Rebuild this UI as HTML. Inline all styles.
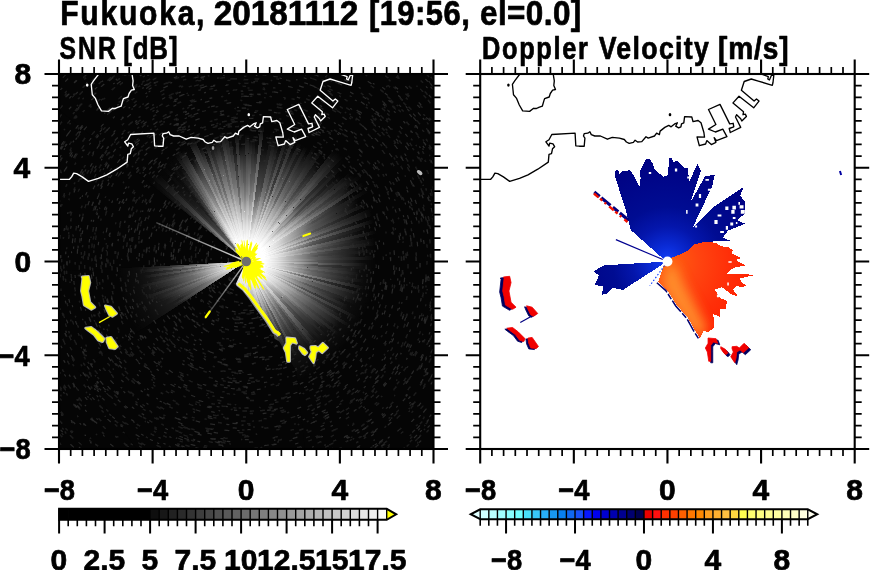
<!DOCTYPE html>
<html><head><meta charset="utf-8"><style>
html,body{margin:0;padding:0;background:#fff;width:870px;height:570px;overflow:hidden}
body>svg{position:absolute;left:0;top:0}
text{font-family:"Liberation Sans",sans-serif;font-weight:bold;fill:#000;stroke:#000;stroke-width:0.7px;stroke-linejoin:round}
</style></head><body>
<svg width="870" height="570" viewBox="0 0 870 570">
<text transform="translate(60.26,25.00) scale(0.8716,1)" style="font-size:34.5px;letter-spacing:2px" >Fukuoka,</text>
<text transform="translate(213.73,25.00) scale(0.9662,1)" style="font-size:34.5px;letter-spacing:0px" >20181112</text>
<text transform="translate(368.90,25.00) scale(0.8991,1)" style="font-size:34.5px;letter-spacing:0.5px" >[19:56,</text>
<text transform="translate(479.99,25.00) scale(0.9100,1)" style="font-size:34.5px;letter-spacing:0.5px" >el=0.0]</text>
<text transform="translate(59.59,58.90) scale(0.8103,1)" style="font-size:30.5px;letter-spacing:2.5px" >SNR</text>
<text transform="translate(123.25,58.90) scale(0.8484,1)" style="font-size:30.5px;letter-spacing:1px" >[dB]</text>
<text transform="translate(482.07,58.90) scale(0.8317,1)" style="font-size:30.5px;letter-spacing:2px" >Doppler</text>
<text transform="translate(598.70,58.90) scale(0.8762,1)" style="font-size:30.5px;letter-spacing:1.5px" >Velocity</text>
<text transform="translate(717.98,58.90) scale(0.9200,1)" style="font-size:30.5px;letter-spacing:1px" >[m/s]</text>
<rect x="59.0" y="74.0" width="374.5" height="375.0" fill="#050505"/>
<svg x="59.0" y="74.0" width="374.5" height="375.0" viewBox="59.0 74.0 374.5 375.0" overflow="hidden">
<defs><radialGradient id="s0" gradientUnits="userSpaceOnUse" cx="246.25" cy="261.50" r="77.9"><stop offset="0.00" stop-color="#fff" stop-opacity="0.95"/><stop offset="0.15" stop-color="#fff" stop-opacity="0.95"/><stop offset="0.35" stop-color="#fff" stop-opacity="0.61"/><stop offset="0.55" stop-color="#fff" stop-opacity="0.30"/><stop offset="0.75" stop-color="#fff" stop-opacity="0.15"/><stop offset="0.90" stop-color="#fff" stop-opacity="0.07"/><stop offset="1.00" stop-color="#fff" stop-opacity="0.00"/></radialGradient><radialGradient id="s1" gradientUnits="userSpaceOnUse" cx="246.25" cy="261.50" r="80.4"><stop offset="0.00" stop-color="#fff" stop-opacity="0.95"/><stop offset="0.15" stop-color="#fff" stop-opacity="0.95"/><stop offset="0.35" stop-color="#fff" stop-opacity="0.61"/><stop offset="0.55" stop-color="#fff" stop-opacity="0.30"/><stop offset="0.75" stop-color="#fff" stop-opacity="0.15"/><stop offset="0.90" stop-color="#fff" stop-opacity="0.07"/><stop offset="1.00" stop-color="#fff" stop-opacity="0.00"/></radialGradient><radialGradient id="s2" gradientUnits="userSpaceOnUse" cx="246.25" cy="261.50" r="85.0"><stop offset="0.00" stop-color="#fff" stop-opacity="0.95"/><stop offset="0.15" stop-color="#fff" stop-opacity="0.95"/><stop offset="0.35" stop-color="#fff" stop-opacity="0.47"/><stop offset="0.55" stop-color="#fff" stop-opacity="0.15"/><stop offset="0.75" stop-color="#fff" stop-opacity="0.07"/><stop offset="0.90" stop-color="#fff" stop-opacity="0.03"/><stop offset="1.00" stop-color="#fff" stop-opacity="0.00"/></radialGradient><radialGradient id="s3" gradientUnits="userSpaceOnUse" cx="246.25" cy="261.50" r="75.1"><stop offset="0.00" stop-color="#fff" stop-opacity="0.95"/><stop offset="0.15" stop-color="#fff" stop-opacity="0.95"/><stop offset="0.35" stop-color="#fff" stop-opacity="0.63"/><stop offset="0.55" stop-color="#fff" stop-opacity="0.32"/><stop offset="0.75" stop-color="#fff" stop-opacity="0.16"/><stop offset="0.90" stop-color="#fff" stop-opacity="0.07"/><stop offset="1.00" stop-color="#fff" stop-opacity="0.00"/></radialGradient><radialGradient id="s4" gradientUnits="userSpaceOnUse" cx="246.25" cy="261.50" r="79.6"><stop offset="0.00" stop-color="#fff" stop-opacity="0.95"/><stop offset="0.15" stop-color="#fff" stop-opacity="0.95"/><stop offset="0.35" stop-color="#fff" stop-opacity="0.53"/><stop offset="0.55" stop-color="#fff" stop-opacity="0.21"/><stop offset="0.75" stop-color="#fff" stop-opacity="0.11"/><stop offset="0.90" stop-color="#fff" stop-opacity="0.05"/><stop offset="1.00" stop-color="#fff" stop-opacity="0.00"/></radialGradient><radialGradient id="s5" gradientUnits="userSpaceOnUse" cx="246.25" cy="261.50" r="92.3"><stop offset="0.00" stop-color="#fff" stop-opacity="0.95"/><stop offset="0.15" stop-color="#fff" stop-opacity="0.95"/><stop offset="0.35" stop-color="#fff" stop-opacity="0.57"/><stop offset="0.55" stop-color="#fff" stop-opacity="0.25"/><stop offset="0.75" stop-color="#fff" stop-opacity="0.13"/><stop offset="0.90" stop-color="#fff" stop-opacity="0.06"/><stop offset="1.00" stop-color="#fff" stop-opacity="0.00"/></radialGradient><radialGradient id="s6" gradientUnits="userSpaceOnUse" cx="246.25" cy="261.50" r="90.0"><stop offset="0.00" stop-color="#fff" stop-opacity="0.95"/><stop offset="0.15" stop-color="#fff" stop-opacity="0.95"/><stop offset="0.35" stop-color="#fff" stop-opacity="0.58"/><stop offset="0.55" stop-color="#fff" stop-opacity="0.26"/><stop offset="0.75" stop-color="#fff" stop-opacity="0.13"/><stop offset="0.90" stop-color="#fff" stop-opacity="0.06"/><stop offset="1.00" stop-color="#fff" stop-opacity="0.00"/></radialGradient><radialGradient id="s7" gradientUnits="userSpaceOnUse" cx="246.25" cy="261.50" r="87.0"><stop offset="0.00" stop-color="#fff" stop-opacity="0.95"/><stop offset="0.15" stop-color="#fff" stop-opacity="0.95"/><stop offset="0.35" stop-color="#fff" stop-opacity="0.50"/><stop offset="0.55" stop-color="#fff" stop-opacity="0.18"/><stop offset="0.75" stop-color="#fff" stop-opacity="0.09"/><stop offset="0.90" stop-color="#fff" stop-opacity="0.04"/><stop offset="1.00" stop-color="#fff" stop-opacity="0.00"/></radialGradient><radialGradient id="s8" gradientUnits="userSpaceOnUse" cx="246.25" cy="261.50" r="87.3"><stop offset="0.00" stop-color="#fff" stop-opacity="0.95"/><stop offset="0.15" stop-color="#fff" stop-opacity="0.95"/><stop offset="0.35" stop-color="#fff" stop-opacity="0.64"/><stop offset="0.55" stop-color="#fff" stop-opacity="0.33"/><stop offset="0.75" stop-color="#fff" stop-opacity="0.16"/><stop offset="0.90" stop-color="#fff" stop-opacity="0.07"/><stop offset="1.00" stop-color="#fff" stop-opacity="0.00"/></radialGradient><radialGradient id="s9" gradientUnits="userSpaceOnUse" cx="246.25" cy="261.50" r="85.8"><stop offset="0.00" stop-color="#fff" stop-opacity="0.95"/><stop offset="0.15" stop-color="#fff" stop-opacity="0.95"/><stop offset="0.35" stop-color="#fff" stop-opacity="0.64"/><stop offset="0.55" stop-color="#fff" stop-opacity="0.33"/><stop offset="0.75" stop-color="#fff" stop-opacity="0.16"/><stop offset="0.90" stop-color="#fff" stop-opacity="0.07"/><stop offset="1.00" stop-color="#fff" stop-opacity="0.00"/></radialGradient><radialGradient id="s10" gradientUnits="userSpaceOnUse" cx="246.25" cy="261.50" r="88.7"><stop offset="0.00" stop-color="#fff" stop-opacity="0.95"/><stop offset="0.15" stop-color="#fff" stop-opacity="0.95"/><stop offset="0.35" stop-color="#fff" stop-opacity="0.48"/><stop offset="0.55" stop-color="#fff" stop-opacity="0.15"/><stop offset="0.75" stop-color="#fff" stop-opacity="0.08"/><stop offset="0.90" stop-color="#fff" stop-opacity="0.03"/><stop offset="1.00" stop-color="#fff" stop-opacity="0.00"/></radialGradient><radialGradient id="s11" gradientUnits="userSpaceOnUse" cx="246.25" cy="261.50" r="90.5"><stop offset="0.00" stop-color="#fff" stop-opacity="0.95"/><stop offset="0.15" stop-color="#fff" stop-opacity="0.95"/><stop offset="0.35" stop-color="#fff" stop-opacity="0.59"/><stop offset="0.55" stop-color="#fff" stop-opacity="0.27"/><stop offset="0.75" stop-color="#fff" stop-opacity="0.14"/><stop offset="0.90" stop-color="#fff" stop-opacity="0.06"/><stop offset="1.00" stop-color="#fff" stop-opacity="0.00"/></radialGradient><radialGradient id="s12" gradientUnits="userSpaceOnUse" cx="246.25" cy="261.50" r="83.0"><stop offset="0.00" stop-color="#fff" stop-opacity="0.95"/><stop offset="0.15" stop-color="#fff" stop-opacity="0.95"/><stop offset="0.35" stop-color="#fff" stop-opacity="0.45"/><stop offset="0.55" stop-color="#fff" stop-opacity="0.12"/><stop offset="0.75" stop-color="#fff" stop-opacity="0.06"/><stop offset="0.90" stop-color="#fff" stop-opacity="0.03"/><stop offset="1.00" stop-color="#fff" stop-opacity="0.00"/></radialGradient><radialGradient id="s13" gradientUnits="userSpaceOnUse" cx="246.25" cy="261.50" r="93.1"><stop offset="0.00" stop-color="#fff" stop-opacity="0.95"/><stop offset="0.15" stop-color="#fff" stop-opacity="0.95"/><stop offset="0.35" stop-color="#fff" stop-opacity="0.56"/><stop offset="0.55" stop-color="#fff" stop-opacity="0.24"/><stop offset="0.75" stop-color="#fff" stop-opacity="0.12"/><stop offset="0.90" stop-color="#fff" stop-opacity="0.05"/><stop offset="1.00" stop-color="#fff" stop-opacity="0.00"/></radialGradient><radialGradient id="s14" gradientUnits="userSpaceOnUse" cx="246.25" cy="261.50" r="91.0"><stop offset="0.00" stop-color="#fff" stop-opacity="0.95"/><stop offset="0.15" stop-color="#fff" stop-opacity="0.95"/><stop offset="0.35" stop-color="#fff" stop-opacity="0.65"/><stop offset="0.55" stop-color="#fff" stop-opacity="0.34"/><stop offset="0.75" stop-color="#fff" stop-opacity="0.17"/><stop offset="0.90" stop-color="#fff" stop-opacity="0.08"/><stop offset="1.00" stop-color="#fff" stop-opacity="0.00"/></radialGradient><radialGradient id="s15" gradientUnits="userSpaceOnUse" cx="246.25" cy="261.50" r="91.3"><stop offset="0.00" stop-color="#fff" stop-opacity="0.95"/><stop offset="0.15" stop-color="#fff" stop-opacity="0.95"/><stop offset="0.35" stop-color="#fff" stop-opacity="0.67"/><stop offset="0.55" stop-color="#fff" stop-opacity="0.36"/><stop offset="0.75" stop-color="#fff" stop-opacity="0.18"/><stop offset="0.90" stop-color="#fff" stop-opacity="0.08"/><stop offset="1.00" stop-color="#fff" stop-opacity="0.00"/></radialGradient><radialGradient id="s16" gradientUnits="userSpaceOnUse" cx="246.25" cy="261.50" r="86.0"><stop offset="0.00" stop-color="#fff" stop-opacity="0.95"/><stop offset="0.15" stop-color="#fff" stop-opacity="0.95"/><stop offset="0.35" stop-color="#fff" stop-opacity="0.65"/><stop offset="0.55" stop-color="#fff" stop-opacity="0.34"/><stop offset="0.75" stop-color="#fff" stop-opacity="0.17"/><stop offset="0.90" stop-color="#fff" stop-opacity="0.08"/><stop offset="1.00" stop-color="#fff" stop-opacity="0.00"/></radialGradient><radialGradient id="s17" gradientUnits="userSpaceOnUse" cx="246.25" cy="261.50" r="87.2"><stop offset="0.00" stop-color="#fff" stop-opacity="0.95"/><stop offset="0.15" stop-color="#fff" stop-opacity="0.95"/><stop offset="0.35" stop-color="#fff" stop-opacity="0.67"/><stop offset="0.55" stop-color="#fff" stop-opacity="0.36"/><stop offset="0.75" stop-color="#fff" stop-opacity="0.18"/><stop offset="0.90" stop-color="#fff" stop-opacity="0.08"/><stop offset="1.00" stop-color="#fff" stop-opacity="0.00"/></radialGradient><radialGradient id="s18" gradientUnits="userSpaceOnUse" cx="246.25" cy="261.50" r="95.3"><stop offset="0.00" stop-color="#fff" stop-opacity="0.95"/><stop offset="0.15" stop-color="#fff" stop-opacity="0.95"/><stop offset="0.35" stop-color="#fff" stop-opacity="0.50"/><stop offset="0.55" stop-color="#fff" stop-opacity="0.17"/><stop offset="0.75" stop-color="#fff" stop-opacity="0.09"/><stop offset="0.90" stop-color="#fff" stop-opacity="0.04"/><stop offset="1.00" stop-color="#fff" stop-opacity="0.00"/></radialGradient><radialGradient id="s19" gradientUnits="userSpaceOnUse" cx="246.25" cy="261.50" r="82.5"><stop offset="0.00" stop-color="#fff" stop-opacity="0.95"/><stop offset="0.15" stop-color="#fff" stop-opacity="0.95"/><stop offset="0.35" stop-color="#fff" stop-opacity="0.51"/><stop offset="0.55" stop-color="#fff" stop-opacity="0.18"/><stop offset="0.75" stop-color="#fff" stop-opacity="0.09"/><stop offset="0.90" stop-color="#fff" stop-opacity="0.04"/><stop offset="1.00" stop-color="#fff" stop-opacity="0.00"/></radialGradient><radialGradient id="s20" gradientUnits="userSpaceOnUse" cx="246.25" cy="261.50" r="97.6"><stop offset="0.00" stop-color="#fff" stop-opacity="0.95"/><stop offset="0.15" stop-color="#fff" stop-opacity="0.95"/><stop offset="0.35" stop-color="#fff" stop-opacity="0.56"/><stop offset="0.55" stop-color="#fff" stop-opacity="0.24"/><stop offset="0.75" stop-color="#fff" stop-opacity="0.12"/><stop offset="0.90" stop-color="#fff" stop-opacity="0.05"/><stop offset="1.00" stop-color="#fff" stop-opacity="0.00"/></radialGradient><radialGradient id="s21" gradientUnits="userSpaceOnUse" cx="246.25" cy="261.50" r="91.9"><stop offset="0.00" stop-color="#fff" stop-opacity="0.95"/><stop offset="0.15" stop-color="#fff" stop-opacity="0.95"/><stop offset="0.35" stop-color="#fff" stop-opacity="0.54"/><stop offset="0.55" stop-color="#fff" stop-opacity="0.22"/><stop offset="0.75" stop-color="#fff" stop-opacity="0.11"/><stop offset="0.90" stop-color="#fff" stop-opacity="0.05"/><stop offset="1.00" stop-color="#fff" stop-opacity="0.00"/></radialGradient><radialGradient id="s22" gradientUnits="userSpaceOnUse" cx="246.25" cy="261.50" r="90.1"><stop offset="0.00" stop-color="#fff" stop-opacity="0.95"/><stop offset="0.15" stop-color="#fff" stop-opacity="0.95"/><stop offset="0.35" stop-color="#fff" stop-opacity="0.55"/><stop offset="0.55" stop-color="#fff" stop-opacity="0.24"/><stop offset="0.75" stop-color="#fff" stop-opacity="0.12"/><stop offset="0.90" stop-color="#fff" stop-opacity="0.05"/><stop offset="1.00" stop-color="#fff" stop-opacity="0.00"/></radialGradient><radialGradient id="s23" gradientUnits="userSpaceOnUse" cx="246.25" cy="261.50" r="88.1"><stop offset="0.00" stop-color="#fff" stop-opacity="0.95"/><stop offset="0.15" stop-color="#fff" stop-opacity="0.95"/><stop offset="0.35" stop-color="#fff" stop-opacity="0.60"/><stop offset="0.55" stop-color="#fff" stop-opacity="0.28"/><stop offset="0.75" stop-color="#fff" stop-opacity="0.14"/><stop offset="0.90" stop-color="#fff" stop-opacity="0.06"/><stop offset="1.00" stop-color="#fff" stop-opacity="0.00"/></radialGradient><radialGradient id="s24" gradientUnits="userSpaceOnUse" cx="246.25" cy="261.50" r="93.1"><stop offset="0.00" stop-color="#fff" stop-opacity="0.95"/><stop offset="0.15" stop-color="#fff" stop-opacity="0.95"/><stop offset="0.35" stop-color="#fff" stop-opacity="0.66"/><stop offset="0.55" stop-color="#fff" stop-opacity="0.35"/><stop offset="0.75" stop-color="#fff" stop-opacity="0.18"/><stop offset="0.90" stop-color="#fff" stop-opacity="0.08"/><stop offset="1.00" stop-color="#fff" stop-opacity="0.00"/></radialGradient><radialGradient id="s25" gradientUnits="userSpaceOnUse" cx="246.25" cy="261.50" r="95.8"><stop offset="0.00" stop-color="#fff" stop-opacity="0.96"/><stop offset="0.15" stop-color="#fff" stop-opacity="0.96"/><stop offset="0.35" stop-color="#fff" stop-opacity="0.67"/><stop offset="0.55" stop-color="#fff" stop-opacity="0.37"/><stop offset="0.75" stop-color="#fff" stop-opacity="0.18"/><stop offset="0.90" stop-color="#fff" stop-opacity="0.08"/><stop offset="1.00" stop-color="#fff" stop-opacity="0.00"/></radialGradient><radialGradient id="s26" gradientUnits="userSpaceOnUse" cx="246.25" cy="261.50" r="99.8"><stop offset="0.00" stop-color="#fff" stop-opacity="0.96"/><stop offset="0.15" stop-color="#fff" stop-opacity="0.96"/><stop offset="0.35" stop-color="#fff" stop-opacity="0.69"/><stop offset="0.55" stop-color="#fff" stop-opacity="0.38"/><stop offset="0.75" stop-color="#fff" stop-opacity="0.19"/><stop offset="0.90" stop-color="#fff" stop-opacity="0.09"/><stop offset="1.00" stop-color="#fff" stop-opacity="0.00"/></radialGradient><radialGradient id="s27" gradientUnits="userSpaceOnUse" cx="246.25" cy="261.50" r="97.2"><stop offset="0.00" stop-color="#fff" stop-opacity="0.96"/><stop offset="0.15" stop-color="#fff" stop-opacity="0.96"/><stop offset="0.35" stop-color="#fff" stop-opacity="0.53"/><stop offset="0.55" stop-color="#fff" stop-opacity="0.20"/><stop offset="0.75" stop-color="#fff" stop-opacity="0.10"/><stop offset="0.90" stop-color="#fff" stop-opacity="0.04"/><stop offset="1.00" stop-color="#fff" stop-opacity="0.00"/></radialGradient><radialGradient id="s28" gradientUnits="userSpaceOnUse" cx="246.25" cy="261.50" r="101.6"><stop offset="0.00" stop-color="#fff" stop-opacity="0.96"/><stop offset="0.15" stop-color="#fff" stop-opacity="0.96"/><stop offset="0.35" stop-color="#fff" stop-opacity="0.66"/><stop offset="0.55" stop-color="#fff" stop-opacity="0.35"/><stop offset="0.75" stop-color="#fff" stop-opacity="0.18"/><stop offset="0.90" stop-color="#fff" stop-opacity="0.08"/><stop offset="1.00" stop-color="#fff" stop-opacity="0.00"/></radialGradient><radialGradient id="s29" gradientUnits="userSpaceOnUse" cx="246.25" cy="261.50" r="103.3"><stop offset="0.00" stop-color="#fff" stop-opacity="0.97"/><stop offset="0.15" stop-color="#fff" stop-opacity="0.97"/><stop offset="0.35" stop-color="#fff" stop-opacity="0.62"/><stop offset="0.55" stop-color="#fff" stop-opacity="0.30"/><stop offset="0.75" stop-color="#fff" stop-opacity="0.15"/><stop offset="0.90" stop-color="#fff" stop-opacity="0.07"/><stop offset="1.00" stop-color="#fff" stop-opacity="0.00"/></radialGradient><radialGradient id="s30" gradientUnits="userSpaceOnUse" cx="246.25" cy="261.50" r="100.5"><stop offset="0.00" stop-color="#fff" stop-opacity="0.97"/><stop offset="0.15" stop-color="#fff" stop-opacity="0.97"/><stop offset="0.35" stop-color="#fff" stop-opacity="0.53"/><stop offset="0.55" stop-color="#fff" stop-opacity="0.20"/><stop offset="0.75" stop-color="#fff" stop-opacity="0.10"/><stop offset="0.90" stop-color="#fff" stop-opacity="0.05"/><stop offset="1.00" stop-color="#fff" stop-opacity="0.00"/></radialGradient><radialGradient id="s31" gradientUnits="userSpaceOnUse" cx="246.25" cy="261.50" r="103.6"><stop offset="0.00" stop-color="#fff" stop-opacity="0.97"/><stop offset="0.15" stop-color="#fff" stop-opacity="0.97"/><stop offset="0.35" stop-color="#fff" stop-opacity="0.60"/><stop offset="0.55" stop-color="#fff" stop-opacity="0.28"/><stop offset="0.75" stop-color="#fff" stop-opacity="0.14"/><stop offset="0.90" stop-color="#fff" stop-opacity="0.06"/><stop offset="1.00" stop-color="#fff" stop-opacity="0.00"/></radialGradient><radialGradient id="s32" gradientUnits="userSpaceOnUse" cx="246.25" cy="261.50" r="93.8"><stop offset="0.00" stop-color="#fff" stop-opacity="0.97"/><stop offset="0.15" stop-color="#fff" stop-opacity="0.97"/><stop offset="0.35" stop-color="#fff" stop-opacity="0.48"/><stop offset="0.55" stop-color="#fff" stop-opacity="0.15"/><stop offset="0.75" stop-color="#fff" stop-opacity="0.07"/><stop offset="0.90" stop-color="#fff" stop-opacity="0.03"/><stop offset="1.00" stop-color="#fff" stop-opacity="0.00"/></radialGradient><radialGradient id="s33" gradientUnits="userSpaceOnUse" cx="246.25" cy="261.50" r="105.8"><stop offset="0.00" stop-color="#fff" stop-opacity="0.98"/><stop offset="0.15" stop-color="#fff" stop-opacity="0.98"/><stop offset="0.35" stop-color="#fff" stop-opacity="0.67"/><stop offset="0.55" stop-color="#fff" stop-opacity="0.35"/><stop offset="0.75" stop-color="#fff" stop-opacity="0.18"/><stop offset="0.90" stop-color="#fff" stop-opacity="0.08"/><stop offset="1.00" stop-color="#fff" stop-opacity="0.00"/></radialGradient><radialGradient id="s34" gradientUnits="userSpaceOnUse" cx="246.25" cy="261.50" r="91.4"><stop offset="0.00" stop-color="#fff" stop-opacity="0.98"/><stop offset="0.15" stop-color="#fff" stop-opacity="0.98"/><stop offset="0.35" stop-color="#fff" stop-opacity="0.67"/><stop offset="0.55" stop-color="#fff" stop-opacity="0.35"/><stop offset="0.75" stop-color="#fff" stop-opacity="0.17"/><stop offset="0.90" stop-color="#fff" stop-opacity="0.08"/><stop offset="1.00" stop-color="#fff" stop-opacity="0.00"/></radialGradient><radialGradient id="s35" gradientUnits="userSpaceOnUse" cx="246.25" cy="261.50" r="98.5"><stop offset="0.00" stop-color="#fff" stop-opacity="0.98"/><stop offset="0.15" stop-color="#fff" stop-opacity="0.98"/><stop offset="0.35" stop-color="#fff" stop-opacity="0.53"/><stop offset="0.55" stop-color="#fff" stop-opacity="0.19"/><stop offset="0.75" stop-color="#fff" stop-opacity="0.10"/><stop offset="0.90" stop-color="#fff" stop-opacity="0.04"/><stop offset="1.00" stop-color="#fff" stop-opacity="0.00"/></radialGradient><radialGradient id="s36" gradientUnits="userSpaceOnUse" cx="246.25" cy="261.50" r="96.8"><stop offset="0.00" stop-color="#fff" stop-opacity="0.98"/><stop offset="0.15" stop-color="#fff" stop-opacity="0.98"/><stop offset="0.35" stop-color="#fff" stop-opacity="0.64"/><stop offset="0.55" stop-color="#fff" stop-opacity="0.32"/><stop offset="0.75" stop-color="#fff" stop-opacity="0.16"/><stop offset="0.90" stop-color="#fff" stop-opacity="0.07"/><stop offset="1.00" stop-color="#fff" stop-opacity="0.00"/></radialGradient><radialGradient id="s37" gradientUnits="userSpaceOnUse" cx="246.25" cy="261.50" r="109.2"><stop offset="0.00" stop-color="#fff" stop-opacity="0.98"/><stop offset="0.15" stop-color="#fff" stop-opacity="0.98"/><stop offset="0.35" stop-color="#fff" stop-opacity="0.48"/><stop offset="0.55" stop-color="#fff" stop-opacity="0.14"/><stop offset="0.75" stop-color="#fff" stop-opacity="0.07"/><stop offset="0.90" stop-color="#fff" stop-opacity="0.03"/><stop offset="1.00" stop-color="#fff" stop-opacity="0.00"/></radialGradient><radialGradient id="s38" gradientUnits="userSpaceOnUse" cx="246.25" cy="261.50" r="104.6"><stop offset="0.00" stop-color="#fff" stop-opacity="0.99"/><stop offset="0.15" stop-color="#fff" stop-opacity="0.99"/><stop offset="0.35" stop-color="#fff" stop-opacity="0.46"/><stop offset="0.55" stop-color="#fff" stop-opacity="0.12"/><stop offset="0.75" stop-color="#fff" stop-opacity="0.06"/><stop offset="0.90" stop-color="#fff" stop-opacity="0.03"/><stop offset="1.00" stop-color="#fff" stop-opacity="0.00"/></radialGradient><radialGradient id="s39" gradientUnits="userSpaceOnUse" cx="246.25" cy="261.50" r="107.4"><stop offset="0.00" stop-color="#fff" stop-opacity="0.99"/><stop offset="0.15" stop-color="#fff" stop-opacity="0.99"/><stop offset="0.35" stop-color="#fff" stop-opacity="0.55"/><stop offset="0.55" stop-color="#fff" stop-opacity="0.22"/><stop offset="0.75" stop-color="#fff" stop-opacity="0.11"/><stop offset="0.90" stop-color="#fff" stop-opacity="0.05"/><stop offset="1.00" stop-color="#fff" stop-opacity="0.00"/></radialGradient><radialGradient id="s40" gradientUnits="userSpaceOnUse" cx="246.25" cy="261.50" r="111.4"><stop offset="0.00" stop-color="#fff" stop-opacity="0.99"/><stop offset="0.15" stop-color="#fff" stop-opacity="0.99"/><stop offset="0.35" stop-color="#fff" stop-opacity="0.69"/><stop offset="0.55" stop-color="#fff" stop-opacity="0.37"/><stop offset="0.75" stop-color="#fff" stop-opacity="0.18"/><stop offset="0.90" stop-color="#fff" stop-opacity="0.08"/><stop offset="1.00" stop-color="#fff" stop-opacity="0.00"/></radialGradient><radialGradient id="s41" gradientUnits="userSpaceOnUse" cx="246.25" cy="261.50" r="104.3"><stop offset="0.00" stop-color="#fff" stop-opacity="0.99"/><stop offset="0.15" stop-color="#fff" stop-opacity="0.99"/><stop offset="0.35" stop-color="#fff" stop-opacity="0.71"/><stop offset="0.55" stop-color="#fff" stop-opacity="0.39"/><stop offset="0.75" stop-color="#fff" stop-opacity="0.20"/><stop offset="0.90" stop-color="#fff" stop-opacity="0.09"/><stop offset="1.00" stop-color="#fff" stop-opacity="0.00"/></radialGradient><radialGradient id="s42" gradientUnits="userSpaceOnUse" cx="246.25" cy="261.50" r="100.8"><stop offset="0.00" stop-color="#fff" stop-opacity="1.00"/><stop offset="0.15" stop-color="#fff" stop-opacity="1.00"/><stop offset="0.35" stop-color="#fff" stop-opacity="0.51"/><stop offset="0.55" stop-color="#fff" stop-opacity="0.17"/><stop offset="0.75" stop-color="#fff" stop-opacity="0.09"/><stop offset="0.90" stop-color="#fff" stop-opacity="0.04"/><stop offset="1.00" stop-color="#fff" stop-opacity="0.00"/></radialGradient><radialGradient id="s43" gradientUnits="userSpaceOnUse" cx="246.25" cy="261.50" r="107.5"><stop offset="0.00" stop-color="#fff" stop-opacity="1.00"/><stop offset="0.15" stop-color="#fff" stop-opacity="1.00"/><stop offset="0.35" stop-color="#fff" stop-opacity="0.46"/><stop offset="0.55" stop-color="#fff" stop-opacity="0.11"/><stop offset="0.75" stop-color="#fff" stop-opacity="0.06"/><stop offset="0.90" stop-color="#fff" stop-opacity="0.03"/><stop offset="1.00" stop-color="#fff" stop-opacity="0.00"/></radialGradient><radialGradient id="s44" gradientUnits="userSpaceOnUse" cx="246.25" cy="261.50" r="99.7"><stop offset="0.00" stop-color="#fff" stop-opacity="1.00"/><stop offset="0.15" stop-color="#fff" stop-opacity="1.00"/><stop offset="0.35" stop-color="#fff" stop-opacity="0.57"/><stop offset="0.55" stop-color="#fff" stop-opacity="0.24"/><stop offset="0.75" stop-color="#fff" stop-opacity="0.12"/><stop offset="0.90" stop-color="#fff" stop-opacity="0.05"/><stop offset="1.00" stop-color="#fff" stop-opacity="0.00"/></radialGradient><radialGradient id="s45" gradientUnits="userSpaceOnUse" cx="246.25" cy="261.50" r="109.1"><stop offset="0.00" stop-color="#fff" stop-opacity="1.00"/><stop offset="0.15" stop-color="#fff" stop-opacity="1.00"/><stop offset="0.35" stop-color="#fff" stop-opacity="0.52"/><stop offset="0.55" stop-color="#fff" stop-opacity="0.18"/><stop offset="0.75" stop-color="#fff" stop-opacity="0.09"/><stop offset="0.90" stop-color="#fff" stop-opacity="0.04"/><stop offset="1.00" stop-color="#fff" stop-opacity="0.00"/></radialGradient><radialGradient id="s46" gradientUnits="userSpaceOnUse" cx="246.25" cy="261.50" r="97.5"><stop offset="0.00" stop-color="#fff" stop-opacity="1.00"/><stop offset="0.15" stop-color="#fff" stop-opacity="1.00"/><stop offset="0.35" stop-color="#fff" stop-opacity="0.67"/><stop offset="0.55" stop-color="#fff" stop-opacity="0.34"/><stop offset="0.75" stop-color="#fff" stop-opacity="0.17"/><stop offset="0.90" stop-color="#fff" stop-opacity="0.08"/><stop offset="1.00" stop-color="#fff" stop-opacity="0.00"/></radialGradient><radialGradient id="s47" gradientUnits="userSpaceOnUse" cx="246.25" cy="261.50" r="104.0"><stop offset="0.00" stop-color="#fff" stop-opacity="1.00"/><stop offset="0.15" stop-color="#fff" stop-opacity="1.00"/><stop offset="0.35" stop-color="#fff" stop-opacity="0.71"/><stop offset="0.55" stop-color="#fff" stop-opacity="0.38"/><stop offset="0.75" stop-color="#fff" stop-opacity="0.19"/><stop offset="0.90" stop-color="#fff" stop-opacity="0.09"/><stop offset="1.00" stop-color="#fff" stop-opacity="0.00"/></radialGradient><radialGradient id="s48" gradientUnits="userSpaceOnUse" cx="246.25" cy="261.50" r="117.3"><stop offset="0.00" stop-color="#fff" stop-opacity="1.00"/><stop offset="0.15" stop-color="#fff" stop-opacity="1.00"/><stop offset="0.35" stop-color="#fff" stop-opacity="0.60"/><stop offset="0.55" stop-color="#fff" stop-opacity="0.27"/><stop offset="0.75" stop-color="#fff" stop-opacity="0.13"/><stop offset="0.90" stop-color="#fff" stop-opacity="0.06"/><stop offset="1.00" stop-color="#fff" stop-opacity="0.00"/></radialGradient><radialGradient id="s49" gradientUnits="userSpaceOnUse" cx="246.25" cy="261.50" r="108.4"><stop offset="0.00" stop-color="#fff" stop-opacity="1.00"/><stop offset="0.15" stop-color="#fff" stop-opacity="1.00"/><stop offset="0.35" stop-color="#fff" stop-opacity="0.62"/><stop offset="0.55" stop-color="#fff" stop-opacity="0.29"/><stop offset="0.75" stop-color="#fff" stop-opacity="0.14"/><stop offset="0.90" stop-color="#fff" stop-opacity="0.06"/><stop offset="1.00" stop-color="#fff" stop-opacity="0.00"/></radialGradient><radialGradient id="s50" gradientUnits="userSpaceOnUse" cx="246.25" cy="261.50" r="113.1"><stop offset="0.00" stop-color="#fff" stop-opacity="1.00"/><stop offset="0.15" stop-color="#fff" stop-opacity="1.00"/><stop offset="0.35" stop-color="#fff" stop-opacity="0.64"/><stop offset="0.55" stop-color="#fff" stop-opacity="0.31"/><stop offset="0.75" stop-color="#fff" stop-opacity="0.15"/><stop offset="0.90" stop-color="#fff" stop-opacity="0.07"/><stop offset="1.00" stop-color="#fff" stop-opacity="0.00"/></radialGradient><radialGradient id="s51" gradientUnits="userSpaceOnUse" cx="246.25" cy="261.50" r="111.9"><stop offset="0.00" stop-color="#fff" stop-opacity="1.00"/><stop offset="0.15" stop-color="#fff" stop-opacity="1.00"/><stop offset="0.35" stop-color="#fff" stop-opacity="0.64"/><stop offset="0.55" stop-color="#fff" stop-opacity="0.31"/><stop offset="0.75" stop-color="#fff" stop-opacity="0.16"/><stop offset="0.90" stop-color="#fff" stop-opacity="0.07"/><stop offset="1.00" stop-color="#fff" stop-opacity="0.00"/></radialGradient><radialGradient id="s52" gradientUnits="userSpaceOnUse" cx="246.25" cy="261.50" r="121.0"><stop offset="0.00" stop-color="#fff" stop-opacity="1.00"/><stop offset="0.15" stop-color="#fff" stop-opacity="1.00"/><stop offset="0.35" stop-color="#fff" stop-opacity="0.62"/><stop offset="0.55" stop-color="#fff" stop-opacity="0.29"/><stop offset="0.75" stop-color="#fff" stop-opacity="0.15"/><stop offset="0.90" stop-color="#fff" stop-opacity="0.07"/><stop offset="1.00" stop-color="#fff" stop-opacity="0.00"/></radialGradient><radialGradient id="s53" gradientUnits="userSpaceOnUse" cx="246.25" cy="261.50" r="110.3"><stop offset="0.00" stop-color="#fff" stop-opacity="1.00"/><stop offset="0.15" stop-color="#fff" stop-opacity="1.00"/><stop offset="0.35" stop-color="#fff" stop-opacity="0.66"/><stop offset="0.55" stop-color="#fff" stop-opacity="0.33"/><stop offset="0.75" stop-color="#fff" stop-opacity="0.17"/><stop offset="0.90" stop-color="#fff" stop-opacity="0.07"/><stop offset="1.00" stop-color="#fff" stop-opacity="0.00"/></radialGradient><radialGradient id="s54" gradientUnits="userSpaceOnUse" cx="246.25" cy="261.50" r="106.4"><stop offset="0.00" stop-color="#fff" stop-opacity="1.00"/><stop offset="0.15" stop-color="#fff" stop-opacity="1.00"/><stop offset="0.35" stop-color="#fff" stop-opacity="0.58"/><stop offset="0.55" stop-color="#fff" stop-opacity="0.24"/><stop offset="0.75" stop-color="#fff" stop-opacity="0.12"/><stop offset="0.90" stop-color="#fff" stop-opacity="0.05"/><stop offset="1.00" stop-color="#fff" stop-opacity="0.00"/></radialGradient><radialGradient id="s55" gradientUnits="userSpaceOnUse" cx="246.25" cy="261.50" r="123.5"><stop offset="0.00" stop-color="#fff" stop-opacity="1.00"/><stop offset="0.15" stop-color="#fff" stop-opacity="1.00"/><stop offset="0.35" stop-color="#fff" stop-opacity="0.61"/><stop offset="0.55" stop-color="#fff" stop-opacity="0.28"/><stop offset="0.75" stop-color="#fff" stop-opacity="0.14"/><stop offset="0.90" stop-color="#fff" stop-opacity="0.06"/><stop offset="1.00" stop-color="#fff" stop-opacity="0.00"/></radialGradient><radialGradient id="s56" gradientUnits="userSpaceOnUse" cx="246.25" cy="261.50" r="114.3"><stop offset="0.00" stop-color="#fff" stop-opacity="1.00"/><stop offset="0.15" stop-color="#fff" stop-opacity="1.00"/><stop offset="0.35" stop-color="#fff" stop-opacity="0.46"/><stop offset="0.55" stop-color="#fff" stop-opacity="0.11"/><stop offset="0.75" stop-color="#fff" stop-opacity="0.06"/><stop offset="0.90" stop-color="#fff" stop-opacity="0.03"/><stop offset="1.00" stop-color="#fff" stop-opacity="0.00"/></radialGradient><radialGradient id="s57" gradientUnits="userSpaceOnUse" cx="246.25" cy="261.50" r="111.7"><stop offset="0.00" stop-color="#fff" stop-opacity="1.00"/><stop offset="0.15" stop-color="#fff" stop-opacity="1.00"/><stop offset="0.35" stop-color="#fff" stop-opacity="0.61"/><stop offset="0.55" stop-color="#fff" stop-opacity="0.28"/><stop offset="0.75" stop-color="#fff" stop-opacity="0.14"/><stop offset="0.90" stop-color="#fff" stop-opacity="0.06"/><stop offset="1.00" stop-color="#fff" stop-opacity="0.00"/></radialGradient><radialGradient id="s58" gradientUnits="userSpaceOnUse" cx="246.25" cy="261.50" r="103.1"><stop offset="0.00" stop-color="#fff" stop-opacity="1.00"/><stop offset="0.15" stop-color="#fff" stop-opacity="1.00"/><stop offset="0.35" stop-color="#fff" stop-opacity="0.64"/><stop offset="0.55" stop-color="#fff" stop-opacity="0.31"/><stop offset="0.75" stop-color="#fff" stop-opacity="0.15"/><stop offset="0.90" stop-color="#fff" stop-opacity="0.07"/><stop offset="1.00" stop-color="#fff" stop-opacity="0.00"/></radialGradient><radialGradient id="s59" gradientUnits="userSpaceOnUse" cx="246.25" cy="261.50" r="117.5"><stop offset="0.00" stop-color="#fff" stop-opacity="1.00"/><stop offset="0.15" stop-color="#fff" stop-opacity="1.00"/><stop offset="0.35" stop-color="#fff" stop-opacity="0.50"/><stop offset="0.55" stop-color="#fff" stop-opacity="0.15"/><stop offset="0.75" stop-color="#fff" stop-opacity="0.08"/><stop offset="0.90" stop-color="#fff" stop-opacity="0.03"/><stop offset="1.00" stop-color="#fff" stop-opacity="0.00"/></radialGradient><radialGradient id="s60" gradientUnits="userSpaceOnUse" cx="246.25" cy="261.50" r="117.8"><stop offset="0.00" stop-color="#fff" stop-opacity="1.00"/><stop offset="0.15" stop-color="#fff" stop-opacity="1.00"/><stop offset="0.35" stop-color="#fff" stop-opacity="0.59"/><stop offset="0.55" stop-color="#fff" stop-opacity="0.26"/><stop offset="0.75" stop-color="#fff" stop-opacity="0.13"/><stop offset="0.90" stop-color="#fff" stop-opacity="0.06"/><stop offset="1.00" stop-color="#fff" stop-opacity="0.00"/></radialGradient><radialGradient id="s61" gradientUnits="userSpaceOnUse" cx="246.25" cy="261.50" r="119.4"><stop offset="0.00" stop-color="#fff" stop-opacity="1.00"/><stop offset="0.15" stop-color="#fff" stop-opacity="1.00"/><stop offset="0.35" stop-color="#fff" stop-opacity="0.58"/><stop offset="0.55" stop-color="#fff" stop-opacity="0.24"/><stop offset="0.75" stop-color="#fff" stop-opacity="0.12"/><stop offset="0.90" stop-color="#fff" stop-opacity="0.05"/><stop offset="1.00" stop-color="#fff" stop-opacity="0.00"/></radialGradient><radialGradient id="s62" gradientUnits="userSpaceOnUse" cx="246.25" cy="261.50" r="120.5"><stop offset="0.00" stop-color="#fff" stop-opacity="1.00"/><stop offset="0.15" stop-color="#fff" stop-opacity="1.00"/><stop offset="0.35" stop-color="#fff" stop-opacity="0.66"/><stop offset="0.55" stop-color="#fff" stop-opacity="0.33"/><stop offset="0.75" stop-color="#fff" stop-opacity="0.16"/><stop offset="0.90" stop-color="#fff" stop-opacity="0.07"/><stop offset="1.00" stop-color="#fff" stop-opacity="0.00"/></radialGradient><radialGradient id="s63" gradientUnits="userSpaceOnUse" cx="246.25" cy="261.50" r="105.1"><stop offset="0.00" stop-color="#fff" stop-opacity="1.00"/><stop offset="0.15" stop-color="#fff" stop-opacity="1.00"/><stop offset="0.35" stop-color="#fff" stop-opacity="0.50"/><stop offset="0.55" stop-color="#fff" stop-opacity="0.15"/><stop offset="0.75" stop-color="#fff" stop-opacity="0.08"/><stop offset="0.90" stop-color="#fff" stop-opacity="0.03"/><stop offset="1.00" stop-color="#fff" stop-opacity="0.00"/></radialGradient><radialGradient id="s64" gradientUnits="userSpaceOnUse" cx="246.25" cy="261.50" r="120.7"><stop offset="0.00" stop-color="#fff" stop-opacity="1.00"/><stop offset="0.15" stop-color="#fff" stop-opacity="1.00"/><stop offset="0.35" stop-color="#fff" stop-opacity="0.68"/><stop offset="0.55" stop-color="#fff" stop-opacity="0.36"/><stop offset="0.75" stop-color="#fff" stop-opacity="0.18"/><stop offset="0.90" stop-color="#fff" stop-opacity="0.08"/><stop offset="1.00" stop-color="#fff" stop-opacity="0.00"/></radialGradient><radialGradient id="s65" gradientUnits="userSpaceOnUse" cx="246.25" cy="261.50" r="111.2"><stop offset="0.00" stop-color="#fff" stop-opacity="1.00"/><stop offset="0.15" stop-color="#fff" stop-opacity="1.00"/><stop offset="0.35" stop-color="#fff" stop-opacity="0.62"/><stop offset="0.55" stop-color="#fff" stop-opacity="0.28"/><stop offset="0.75" stop-color="#fff" stop-opacity="0.14"/><stop offset="0.90" stop-color="#fff" stop-opacity="0.06"/><stop offset="1.00" stop-color="#fff" stop-opacity="0.00"/></radialGradient><radialGradient id="s66" gradientUnits="userSpaceOnUse" cx="246.25" cy="261.50" r="119.6"><stop offset="0.00" stop-color="#fff" stop-opacity="1.00"/><stop offset="0.15" stop-color="#fff" stop-opacity="1.00"/><stop offset="0.35" stop-color="#fff" stop-opacity="0.58"/><stop offset="0.55" stop-color="#fff" stop-opacity="0.24"/><stop offset="0.75" stop-color="#fff" stop-opacity="0.12"/><stop offset="0.90" stop-color="#fff" stop-opacity="0.05"/><stop offset="1.00" stop-color="#fff" stop-opacity="0.00"/></radialGradient><radialGradient id="s67" gradientUnits="userSpaceOnUse" cx="246.25" cy="261.50" r="114.7"><stop offset="0.00" stop-color="#fff" stop-opacity="1.00"/><stop offset="0.15" stop-color="#fff" stop-opacity="1.00"/><stop offset="0.35" stop-color="#fff" stop-opacity="0.57"/><stop offset="0.55" stop-color="#fff" stop-opacity="0.23"/><stop offset="0.75" stop-color="#fff" stop-opacity="0.12"/><stop offset="0.90" stop-color="#fff" stop-opacity="0.05"/><stop offset="1.00" stop-color="#fff" stop-opacity="0.00"/></radialGradient><radialGradient id="s68" gradientUnits="userSpaceOnUse" cx="246.25" cy="261.50" r="115.2"><stop offset="0.00" stop-color="#fff" stop-opacity="1.00"/><stop offset="0.15" stop-color="#fff" stop-opacity="1.00"/><stop offset="0.35" stop-color="#fff" stop-opacity="0.63"/><stop offset="0.55" stop-color="#fff" stop-opacity="0.30"/><stop offset="0.75" stop-color="#fff" stop-opacity="0.15"/><stop offset="0.90" stop-color="#fff" stop-opacity="0.07"/><stop offset="1.00" stop-color="#fff" stop-opacity="0.00"/></radialGradient><radialGradient id="s69" gradientUnits="userSpaceOnUse" cx="246.25" cy="261.50" r="114.0"><stop offset="0.00" stop-color="#fff" stop-opacity="1.00"/><stop offset="0.15" stop-color="#fff" stop-opacity="1.00"/><stop offset="0.35" stop-color="#fff" stop-opacity="0.59"/><stop offset="0.55" stop-color="#fff" stop-opacity="0.26"/><stop offset="0.75" stop-color="#fff" stop-opacity="0.13"/><stop offset="0.90" stop-color="#fff" stop-opacity="0.06"/><stop offset="1.00" stop-color="#fff" stop-opacity="0.00"/></radialGradient><radialGradient id="s70" gradientUnits="userSpaceOnUse" cx="246.25" cy="261.50" r="125.6"><stop offset="0.00" stop-color="#fff" stop-opacity="1.00"/><stop offset="0.15" stop-color="#fff" stop-opacity="1.00"/><stop offset="0.35" stop-color="#fff" stop-opacity="0.47"/><stop offset="0.55" stop-color="#fff" stop-opacity="0.12"/><stop offset="0.75" stop-color="#fff" stop-opacity="0.06"/><stop offset="0.90" stop-color="#fff" stop-opacity="0.03"/><stop offset="1.00" stop-color="#fff" stop-opacity="0.00"/></radialGradient><radialGradient id="s71" gradientUnits="userSpaceOnUse" cx="246.25" cy="261.50" r="121.2"><stop offset="0.00" stop-color="#fff" stop-opacity="1.00"/><stop offset="0.15" stop-color="#fff" stop-opacity="1.00"/><stop offset="0.35" stop-color="#fff" stop-opacity="0.64"/><stop offset="0.55" stop-color="#fff" stop-opacity="0.31"/><stop offset="0.75" stop-color="#fff" stop-opacity="0.15"/><stop offset="0.90" stop-color="#fff" stop-opacity="0.07"/><stop offset="1.00" stop-color="#fff" stop-opacity="0.00"/></radialGradient><radialGradient id="s72" gradientUnits="userSpaceOnUse" cx="246.25" cy="261.50" r="115.4"><stop offset="0.00" stop-color="#fff" stop-opacity="1.00"/><stop offset="0.15" stop-color="#fff" stop-opacity="1.00"/><stop offset="0.35" stop-color="#fff" stop-opacity="0.55"/><stop offset="0.55" stop-color="#fff" stop-opacity="0.21"/><stop offset="0.75" stop-color="#fff" stop-opacity="0.11"/><stop offset="0.90" stop-color="#fff" stop-opacity="0.05"/><stop offset="1.00" stop-color="#fff" stop-opacity="0.00"/></radialGradient><radialGradient id="s73" gradientUnits="userSpaceOnUse" cx="246.25" cy="261.50" r="127.9"><stop offset="0.00" stop-color="#fff" stop-opacity="1.00"/><stop offset="0.15" stop-color="#fff" stop-opacity="1.00"/><stop offset="0.35" stop-color="#fff" stop-opacity="0.55"/><stop offset="0.55" stop-color="#fff" stop-opacity="0.21"/><stop offset="0.75" stop-color="#fff" stop-opacity="0.10"/><stop offset="0.90" stop-color="#fff" stop-opacity="0.05"/><stop offset="1.00" stop-color="#fff" stop-opacity="0.00"/></radialGradient><radialGradient id="s74" gradientUnits="userSpaceOnUse" cx="246.25" cy="261.50" r="113.5"><stop offset="0.00" stop-color="#fff" stop-opacity="1.00"/><stop offset="0.15" stop-color="#fff" stop-opacity="1.00"/><stop offset="0.35" stop-color="#fff" stop-opacity="0.59"/><stop offset="0.55" stop-color="#fff" stop-opacity="0.26"/><stop offset="0.75" stop-color="#fff" stop-opacity="0.13"/><stop offset="0.90" stop-color="#fff" stop-opacity="0.06"/><stop offset="1.00" stop-color="#fff" stop-opacity="0.00"/></radialGradient><radialGradient id="s75" gradientUnits="userSpaceOnUse" cx="246.25" cy="261.50" r="126.4"><stop offset="0.00" stop-color="#fff" stop-opacity="1.00"/><stop offset="0.15" stop-color="#fff" stop-opacity="1.00"/><stop offset="0.35" stop-color="#fff" stop-opacity="0.51"/><stop offset="0.55" stop-color="#fff" stop-opacity="0.16"/><stop offset="0.75" stop-color="#fff" stop-opacity="0.08"/><stop offset="0.90" stop-color="#fff" stop-opacity="0.04"/><stop offset="1.00" stop-color="#fff" stop-opacity="0.00"/></radialGradient><radialGradient id="s76" gradientUnits="userSpaceOnUse" cx="246.25" cy="261.50" r="117.8"><stop offset="0.00" stop-color="#fff" stop-opacity="1.00"/><stop offset="0.15" stop-color="#fff" stop-opacity="1.00"/><stop offset="0.35" stop-color="#fff" stop-opacity="0.56"/><stop offset="0.55" stop-color="#fff" stop-opacity="0.23"/><stop offset="0.75" stop-color="#fff" stop-opacity="0.11"/><stop offset="0.90" stop-color="#fff" stop-opacity="0.05"/><stop offset="1.00" stop-color="#fff" stop-opacity="0.00"/></radialGradient><radialGradient id="s77" gradientUnits="userSpaceOnUse" cx="246.25" cy="261.50" r="130.8"><stop offset="0.00" stop-color="#fff" stop-opacity="1.00"/><stop offset="0.15" stop-color="#fff" stop-opacity="1.00"/><stop offset="0.35" stop-color="#fff" stop-opacity="0.59"/><stop offset="0.55" stop-color="#fff" stop-opacity="0.26"/><stop offset="0.75" stop-color="#fff" stop-opacity="0.13"/><stop offset="0.90" stop-color="#fff" stop-opacity="0.06"/><stop offset="1.00" stop-color="#fff" stop-opacity="0.00"/></radialGradient><radialGradient id="s78" gradientUnits="userSpaceOnUse" cx="246.25" cy="261.50" r="132.0"><stop offset="0.00" stop-color="#fff" stop-opacity="1.00"/><stop offset="0.15" stop-color="#fff" stop-opacity="1.00"/><stop offset="0.35" stop-color="#fff" stop-opacity="0.53"/><stop offset="0.55" stop-color="#fff" stop-opacity="0.19"/><stop offset="0.75" stop-color="#fff" stop-opacity="0.09"/><stop offset="0.90" stop-color="#fff" stop-opacity="0.04"/><stop offset="1.00" stop-color="#fff" stop-opacity="0.00"/></radialGradient><radialGradient id="s79" gradientUnits="userSpaceOnUse" cx="246.25" cy="261.50" r="119.7"><stop offset="0.00" stop-color="#fff" stop-opacity="1.00"/><stop offset="0.15" stop-color="#fff" stop-opacity="1.00"/><stop offset="0.35" stop-color="#fff" stop-opacity="0.63"/><stop offset="0.55" stop-color="#fff" stop-opacity="0.30"/><stop offset="0.75" stop-color="#fff" stop-opacity="0.15"/><stop offset="0.90" stop-color="#fff" stop-opacity="0.07"/><stop offset="1.00" stop-color="#fff" stop-opacity="0.00"/></radialGradient><radialGradient id="s80" gradientUnits="userSpaceOnUse" cx="246.25" cy="261.50" r="133.8"><stop offset="0.00" stop-color="#fff" stop-opacity="1.00"/><stop offset="0.15" stop-color="#fff" stop-opacity="1.00"/><stop offset="0.35" stop-color="#fff" stop-opacity="0.61"/><stop offset="0.55" stop-color="#fff" stop-opacity="0.28"/><stop offset="0.75" stop-color="#fff" stop-opacity="0.14"/><stop offset="0.90" stop-color="#fff" stop-opacity="0.06"/><stop offset="1.00" stop-color="#fff" stop-opacity="0.00"/></radialGradient><radialGradient id="s81" gradientUnits="userSpaceOnUse" cx="246.25" cy="261.50" r="117.9"><stop offset="0.00" stop-color="#fff" stop-opacity="1.00"/><stop offset="0.15" stop-color="#fff" stop-opacity="1.00"/><stop offset="0.35" stop-color="#fff" stop-opacity="0.52"/><stop offset="0.55" stop-color="#fff" stop-opacity="0.17"/><stop offset="0.75" stop-color="#fff" stop-opacity="0.09"/><stop offset="0.90" stop-color="#fff" stop-opacity="0.04"/><stop offset="1.00" stop-color="#fff" stop-opacity="0.00"/></radialGradient><radialGradient id="s82" gradientUnits="userSpaceOnUse" cx="246.25" cy="261.50" r="126.1"><stop offset="0.00" stop-color="#fff" stop-opacity="1.00"/><stop offset="0.15" stop-color="#fff" stop-opacity="1.00"/><stop offset="0.35" stop-color="#fff" stop-opacity="0.53"/><stop offset="0.55" stop-color="#fff" stop-opacity="0.18"/><stop offset="0.75" stop-color="#fff" stop-opacity="0.09"/><stop offset="0.90" stop-color="#fff" stop-opacity="0.04"/><stop offset="1.00" stop-color="#fff" stop-opacity="0.00"/></radialGradient><radialGradient id="s83" gradientUnits="userSpaceOnUse" cx="246.25" cy="261.50" r="133.6"><stop offset="0.00" stop-color="#fff" stop-opacity="1.00"/><stop offset="0.15" stop-color="#fff" stop-opacity="1.00"/><stop offset="0.35" stop-color="#fff" stop-opacity="0.66"/><stop offset="0.55" stop-color="#fff" stop-opacity="0.34"/><stop offset="0.75" stop-color="#fff" stop-opacity="0.17"/><stop offset="0.90" stop-color="#fff" stop-opacity="0.08"/><stop offset="1.00" stop-color="#fff" stop-opacity="0.00"/></radialGradient><radialGradient id="s84" gradientUnits="userSpaceOnUse" cx="246.25" cy="261.50" r="118.4"><stop offset="0.00" stop-color="#fff" stop-opacity="1.00"/><stop offset="0.15" stop-color="#fff" stop-opacity="1.00"/><stop offset="0.35" stop-color="#fff" stop-opacity="0.57"/><stop offset="0.55" stop-color="#fff" stop-opacity="0.24"/><stop offset="0.75" stop-color="#fff" stop-opacity="0.12"/><stop offset="0.90" stop-color="#fff" stop-opacity="0.05"/><stop offset="1.00" stop-color="#fff" stop-opacity="0.00"/></radialGradient><radialGradient id="s85" gradientUnits="userSpaceOnUse" cx="246.25" cy="261.50" r="134.7"><stop offset="0.00" stop-color="#fff" stop-opacity="1.00"/><stop offset="0.15" stop-color="#fff" stop-opacity="1.00"/><stop offset="0.35" stop-color="#fff" stop-opacity="0.64"/><stop offset="0.55" stop-color="#fff" stop-opacity="0.31"/><stop offset="0.75" stop-color="#fff" stop-opacity="0.15"/><stop offset="0.90" stop-color="#fff" stop-opacity="0.07"/><stop offset="1.00" stop-color="#fff" stop-opacity="0.00"/></radialGradient><radialGradient id="s86" gradientUnits="userSpaceOnUse" cx="246.25" cy="261.50" r="135.3"><stop offset="0.00" stop-color="#fff" stop-opacity="1.00"/><stop offset="0.15" stop-color="#fff" stop-opacity="1.00"/><stop offset="0.35" stop-color="#fff" stop-opacity="0.58"/><stop offset="0.55" stop-color="#fff" stop-opacity="0.25"/><stop offset="0.75" stop-color="#fff" stop-opacity="0.12"/><stop offset="0.90" stop-color="#fff" stop-opacity="0.06"/><stop offset="1.00" stop-color="#fff" stop-opacity="0.00"/></radialGradient><radialGradient id="s87" gradientUnits="userSpaceOnUse" cx="246.25" cy="261.50" r="118.5"><stop offset="0.00" stop-color="#fff" stop-opacity="1.00"/><stop offset="0.15" stop-color="#fff" stop-opacity="1.00"/><stop offset="0.35" stop-color="#fff" stop-opacity="0.56"/><stop offset="0.55" stop-color="#fff" stop-opacity="0.23"/><stop offset="0.75" stop-color="#fff" stop-opacity="0.11"/><stop offset="0.90" stop-color="#fff" stop-opacity="0.05"/><stop offset="1.00" stop-color="#fff" stop-opacity="0.00"/></radialGradient><radialGradient id="s88" gradientUnits="userSpaceOnUse" cx="246.25" cy="261.50" r="136.1"><stop offset="0.00" stop-color="#fff" stop-opacity="1.00"/><stop offset="0.15" stop-color="#fff" stop-opacity="1.00"/><stop offset="0.35" stop-color="#fff" stop-opacity="0.56"/><stop offset="0.55" stop-color="#fff" stop-opacity="0.22"/><stop offset="0.75" stop-color="#fff" stop-opacity="0.11"/><stop offset="0.90" stop-color="#fff" stop-opacity="0.05"/><stop offset="1.00" stop-color="#fff" stop-opacity="0.00"/></radialGradient><radialGradient id="s89" gradientUnits="userSpaceOnUse" cx="246.25" cy="261.50" r="125.1"><stop offset="0.00" stop-color="#fff" stop-opacity="1.00"/><stop offset="0.15" stop-color="#fff" stop-opacity="1.00"/><stop offset="0.35" stop-color="#fff" stop-opacity="0.59"/><stop offset="0.55" stop-color="#fff" stop-opacity="0.25"/><stop offset="0.75" stop-color="#fff" stop-opacity="0.13"/><stop offset="0.90" stop-color="#fff" stop-opacity="0.06"/><stop offset="1.00" stop-color="#fff" stop-opacity="0.00"/></radialGradient><radialGradient id="s90" gradientUnits="userSpaceOnUse" cx="246.25" cy="261.50" r="127.5"><stop offset="0.00" stop-color="#fff" stop-opacity="1.00"/><stop offset="0.15" stop-color="#fff" stop-opacity="1.00"/><stop offset="0.35" stop-color="#fff" stop-opacity="0.59"/><stop offset="0.55" stop-color="#fff" stop-opacity="0.26"/><stop offset="0.75" stop-color="#fff" stop-opacity="0.13"/><stop offset="0.90" stop-color="#fff" stop-opacity="0.06"/><stop offset="1.00" stop-color="#fff" stop-opacity="0.00"/></radialGradient><radialGradient id="s91" gradientUnits="userSpaceOnUse" cx="246.25" cy="261.50" r="141.0"><stop offset="0.00" stop-color="#fff" stop-opacity="1.00"/><stop offset="0.15" stop-color="#fff" stop-opacity="1.00"/><stop offset="0.35" stop-color="#fff" stop-opacity="0.53"/><stop offset="0.55" stop-color="#fff" stop-opacity="0.18"/><stop offset="0.75" stop-color="#fff" stop-opacity="0.09"/><stop offset="0.90" stop-color="#fff" stop-opacity="0.04"/><stop offset="1.00" stop-color="#fff" stop-opacity="0.00"/></radialGradient><radialGradient id="s92" gradientUnits="userSpaceOnUse" cx="246.25" cy="261.50" r="117.4"><stop offset="0.00" stop-color="#fff" stop-opacity="1.00"/><stop offset="0.15" stop-color="#fff" stop-opacity="1.00"/><stop offset="0.35" stop-color="#fff" stop-opacity="0.68"/><stop offset="0.55" stop-color="#fff" stop-opacity="0.36"/><stop offset="0.75" stop-color="#fff" stop-opacity="0.18"/><stop offset="0.90" stop-color="#fff" stop-opacity="0.08"/><stop offset="1.00" stop-color="#fff" stop-opacity="0.00"/></radialGradient><radialGradient id="s93" gradientUnits="userSpaceOnUse" cx="246.25" cy="261.50" r="140.4"><stop offset="0.00" stop-color="#fff" stop-opacity="1.00"/><stop offset="0.15" stop-color="#fff" stop-opacity="1.00"/><stop offset="0.35" stop-color="#fff" stop-opacity="0.71"/><stop offset="0.55" stop-color="#fff" stop-opacity="0.39"/><stop offset="0.75" stop-color="#fff" stop-opacity="0.20"/><stop offset="0.90" stop-color="#fff" stop-opacity="0.09"/><stop offset="1.00" stop-color="#fff" stop-opacity="0.00"/></radialGradient><radialGradient id="s94" gradientUnits="userSpaceOnUse" cx="246.25" cy="261.50" r="129.0"><stop offset="0.00" stop-color="#fff" stop-opacity="1.00"/><stop offset="0.15" stop-color="#fff" stop-opacity="1.00"/><stop offset="0.35" stop-color="#fff" stop-opacity="0.71"/><stop offset="0.55" stop-color="#fff" stop-opacity="0.39"/><stop offset="0.75" stop-color="#fff" stop-opacity="0.19"/><stop offset="0.90" stop-color="#fff" stop-opacity="0.09"/><stop offset="1.00" stop-color="#fff" stop-opacity="0.00"/></radialGradient><radialGradient id="s95" gradientUnits="userSpaceOnUse" cx="246.25" cy="261.50" r="142.1"><stop offset="0.00" stop-color="#fff" stop-opacity="1.00"/><stop offset="0.15" stop-color="#fff" stop-opacity="1.00"/><stop offset="0.35" stop-color="#fff" stop-opacity="0.56"/><stop offset="0.55" stop-color="#fff" stop-opacity="0.23"/><stop offset="0.75" stop-color="#fff" stop-opacity="0.11"/><stop offset="0.90" stop-color="#fff" stop-opacity="0.05"/><stop offset="1.00" stop-color="#fff" stop-opacity="0.00"/></radialGradient><radialGradient id="s96" gradientUnits="userSpaceOnUse" cx="246.25" cy="261.50" r="137.6"><stop offset="0.00" stop-color="#fff" stop-opacity="1.00"/><stop offset="0.15" stop-color="#fff" stop-opacity="1.00"/><stop offset="0.35" stop-color="#fff" stop-opacity="0.67"/><stop offset="0.55" stop-color="#fff" stop-opacity="0.34"/><stop offset="0.75" stop-color="#fff" stop-opacity="0.17"/><stop offset="0.90" stop-color="#fff" stop-opacity="0.08"/><stop offset="1.00" stop-color="#fff" stop-opacity="0.00"/></radialGradient><radialGradient id="s97" gradientUnits="userSpaceOnUse" cx="246.25" cy="261.50" r="135.6"><stop offset="0.00" stop-color="#fff" stop-opacity="1.00"/><stop offset="0.15" stop-color="#fff" stop-opacity="1.00"/><stop offset="0.35" stop-color="#fff" stop-opacity="0.63"/><stop offset="0.55" stop-color="#fff" stop-opacity="0.30"/><stop offset="0.75" stop-color="#fff" stop-opacity="0.15"/><stop offset="0.90" stop-color="#fff" stop-opacity="0.07"/><stop offset="1.00" stop-color="#fff" stop-opacity="0.00"/></radialGradient><radialGradient id="s98" gradientUnits="userSpaceOnUse" cx="246.25" cy="261.50" r="126.0"><stop offset="0.00" stop-color="#fff" stop-opacity="1.00"/><stop offset="0.15" stop-color="#fff" stop-opacity="1.00"/><stop offset="0.35" stop-color="#fff" stop-opacity="0.58"/><stop offset="0.55" stop-color="#fff" stop-opacity="0.25"/><stop offset="0.75" stop-color="#fff" stop-opacity="0.12"/><stop offset="0.90" stop-color="#fff" stop-opacity="0.06"/><stop offset="1.00" stop-color="#fff" stop-opacity="0.00"/></radialGradient><radialGradient id="s99" gradientUnits="userSpaceOnUse" cx="246.25" cy="261.50" r="124.6"><stop offset="0.00" stop-color="#fff" stop-opacity="1.00"/><stop offset="0.15" stop-color="#fff" stop-opacity="1.00"/><stop offset="0.35" stop-color="#fff" stop-opacity="0.49"/><stop offset="0.55" stop-color="#fff" stop-opacity="0.15"/><stop offset="0.75" stop-color="#fff" stop-opacity="0.07"/><stop offset="0.90" stop-color="#fff" stop-opacity="0.03"/><stop offset="1.00" stop-color="#fff" stop-opacity="0.00"/></radialGradient><radialGradient id="s100" gradientUnits="userSpaceOnUse" cx="246.25" cy="261.50" r="134.3"><stop offset="0.00" stop-color="#fff" stop-opacity="1.00"/><stop offset="0.15" stop-color="#fff" stop-opacity="1.00"/><stop offset="0.35" stop-color="#fff" stop-opacity="0.55"/><stop offset="0.55" stop-color="#fff" stop-opacity="0.21"/><stop offset="0.75" stop-color="#fff" stop-opacity="0.10"/><stop offset="0.90" stop-color="#fff" stop-opacity="0.05"/><stop offset="1.00" stop-color="#fff" stop-opacity="0.00"/></radialGradient><radialGradient id="s101" gradientUnits="userSpaceOnUse" cx="246.25" cy="261.50" r="140.0"><stop offset="0.00" stop-color="#fff" stop-opacity="1.00"/><stop offset="0.15" stop-color="#fff" stop-opacity="1.00"/><stop offset="0.35" stop-color="#fff" stop-opacity="0.47"/><stop offset="0.55" stop-color="#fff" stop-opacity="0.13"/><stop offset="0.75" stop-color="#fff" stop-opacity="0.06"/><stop offset="0.90" stop-color="#fff" stop-opacity="0.03"/><stop offset="1.00" stop-color="#fff" stop-opacity="0.00"/></radialGradient><radialGradient id="s102" gradientUnits="userSpaceOnUse" cx="246.25" cy="261.50" r="142.2"><stop offset="0.00" stop-color="#fff" stop-opacity="1.00"/><stop offset="0.15" stop-color="#fff" stop-opacity="1.00"/><stop offset="0.35" stop-color="#fff" stop-opacity="0.63"/><stop offset="0.55" stop-color="#fff" stop-opacity="0.30"/><stop offset="0.75" stop-color="#fff" stop-opacity="0.15"/><stop offset="0.90" stop-color="#fff" stop-opacity="0.07"/><stop offset="1.00" stop-color="#fff" stop-opacity="0.00"/></radialGradient><radialGradient id="s103" gradientUnits="userSpaceOnUse" cx="246.25" cy="261.50" r="142.5"><stop offset="0.00" stop-color="#fff" stop-opacity="1.00"/><stop offset="0.15" stop-color="#fff" stop-opacity="1.00"/><stop offset="0.35" stop-color="#fff" stop-opacity="0.69"/><stop offset="0.55" stop-color="#fff" stop-opacity="0.37"/><stop offset="0.75" stop-color="#fff" stop-opacity="0.18"/><stop offset="0.90" stop-color="#fff" stop-opacity="0.08"/><stop offset="1.00" stop-color="#fff" stop-opacity="0.00"/></radialGradient><radialGradient id="s104" gradientUnits="userSpaceOnUse" cx="246.25" cy="261.50" r="141.7"><stop offset="0.00" stop-color="#fff" stop-opacity="1.00"/><stop offset="0.15" stop-color="#fff" stop-opacity="1.00"/><stop offset="0.35" stop-color="#fff" stop-opacity="0.64"/><stop offset="0.55" stop-color="#fff" stop-opacity="0.31"/><stop offset="0.75" stop-color="#fff" stop-opacity="0.16"/><stop offset="0.90" stop-color="#fff" stop-opacity="0.07"/><stop offset="1.00" stop-color="#fff" stop-opacity="0.00"/></radialGradient><radialGradient id="s105" gradientUnits="userSpaceOnUse" cx="246.25" cy="261.50" r="118.2"><stop offset="0.00" stop-color="#fff" stop-opacity="1.00"/><stop offset="0.15" stop-color="#fff" stop-opacity="1.00"/><stop offset="0.35" stop-color="#fff" stop-opacity="0.67"/><stop offset="0.55" stop-color="#fff" stop-opacity="0.34"/><stop offset="0.75" stop-color="#fff" stop-opacity="0.17"/><stop offset="0.90" stop-color="#fff" stop-opacity="0.08"/><stop offset="1.00" stop-color="#fff" stop-opacity="0.00"/></radialGradient><radialGradient id="s106" gradientUnits="userSpaceOnUse" cx="246.25" cy="261.50" r="122.2"><stop offset="0.00" stop-color="#fff" stop-opacity="1.00"/><stop offset="0.15" stop-color="#fff" stop-opacity="1.00"/><stop offset="0.35" stop-color="#fff" stop-opacity="0.58"/><stop offset="0.55" stop-color="#fff" stop-opacity="0.24"/><stop offset="0.75" stop-color="#fff" stop-opacity="0.12"/><stop offset="0.90" stop-color="#fff" stop-opacity="0.05"/><stop offset="1.00" stop-color="#fff" stop-opacity="0.00"/></radialGradient><radialGradient id="s107" gradientUnits="userSpaceOnUse" cx="246.25" cy="261.50" r="134.8"><stop offset="0.00" stop-color="#fff" stop-opacity="1.00"/><stop offset="0.15" stop-color="#fff" stop-opacity="1.00"/><stop offset="0.35" stop-color="#fff" stop-opacity="0.62"/><stop offset="0.55" stop-color="#fff" stop-opacity="0.28"/><stop offset="0.75" stop-color="#fff" stop-opacity="0.14"/><stop offset="0.90" stop-color="#fff" stop-opacity="0.06"/><stop offset="1.00" stop-color="#fff" stop-opacity="0.00"/></radialGradient><radialGradient id="s108" gradientUnits="userSpaceOnUse" cx="246.25" cy="261.50" r="128.1"><stop offset="0.00" stop-color="#fff" stop-opacity="1.00"/><stop offset="0.15" stop-color="#fff" stop-opacity="1.00"/><stop offset="0.35" stop-color="#fff" stop-opacity="0.69"/><stop offset="0.55" stop-color="#fff" stop-opacity="0.37"/><stop offset="0.75" stop-color="#fff" stop-opacity="0.19"/><stop offset="0.90" stop-color="#fff" stop-opacity="0.08"/><stop offset="1.00" stop-color="#fff" stop-opacity="0.00"/></radialGradient><radialGradient id="s109" gradientUnits="userSpaceOnUse" cx="246.25" cy="261.50" r="133.0"><stop offset="0.00" stop-color="#fff" stop-opacity="1.00"/><stop offset="0.15" stop-color="#fff" stop-opacity="1.00"/><stop offset="0.35" stop-color="#fff" stop-opacity="0.59"/><stop offset="0.55" stop-color="#fff" stop-opacity="0.26"/><stop offset="0.75" stop-color="#fff" stop-opacity="0.13"/><stop offset="0.90" stop-color="#fff" stop-opacity="0.06"/><stop offset="1.00" stop-color="#fff" stop-opacity="0.00"/></radialGradient><radialGradient id="s110" gradientUnits="userSpaceOnUse" cx="246.25" cy="261.50" r="123.4"><stop offset="0.00" stop-color="#fff" stop-opacity="1.00"/><stop offset="0.15" stop-color="#fff" stop-opacity="1.00"/><stop offset="0.35" stop-color="#fff" stop-opacity="0.68"/><stop offset="0.55" stop-color="#fff" stop-opacity="0.35"/><stop offset="0.75" stop-color="#fff" stop-opacity="0.18"/><stop offset="0.90" stop-color="#fff" stop-opacity="0.08"/><stop offset="1.00" stop-color="#fff" stop-opacity="0.00"/></radialGradient><radialGradient id="s111" gradientUnits="userSpaceOnUse" cx="246.25" cy="261.50" r="129.0"><stop offset="0.00" stop-color="#fff" stop-opacity="1.00"/><stop offset="0.15" stop-color="#fff" stop-opacity="1.00"/><stop offset="0.35" stop-color="#fff" stop-opacity="0.68"/><stop offset="0.55" stop-color="#fff" stop-opacity="0.35"/><stop offset="0.75" stop-color="#fff" stop-opacity="0.18"/><stop offset="0.90" stop-color="#fff" stop-opacity="0.08"/><stop offset="1.00" stop-color="#fff" stop-opacity="0.00"/></radialGradient><radialGradient id="s112" gradientUnits="userSpaceOnUse" cx="246.25" cy="261.50" r="125.5"><stop offset="0.00" stop-color="#fff" stop-opacity="1.00"/><stop offset="0.15" stop-color="#fff" stop-opacity="1.00"/><stop offset="0.35" stop-color="#fff" stop-opacity="0.55"/><stop offset="0.55" stop-color="#fff" stop-opacity="0.21"/><stop offset="0.75" stop-color="#fff" stop-opacity="0.11"/><stop offset="0.90" stop-color="#fff" stop-opacity="0.05"/><stop offset="1.00" stop-color="#fff" stop-opacity="0.00"/></radialGradient><radialGradient id="s113" gradientUnits="userSpaceOnUse" cx="246.25" cy="261.50" r="130.0"><stop offset="0.00" stop-color="#fff" stop-opacity="1.00"/><stop offset="0.15" stop-color="#fff" stop-opacity="1.00"/><stop offset="0.35" stop-color="#fff" stop-opacity="0.67"/><stop offset="0.55" stop-color="#fff" stop-opacity="0.34"/><stop offset="0.75" stop-color="#fff" stop-opacity="0.17"/><stop offset="0.90" stop-color="#fff" stop-opacity="0.08"/><stop offset="1.00" stop-color="#fff" stop-opacity="0.00"/></radialGradient><radialGradient id="s114" gradientUnits="userSpaceOnUse" cx="246.25" cy="261.50" r="120.3"><stop offset="0.00" stop-color="#fff" stop-opacity="1.00"/><stop offset="0.15" stop-color="#fff" stop-opacity="1.00"/><stop offset="0.35" stop-color="#fff" stop-opacity="0.68"/><stop offset="0.55" stop-color="#fff" stop-opacity="0.35"/><stop offset="0.75" stop-color="#fff" stop-opacity="0.18"/><stop offset="0.90" stop-color="#fff" stop-opacity="0.08"/><stop offset="1.00" stop-color="#fff" stop-opacity="0.00"/></radialGradient><radialGradient id="s115" gradientUnits="userSpaceOnUse" cx="246.25" cy="261.50" r="139.4"><stop offset="0.00" stop-color="#fff" stop-opacity="1.00"/><stop offset="0.15" stop-color="#fff" stop-opacity="1.00"/><stop offset="0.35" stop-color="#fff" stop-opacity="0.68"/><stop offset="0.55" stop-color="#fff" stop-opacity="0.36"/><stop offset="0.75" stop-color="#fff" stop-opacity="0.18"/><stop offset="0.90" stop-color="#fff" stop-opacity="0.08"/><stop offset="1.00" stop-color="#fff" stop-opacity="0.00"/></radialGradient><radialGradient id="s116" gradientUnits="userSpaceOnUse" cx="246.25" cy="261.50" r="136.6"><stop offset="0.00" stop-color="#fff" stop-opacity="1.00"/><stop offset="0.15" stop-color="#fff" stop-opacity="1.00"/><stop offset="0.35" stop-color="#fff" stop-opacity="0.47"/><stop offset="0.55" stop-color="#fff" stop-opacity="0.12"/><stop offset="0.75" stop-color="#fff" stop-opacity="0.06"/><stop offset="0.90" stop-color="#fff" stop-opacity="0.03"/><stop offset="1.00" stop-color="#fff" stop-opacity="0.00"/></radialGradient><radialGradient id="s117" gradientUnits="userSpaceOnUse" cx="246.25" cy="261.50" r="131.3"><stop offset="0.00" stop-color="#fff" stop-opacity="1.00"/><stop offset="0.15" stop-color="#fff" stop-opacity="1.00"/><stop offset="0.35" stop-color="#fff" stop-opacity="0.67"/><stop offset="0.55" stop-color="#fff" stop-opacity="0.35"/><stop offset="0.75" stop-color="#fff" stop-opacity="0.18"/><stop offset="0.90" stop-color="#fff" stop-opacity="0.08"/><stop offset="1.00" stop-color="#fff" stop-opacity="0.00"/></radialGradient><radialGradient id="s118" gradientUnits="userSpaceOnUse" cx="246.25" cy="261.50" r="116.2"><stop offset="0.00" stop-color="#fff" stop-opacity="1.00"/><stop offset="0.15" stop-color="#fff" stop-opacity="1.00"/><stop offset="0.35" stop-color="#fff" stop-opacity="0.58"/><stop offset="0.55" stop-color="#fff" stop-opacity="0.25"/><stop offset="0.75" stop-color="#fff" stop-opacity="0.13"/><stop offset="0.90" stop-color="#fff" stop-opacity="0.06"/><stop offset="1.00" stop-color="#fff" stop-opacity="0.00"/></radialGradient><radialGradient id="s119" gradientUnits="userSpaceOnUse" cx="246.25" cy="261.50" r="121.6"><stop offset="0.00" stop-color="#fff" stop-opacity="1.00"/><stop offset="0.15" stop-color="#fff" stop-opacity="1.00"/><stop offset="0.35" stop-color="#fff" stop-opacity="0.64"/><stop offset="0.55" stop-color="#fff" stop-opacity="0.32"/><stop offset="0.75" stop-color="#fff" stop-opacity="0.17"/><stop offset="0.90" stop-color="#fff" stop-opacity="0.08"/><stop offset="1.00" stop-color="#fff" stop-opacity="0.00"/></radialGradient><radialGradient id="s120" gradientUnits="userSpaceOnUse" cx="246.25" cy="261.50" r="125.2"><stop offset="0.00" stop-color="#fff" stop-opacity="1.00"/><stop offset="0.15" stop-color="#fff" stop-opacity="1.00"/><stop offset="0.35" stop-color="#fff" stop-opacity="0.64"/><stop offset="0.55" stop-color="#fff" stop-opacity="0.32"/><stop offset="0.75" stop-color="#fff" stop-opacity="0.18"/><stop offset="0.90" stop-color="#fff" stop-opacity="0.08"/><stop offset="1.00" stop-color="#fff" stop-opacity="0.00"/></radialGradient><radialGradient id="s121" gradientUnits="userSpaceOnUse" cx="246.25" cy="261.50" r="134.0"><stop offset="0.00" stop-color="#fff" stop-opacity="1.00"/><stop offset="0.15" stop-color="#fff" stop-opacity="1.00"/><stop offset="0.35" stop-color="#fff" stop-opacity="0.48"/><stop offset="0.55" stop-color="#fff" stop-opacity="0.12"/><stop offset="0.75" stop-color="#fff" stop-opacity="0.07"/><stop offset="0.90" stop-color="#fff" stop-opacity="0.03"/><stop offset="1.00" stop-color="#fff" stop-opacity="0.00"/></radialGradient><radialGradient id="s122" gradientUnits="userSpaceOnUse" cx="246.25" cy="261.50" r="115.4"><stop offset="0.00" stop-color="#fff" stop-opacity="1.00"/><stop offset="0.15" stop-color="#fff" stop-opacity="1.00"/><stop offset="0.35" stop-color="#fff" stop-opacity="0.53"/><stop offset="0.55" stop-color="#fff" stop-opacity="0.18"/><stop offset="0.75" stop-color="#fff" stop-opacity="0.10"/><stop offset="0.90" stop-color="#fff" stop-opacity="0.05"/><stop offset="1.00" stop-color="#fff" stop-opacity="0.00"/></radialGradient><radialGradient id="s123" gradientUnits="userSpaceOnUse" cx="246.25" cy="261.50" r="116.9"><stop offset="0.00" stop-color="#fff" stop-opacity="1.00"/><stop offset="0.15" stop-color="#fff" stop-opacity="1.00"/><stop offset="0.35" stop-color="#fff" stop-opacity="0.52"/><stop offset="0.55" stop-color="#fff" stop-opacity="0.16"/><stop offset="0.75" stop-color="#fff" stop-opacity="0.10"/><stop offset="0.90" stop-color="#fff" stop-opacity="0.04"/><stop offset="1.00" stop-color="#fff" stop-opacity="0.00"/></radialGradient><radialGradient id="s124" gradientUnits="userSpaceOnUse" cx="246.25" cy="261.50" r="138.1"><stop offset="0.00" stop-color="#fff" stop-opacity="1.00"/><stop offset="0.15" stop-color="#fff" stop-opacity="1.00"/><stop offset="0.35" stop-color="#fff" stop-opacity="0.72"/><stop offset="0.55" stop-color="#fff" stop-opacity="0.43"/><stop offset="0.75" stop-color="#fff" stop-opacity="0.25"/><stop offset="0.90" stop-color="#fff" stop-opacity="0.11"/><stop offset="1.00" stop-color="#fff" stop-opacity="0.00"/></radialGradient><radialGradient id="s125" gradientUnits="userSpaceOnUse" cx="246.25" cy="261.50" r="115.4"><stop offset="0.00" stop-color="#fff" stop-opacity="1.00"/><stop offset="0.15" stop-color="#fff" stop-opacity="1.00"/><stop offset="0.35" stop-color="#fff" stop-opacity="0.69"/><stop offset="0.55" stop-color="#fff" stop-opacity="0.39"/><stop offset="0.75" stop-color="#fff" stop-opacity="0.23"/><stop offset="0.90" stop-color="#fff" stop-opacity="0.10"/><stop offset="1.00" stop-color="#fff" stop-opacity="0.00"/></radialGradient><radialGradient id="s126" gradientUnits="userSpaceOnUse" cx="246.25" cy="261.50" r="121.0"><stop offset="0.00" stop-color="#fff" stop-opacity="1.00"/><stop offset="0.15" stop-color="#fff" stop-opacity="1.00"/><stop offset="0.35" stop-color="#fff" stop-opacity="0.64"/><stop offset="0.55" stop-color="#fff" stop-opacity="0.33"/><stop offset="0.75" stop-color="#fff" stop-opacity="0.20"/><stop offset="0.90" stop-color="#fff" stop-opacity="0.09"/><stop offset="1.00" stop-color="#fff" stop-opacity="0.00"/></radialGradient><radialGradient id="s127" gradientUnits="userSpaceOnUse" cx="246.25" cy="261.50" r="121.6"><stop offset="0.00" stop-color="#fff" stop-opacity="1.00"/><stop offset="0.15" stop-color="#fff" stop-opacity="1.00"/><stop offset="0.35" stop-color="#fff" stop-opacity="0.72"/><stop offset="0.55" stop-color="#fff" stop-opacity="0.43"/><stop offset="0.75" stop-color="#fff" stop-opacity="0.27"/><stop offset="0.90" stop-color="#fff" stop-opacity="0.12"/><stop offset="1.00" stop-color="#fff" stop-opacity="0.00"/></radialGradient><radialGradient id="s128" gradientUnits="userSpaceOnUse" cx="246.25" cy="261.50" r="127.2"><stop offset="0.00" stop-color="#fff" stop-opacity="1.00"/><stop offset="0.15" stop-color="#fff" stop-opacity="1.00"/><stop offset="0.35" stop-color="#fff" stop-opacity="0.67"/><stop offset="0.55" stop-color="#fff" stop-opacity="0.36"/><stop offset="0.75" stop-color="#fff" stop-opacity="0.23"/><stop offset="0.90" stop-color="#fff" stop-opacity="0.10"/><stop offset="1.00" stop-color="#fff" stop-opacity="0.00"/></radialGradient><radialGradient id="s129" gradientUnits="userSpaceOnUse" cx="246.25" cy="261.50" r="117.3"><stop offset="0.00" stop-color="#fff" stop-opacity="1.00"/><stop offset="0.15" stop-color="#fff" stop-opacity="1.00"/><stop offset="0.35" stop-color="#fff" stop-opacity="0.66"/><stop offset="0.55" stop-color="#fff" stop-opacity="0.34"/><stop offset="0.75" stop-color="#fff" stop-opacity="0.21"/><stop offset="0.90" stop-color="#fff" stop-opacity="0.10"/><stop offset="1.00" stop-color="#fff" stop-opacity="0.00"/></radialGradient><radialGradient id="s130" gradientUnits="userSpaceOnUse" cx="246.25" cy="261.50" r="115.6"><stop offset="0.00" stop-color="#fff" stop-opacity="1.00"/><stop offset="0.15" stop-color="#fff" stop-opacity="1.00"/><stop offset="0.35" stop-color="#fff" stop-opacity="0.71"/><stop offset="0.55" stop-color="#fff" stop-opacity="0.42"/><stop offset="0.75" stop-color="#fff" stop-opacity="0.26"/><stop offset="0.90" stop-color="#fff" stop-opacity="0.12"/><stop offset="1.00" stop-color="#fff" stop-opacity="0.00"/></radialGradient><radialGradient id="s131" gradientUnits="userSpaceOnUse" cx="246.25" cy="261.50" r="130.4"><stop offset="0.00" stop-color="#fff" stop-opacity="1.00"/><stop offset="0.15" stop-color="#fff" stop-opacity="1.00"/><stop offset="0.35" stop-color="#fff" stop-opacity="0.68"/><stop offset="0.55" stop-color="#fff" stop-opacity="0.37"/><stop offset="0.75" stop-color="#fff" stop-opacity="0.23"/><stop offset="0.90" stop-color="#fff" stop-opacity="0.10"/><stop offset="1.00" stop-color="#fff" stop-opacity="0.00"/></radialGradient><radialGradient id="s132" gradientUnits="userSpaceOnUse" cx="246.25" cy="261.50" r="114.5"><stop offset="0.00" stop-color="#fff" stop-opacity="1.00"/><stop offset="0.15" stop-color="#fff" stop-opacity="1.00"/><stop offset="0.35" stop-color="#fff" stop-opacity="0.61"/><stop offset="0.55" stop-color="#fff" stop-opacity="0.28"/><stop offset="0.75" stop-color="#fff" stop-opacity="0.17"/><stop offset="0.90" stop-color="#fff" stop-opacity="0.08"/><stop offset="1.00" stop-color="#fff" stop-opacity="0.00"/></radialGradient><radialGradient id="s133" gradientUnits="userSpaceOnUse" cx="246.25" cy="261.50" r="121.8"><stop offset="0.00" stop-color="#fff" stop-opacity="1.00"/><stop offset="0.15" stop-color="#fff" stop-opacity="1.00"/><stop offset="0.35" stop-color="#fff" stop-opacity="0.71"/><stop offset="0.55" stop-color="#fff" stop-opacity="0.42"/><stop offset="0.75" stop-color="#fff" stop-opacity="0.26"/><stop offset="0.90" stop-color="#fff" stop-opacity="0.12"/><stop offset="1.00" stop-color="#fff" stop-opacity="0.00"/></radialGradient><radialGradient id="s134" gradientUnits="userSpaceOnUse" cx="246.25" cy="261.50" r="132.1"><stop offset="0.00" stop-color="#fff" stop-opacity="1.00"/><stop offset="0.15" stop-color="#fff" stop-opacity="1.00"/><stop offset="0.35" stop-color="#fff" stop-opacity="0.68"/><stop offset="0.55" stop-color="#fff" stop-opacity="0.37"/><stop offset="0.75" stop-color="#fff" stop-opacity="0.23"/><stop offset="0.90" stop-color="#fff" stop-opacity="0.10"/><stop offset="1.00" stop-color="#fff" stop-opacity="0.00"/></radialGradient><radialGradient id="s135" gradientUnits="userSpaceOnUse" cx="246.25" cy="261.50" r="132.5"><stop offset="0.00" stop-color="#fff" stop-opacity="1.00"/><stop offset="0.15" stop-color="#fff" stop-opacity="1.00"/><stop offset="0.35" stop-color="#fff" stop-opacity="0.73"/><stop offset="0.55" stop-color="#fff" stop-opacity="0.44"/><stop offset="0.75" stop-color="#fff" stop-opacity="0.28"/><stop offset="0.90" stop-color="#fff" stop-opacity="0.12"/><stop offset="1.00" stop-color="#fff" stop-opacity="0.00"/></radialGradient><radialGradient id="s136" gradientUnits="userSpaceOnUse" cx="246.25" cy="261.50" r="123.3"><stop offset="0.00" stop-color="#fff" stop-opacity="1.00"/><stop offset="0.15" stop-color="#fff" stop-opacity="1.00"/><stop offset="0.35" stop-color="#fff" stop-opacity="0.68"/><stop offset="0.55" stop-color="#fff" stop-opacity="0.37"/><stop offset="0.75" stop-color="#fff" stop-opacity="0.23"/><stop offset="0.90" stop-color="#fff" stop-opacity="0.10"/><stop offset="1.00" stop-color="#fff" stop-opacity="0.00"/></radialGradient><radialGradient id="s137" gradientUnits="userSpaceOnUse" cx="246.25" cy="261.50" r="124.9"><stop offset="0.00" stop-color="#fff" stop-opacity="1.00"/><stop offset="0.15" stop-color="#fff" stop-opacity="1.00"/><stop offset="0.35" stop-color="#fff" stop-opacity="0.75"/><stop offset="0.55" stop-color="#fff" stop-opacity="0.47"/><stop offset="0.75" stop-color="#fff" stop-opacity="0.29"/><stop offset="0.90" stop-color="#fff" stop-opacity="0.13"/><stop offset="1.00" stop-color="#fff" stop-opacity="0.00"/></radialGradient><radialGradient id="s138" gradientUnits="userSpaceOnUse" cx="246.25" cy="261.50" r="123.0"><stop offset="0.00" stop-color="#fff" stop-opacity="1.00"/><stop offset="0.15" stop-color="#fff" stop-opacity="1.00"/><stop offset="0.35" stop-color="#fff" stop-opacity="0.75"/><stop offset="0.55" stop-color="#fff" stop-opacity="0.48"/><stop offset="0.75" stop-color="#fff" stop-opacity="0.30"/><stop offset="0.90" stop-color="#fff" stop-opacity="0.13"/><stop offset="1.00" stop-color="#fff" stop-opacity="0.00"/></radialGradient><radialGradient id="s139" gradientUnits="userSpaceOnUse" cx="246.25" cy="261.50" r="124.0"><stop offset="0.00" stop-color="#fff" stop-opacity="1.00"/><stop offset="0.15" stop-color="#fff" stop-opacity="1.00"/><stop offset="0.35" stop-color="#fff" stop-opacity="0.64"/><stop offset="0.55" stop-color="#fff" stop-opacity="0.32"/><stop offset="0.75" stop-color="#fff" stop-opacity="0.20"/><stop offset="0.90" stop-color="#fff" stop-opacity="0.09"/><stop offset="1.00" stop-color="#fff" stop-opacity="0.00"/></radialGradient><radialGradient id="s140" gradientUnits="userSpaceOnUse" cx="246.25" cy="261.50" r="125.9"><stop offset="0.00" stop-color="#fff" stop-opacity="1.00"/><stop offset="0.15" stop-color="#fff" stop-opacity="1.00"/><stop offset="0.35" stop-color="#fff" stop-opacity="0.74"/><stop offset="0.55" stop-color="#fff" stop-opacity="0.46"/><stop offset="0.75" stop-color="#fff" stop-opacity="0.29"/><stop offset="0.90" stop-color="#fff" stop-opacity="0.13"/><stop offset="1.00" stop-color="#fff" stop-opacity="0.00"/></radialGradient><radialGradient id="s141" gradientUnits="userSpaceOnUse" cx="246.25" cy="261.50" r="114.2"><stop offset="0.00" stop-color="#fff" stop-opacity="1.00"/><stop offset="0.15" stop-color="#fff" stop-opacity="1.00"/><stop offset="0.35" stop-color="#fff" stop-opacity="0.69"/><stop offset="0.55" stop-color="#fff" stop-opacity="0.39"/><stop offset="0.75" stop-color="#fff" stop-opacity="0.24"/><stop offset="0.90" stop-color="#fff" stop-opacity="0.11"/><stop offset="1.00" stop-color="#fff" stop-opacity="0.00"/></radialGradient><radialGradient id="s142" gradientUnits="userSpaceOnUse" cx="246.25" cy="261.50" r="122.8"><stop offset="0.00" stop-color="#fff" stop-opacity="1.00"/><stop offset="0.15" stop-color="#fff" stop-opacity="1.00"/><stop offset="0.35" stop-color="#fff" stop-opacity="0.78"/><stop offset="0.55" stop-color="#fff" stop-opacity="0.52"/><stop offset="0.75" stop-color="#fff" stop-opacity="0.32"/><stop offset="0.90" stop-color="#fff" stop-opacity="0.15"/><stop offset="1.00" stop-color="#fff" stop-opacity="0.00"/></radialGradient><radialGradient id="s143" gradientUnits="userSpaceOnUse" cx="246.25" cy="261.50" r="135.1"><stop offset="0.00" stop-color="#fff" stop-opacity="1.00"/><stop offset="0.15" stop-color="#fff" stop-opacity="1.00"/><stop offset="0.35" stop-color="#fff" stop-opacity="0.69"/><stop offset="0.55" stop-color="#fff" stop-opacity="0.38"/><stop offset="0.75" stop-color="#fff" stop-opacity="0.24"/><stop offset="0.90" stop-color="#fff" stop-opacity="0.11"/><stop offset="1.00" stop-color="#fff" stop-opacity="0.00"/></radialGradient><radialGradient id="s144" gradientUnits="userSpaceOnUse" cx="246.25" cy="261.50" r="133.8"><stop offset="0.00" stop-color="#fff" stop-opacity="1.00"/><stop offset="0.15" stop-color="#fff" stop-opacity="1.00"/><stop offset="0.35" stop-color="#fff" stop-opacity="0.76"/><stop offset="0.55" stop-color="#fff" stop-opacity="0.49"/><stop offset="0.75" stop-color="#fff" stop-opacity="0.31"/><stop offset="0.90" stop-color="#fff" stop-opacity="0.14"/><stop offset="1.00" stop-color="#fff" stop-opacity="0.00"/></radialGradient><radialGradient id="s145" gradientUnits="userSpaceOnUse" cx="246.25" cy="261.50" r="117.8"><stop offset="0.00" stop-color="#fff" stop-opacity="1.00"/><stop offset="0.15" stop-color="#fff" stop-opacity="1.00"/><stop offset="0.35" stop-color="#fff" stop-opacity="0.69"/><stop offset="0.55" stop-color="#fff" stop-opacity="0.39"/><stop offset="0.75" stop-color="#fff" stop-opacity="0.24"/><stop offset="0.90" stop-color="#fff" stop-opacity="0.11"/><stop offset="1.00" stop-color="#fff" stop-opacity="0.00"/></radialGradient><radialGradient id="s146" gradientUnits="userSpaceOnUse" cx="246.25" cy="261.50" r="114.0"><stop offset="0.00" stop-color="#fff" stop-opacity="1.00"/><stop offset="0.15" stop-color="#fff" stop-opacity="1.00"/><stop offset="0.35" stop-color="#fff" stop-opacity="0.75"/><stop offset="0.55" stop-color="#fff" stop-opacity="0.46"/><stop offset="0.75" stop-color="#fff" stop-opacity="0.28"/><stop offset="0.90" stop-color="#fff" stop-opacity="0.12"/><stop offset="1.00" stop-color="#fff" stop-opacity="0.00"/></radialGradient><radialGradient id="s147" gradientUnits="userSpaceOnUse" cx="246.25" cy="261.50" r="127.0"><stop offset="0.00" stop-color="#fff" stop-opacity="1.00"/><stop offset="0.15" stop-color="#fff" stop-opacity="1.00"/><stop offset="0.35" stop-color="#fff" stop-opacity="0.76"/><stop offset="0.55" stop-color="#fff" stop-opacity="0.47"/><stop offset="0.75" stop-color="#fff" stop-opacity="0.28"/><stop offset="0.90" stop-color="#fff" stop-opacity="0.13"/><stop offset="1.00" stop-color="#fff" stop-opacity="0.00"/></radialGradient><radialGradient id="s148" gradientUnits="userSpaceOnUse" cx="246.25" cy="261.50" r="129.9"><stop offset="0.00" stop-color="#fff" stop-opacity="0.95"/><stop offset="0.15" stop-color="#fff" stop-opacity="0.95"/><stop offset="0.35" stop-color="#fff" stop-opacity="0.67"/><stop offset="0.55" stop-color="#fff" stop-opacity="0.38"/><stop offset="0.75" stop-color="#fff" stop-opacity="0.22"/><stop offset="0.90" stop-color="#fff" stop-opacity="0.10"/><stop offset="1.00" stop-color="#fff" stop-opacity="0.00"/></radialGradient><radialGradient id="s149" gradientUnits="userSpaceOnUse" cx="246.25" cy="261.50" r="128.1"><stop offset="0.00" stop-color="#fff" stop-opacity="0.89"/><stop offset="0.15" stop-color="#fff" stop-opacity="0.89"/><stop offset="0.35" stop-color="#fff" stop-opacity="0.60"/><stop offset="0.55" stop-color="#fff" stop-opacity="0.32"/><stop offset="0.75" stop-color="#fff" stop-opacity="0.18"/><stop offset="0.90" stop-color="#fff" stop-opacity="0.08"/><stop offset="1.00" stop-color="#fff" stop-opacity="0.00"/></radialGradient><radialGradient id="s150" gradientUnits="userSpaceOnUse" cx="246.25" cy="261.50" r="112.4"><stop offset="0.00" stop-color="#fff" stop-opacity="0.84"/><stop offset="0.15" stop-color="#fff" stop-opacity="0.84"/><stop offset="0.35" stop-color="#fff" stop-opacity="0.55"/><stop offset="0.55" stop-color="#fff" stop-opacity="0.29"/><stop offset="0.75" stop-color="#fff" stop-opacity="0.15"/><stop offset="0.90" stop-color="#fff" stop-opacity="0.07"/><stop offset="1.00" stop-color="#fff" stop-opacity="0.00"/></radialGradient><radialGradient id="s151" gradientUnits="userSpaceOnUse" cx="246.25" cy="261.50" r="109.6"><stop offset="0.00" stop-color="#fff" stop-opacity="0.73"/><stop offset="0.15" stop-color="#fff" stop-opacity="0.73"/><stop offset="0.35" stop-color="#fff" stop-opacity="0.39"/><stop offset="0.55" stop-color="#fff" stop-opacity="0.14"/><stop offset="0.75" stop-color="#fff" stop-opacity="0.08"/><stop offset="0.90" stop-color="#fff" stop-opacity="0.03"/><stop offset="1.00" stop-color="#fff" stop-opacity="0.00"/></radialGradient><radialGradient id="s152" gradientUnits="userSpaceOnUse" cx="246.25" cy="261.50" r="127.9"><stop offset="0.00" stop-color="#fff" stop-opacity="0.47"/><stop offset="0.15" stop-color="#fff" stop-opacity="0.47"/><stop offset="0.35" stop-color="#fff" stop-opacity="0.22"/><stop offset="0.55" stop-color="#fff" stop-opacity="0.06"/><stop offset="0.75" stop-color="#fff" stop-opacity="0.03"/><stop offset="0.90" stop-color="#fff" stop-opacity="0.01"/><stop offset="1.00" stop-color="#fff" stop-opacity="0.00"/></radialGradient><radialGradient id="s153" gradientUnits="userSpaceOnUse" cx="246.25" cy="261.50" r="111.0"><stop offset="0.00" stop-color="#fff" stop-opacity="0.29"/><stop offset="0.15" stop-color="#fff" stop-opacity="0.29"/><stop offset="0.35" stop-color="#fff" stop-opacity="0.14"/><stop offset="0.55" stop-color="#fff" stop-opacity="0.04"/><stop offset="0.75" stop-color="#fff" stop-opacity="0.02"/><stop offset="0.90" stop-color="#fff" stop-opacity="0.01"/><stop offset="1.00" stop-color="#fff" stop-opacity="0.00"/></radialGradient><radialGradient id="s154" gradientUnits="userSpaceOnUse" cx="246.25" cy="261.50" r="129.6"><stop offset="0.00" stop-color="#fff" stop-opacity="0.28"/><stop offset="0.15" stop-color="#fff" stop-opacity="0.28"/><stop offset="0.35" stop-color="#fff" stop-opacity="0.14"/><stop offset="0.55" stop-color="#fff" stop-opacity="0.05"/><stop offset="0.75" stop-color="#fff" stop-opacity="0.02"/><stop offset="0.90" stop-color="#fff" stop-opacity="0.01"/><stop offset="1.00" stop-color="#fff" stop-opacity="0.00"/></radialGradient><radialGradient id="s155" gradientUnits="userSpaceOnUse" cx="246.25" cy="261.50" r="108.6"><stop offset="0.00" stop-color="#fff" stop-opacity="0.26"/><stop offset="0.15" stop-color="#fff" stop-opacity="0.26"/><stop offset="0.35" stop-color="#fff" stop-opacity="0.17"/><stop offset="0.55" stop-color="#fff" stop-opacity="0.09"/><stop offset="0.75" stop-color="#fff" stop-opacity="0.04"/><stop offset="0.90" stop-color="#fff" stop-opacity="0.02"/><stop offset="1.00" stop-color="#fff" stop-opacity="0.00"/></radialGradient><radialGradient id="s156" gradientUnits="userSpaceOnUse" cx="246.25" cy="261.50" r="110.6"><stop offset="0.00" stop-color="#fff" stop-opacity="0.30"/><stop offset="0.15" stop-color="#fff" stop-opacity="0.30"/><stop offset="0.35" stop-color="#fff" stop-opacity="0.21"/><stop offset="0.55" stop-color="#fff" stop-opacity="0.11"/><stop offset="0.75" stop-color="#fff" stop-opacity="0.05"/><stop offset="0.90" stop-color="#fff" stop-opacity="0.02"/><stop offset="1.00" stop-color="#fff" stop-opacity="0.00"/></radialGradient><radialGradient id="s157" gradientUnits="userSpaceOnUse" cx="246.25" cy="261.50" r="123.4"><stop offset="0.00" stop-color="#fff" stop-opacity="0.50"/><stop offset="0.15" stop-color="#fff" stop-opacity="0.50"/><stop offset="0.35" stop-color="#fff" stop-opacity="0.34"/><stop offset="0.55" stop-color="#fff" stop-opacity="0.18"/><stop offset="0.75" stop-color="#fff" stop-opacity="0.09"/><stop offset="0.90" stop-color="#fff" stop-opacity="0.04"/><stop offset="1.00" stop-color="#fff" stop-opacity="0.00"/></radialGradient><radialGradient id="s158" gradientUnits="userSpaceOnUse" cx="246.25" cy="261.50" r="129.6"><stop offset="0.00" stop-color="#fff" stop-opacity="0.47"/><stop offset="0.15" stop-color="#fff" stop-opacity="0.47"/><stop offset="0.35" stop-color="#fff" stop-opacity="0.30"/><stop offset="0.55" stop-color="#fff" stop-opacity="0.15"/><stop offset="0.75" stop-color="#fff" stop-opacity="0.07"/><stop offset="0.90" stop-color="#fff" stop-opacity="0.03"/><stop offset="1.00" stop-color="#fff" stop-opacity="0.00"/></radialGradient><radialGradient id="s159" gradientUnits="userSpaceOnUse" cx="246.25" cy="261.50" r="125.5"><stop offset="0.00" stop-color="#fff" stop-opacity="0.42"/><stop offset="0.15" stop-color="#fff" stop-opacity="0.42"/><stop offset="0.35" stop-color="#fff" stop-opacity="0.20"/><stop offset="0.55" stop-color="#fff" stop-opacity="0.06"/><stop offset="0.75" stop-color="#fff" stop-opacity="0.03"/><stop offset="0.90" stop-color="#fff" stop-opacity="0.01"/><stop offset="1.00" stop-color="#fff" stop-opacity="0.00"/></radialGradient><radialGradient id="s160" gradientUnits="userSpaceOnUse" cx="246.25" cy="261.50" r="124.4"><stop offset="0.00" stop-color="#fff" stop-opacity="0.23"/><stop offset="0.15" stop-color="#fff" stop-opacity="0.23"/><stop offset="0.35" stop-color="#fff" stop-opacity="0.13"/><stop offset="0.55" stop-color="#fff" stop-opacity="0.06"/><stop offset="0.75" stop-color="#fff" stop-opacity="0.03"/><stop offset="0.90" stop-color="#fff" stop-opacity="0.01"/><stop offset="1.00" stop-color="#fff" stop-opacity="0.00"/></radialGradient><radialGradient id="s161" gradientUnits="userSpaceOnUse" cx="246.25" cy="261.50" r="104.7"><stop offset="0.00" stop-color="#fff" stop-opacity="0.80"/><stop offset="0.15" stop-color="#fff" stop-opacity="0.80"/><stop offset="0.35" stop-color="#fff" stop-opacity="0.42"/><stop offset="0.55" stop-color="#fff" stop-opacity="0.15"/><stop offset="0.75" stop-color="#fff" stop-opacity="0.07"/><stop offset="0.90" stop-color="#fff" stop-opacity="0.03"/><stop offset="1.00" stop-color="#fff" stop-opacity="0.00"/></radialGradient><radialGradient id="s162" gradientUnits="userSpaceOnUse" cx="246.25" cy="261.50" r="106.0"><stop offset="0.00" stop-color="#fff" stop-opacity="0.81"/><stop offset="0.15" stop-color="#fff" stop-opacity="0.81"/><stop offset="0.35" stop-color="#fff" stop-opacity="0.55"/><stop offset="0.55" stop-color="#fff" stop-opacity="0.29"/><stop offset="0.75" stop-color="#fff" stop-opacity="0.14"/><stop offset="0.90" stop-color="#fff" stop-opacity="0.06"/><stop offset="1.00" stop-color="#fff" stop-opacity="0.00"/></radialGradient><radialGradient id="s163" gradientUnits="userSpaceOnUse" cx="246.25" cy="261.50" r="92.7"><stop offset="0.00" stop-color="#fff" stop-opacity="0.81"/><stop offset="0.15" stop-color="#fff" stop-opacity="0.81"/><stop offset="0.35" stop-color="#fff" stop-opacity="0.48"/><stop offset="0.55" stop-color="#fff" stop-opacity="0.20"/><stop offset="0.75" stop-color="#fff" stop-opacity="0.10"/><stop offset="0.90" stop-color="#fff" stop-opacity="0.05"/><stop offset="1.00" stop-color="#fff" stop-opacity="0.00"/></radialGradient><radialGradient id="s164" gradientUnits="userSpaceOnUse" cx="246.25" cy="261.50" r="103.6"><stop offset="0.00" stop-color="#fff" stop-opacity="0.82"/><stop offset="0.15" stop-color="#fff" stop-opacity="0.82"/><stop offset="0.35" stop-color="#fff" stop-opacity="0.55"/><stop offset="0.55" stop-color="#fff" stop-opacity="0.28"/><stop offset="0.75" stop-color="#fff" stop-opacity="0.14"/><stop offset="0.90" stop-color="#fff" stop-opacity="0.06"/><stop offset="1.00" stop-color="#fff" stop-opacity="0.00"/></radialGradient><radialGradient id="s165" gradientUnits="userSpaceOnUse" cx="246.25" cy="261.50" r="97.7"><stop offset="0.00" stop-color="#fff" stop-opacity="0.82"/><stop offset="0.15" stop-color="#fff" stop-opacity="0.82"/><stop offset="0.35" stop-color="#fff" stop-opacity="0.45"/><stop offset="0.55" stop-color="#fff" stop-opacity="0.17"/><stop offset="0.75" stop-color="#fff" stop-opacity="0.08"/><stop offset="0.90" stop-color="#fff" stop-opacity="0.04"/><stop offset="1.00" stop-color="#fff" stop-opacity="0.00"/></radialGradient><radialGradient id="s166" gradientUnits="userSpaceOnUse" cx="246.25" cy="261.50" r="98.5"><stop offset="0.00" stop-color="#fff" stop-opacity="0.83"/><stop offset="0.15" stop-color="#fff" stop-opacity="0.83"/><stop offset="0.35" stop-color="#fff" stop-opacity="0.52"/><stop offset="0.55" stop-color="#fff" stop-opacity="0.25"/><stop offset="0.75" stop-color="#fff" stop-opacity="0.12"/><stop offset="0.90" stop-color="#fff" stop-opacity="0.06"/><stop offset="1.00" stop-color="#fff" stop-opacity="0.00"/></radialGradient><radialGradient id="s167" gradientUnits="userSpaceOnUse" cx="246.25" cy="261.50" r="109.6"><stop offset="0.00" stop-color="#fff" stop-opacity="0.83"/><stop offset="0.15" stop-color="#fff" stop-opacity="0.83"/><stop offset="0.35" stop-color="#fff" stop-opacity="0.49"/><stop offset="0.55" stop-color="#fff" stop-opacity="0.22"/><stop offset="0.75" stop-color="#fff" stop-opacity="0.11"/><stop offset="0.90" stop-color="#fff" stop-opacity="0.05"/><stop offset="1.00" stop-color="#fff" stop-opacity="0.00"/></radialGradient><radialGradient id="s168" gradientUnits="userSpaceOnUse" cx="246.25" cy="261.50" r="102.2"><stop offset="0.00" stop-color="#fff" stop-opacity="0.84"/><stop offset="0.15" stop-color="#fff" stop-opacity="0.84"/><stop offset="0.35" stop-color="#fff" stop-opacity="0.49"/><stop offset="0.55" stop-color="#fff" stop-opacity="0.21"/><stop offset="0.75" stop-color="#fff" stop-opacity="0.11"/><stop offset="0.90" stop-color="#fff" stop-opacity="0.05"/><stop offset="1.00" stop-color="#fff" stop-opacity="0.00"/></radialGradient><radialGradient id="s169" gradientUnits="userSpaceOnUse" cx="246.25" cy="261.50" r="99.5"><stop offset="0.00" stop-color="#fff" stop-opacity="0.84"/><stop offset="0.15" stop-color="#fff" stop-opacity="0.84"/><stop offset="0.35" stop-color="#fff" stop-opacity="0.50"/><stop offset="0.55" stop-color="#fff" stop-opacity="0.22"/><stop offset="0.75" stop-color="#fff" stop-opacity="0.11"/><stop offset="0.90" stop-color="#fff" stop-opacity="0.05"/><stop offset="1.00" stop-color="#fff" stop-opacity="0.00"/></radialGradient><radialGradient id="s170" gradientUnits="userSpaceOnUse" cx="246.25" cy="261.50" r="91.8"><stop offset="0.00" stop-color="#fff" stop-opacity="0.84"/><stop offset="0.15" stop-color="#fff" stop-opacity="0.84"/><stop offset="0.35" stop-color="#fff" stop-opacity="0.52"/><stop offset="0.55" stop-color="#fff" stop-opacity="0.24"/><stop offset="0.75" stop-color="#fff" stop-opacity="0.12"/><stop offset="0.90" stop-color="#fff" stop-opacity="0.05"/><stop offset="1.00" stop-color="#fff" stop-opacity="0.00"/></radialGradient><radialGradient id="s171" gradientUnits="userSpaceOnUse" cx="246.25" cy="261.50" r="107.1"><stop offset="0.00" stop-color="#fff" stop-opacity="0.85"/><stop offset="0.15" stop-color="#fff" stop-opacity="0.85"/><stop offset="0.35" stop-color="#fff" stop-opacity="0.51"/><stop offset="0.55" stop-color="#fff" stop-opacity="0.22"/><stop offset="0.75" stop-color="#fff" stop-opacity="0.11"/><stop offset="0.90" stop-color="#fff" stop-opacity="0.05"/><stop offset="1.00" stop-color="#fff" stop-opacity="0.00"/></radialGradient><radialGradient id="s172" gradientUnits="userSpaceOnUse" cx="246.25" cy="261.50" r="100.1"><stop offset="0.00" stop-color="#fff" stop-opacity="0.84"/><stop offset="0.15" stop-color="#fff" stop-opacity="0.84"/><stop offset="0.35" stop-color="#fff" stop-opacity="0.44"/><stop offset="0.55" stop-color="#fff" stop-opacity="0.16"/><stop offset="0.75" stop-color="#fff" stop-opacity="0.08"/><stop offset="0.90" stop-color="#fff" stop-opacity="0.04"/><stop offset="1.00" stop-color="#fff" stop-opacity="0.00"/></radialGradient><radialGradient id="s173" gradientUnits="userSpaceOnUse" cx="246.25" cy="261.50" r="96.5"><stop offset="0.00" stop-color="#fff" stop-opacity="0.83"/><stop offset="0.15" stop-color="#fff" stop-opacity="0.83"/><stop offset="0.35" stop-color="#fff" stop-opacity="0.54"/><stop offset="0.55" stop-color="#fff" stop-opacity="0.27"/><stop offset="0.75" stop-color="#fff" stop-opacity="0.13"/><stop offset="0.90" stop-color="#fff" stop-opacity="0.06"/><stop offset="1.00" stop-color="#fff" stop-opacity="0.00"/></radialGradient><radialGradient id="s174" gradientUnits="userSpaceOnUse" cx="246.25" cy="261.50" r="93.8"><stop offset="0.00" stop-color="#fff" stop-opacity="0.81"/><stop offset="0.15" stop-color="#fff" stop-opacity="0.81"/><stop offset="0.35" stop-color="#fff" stop-opacity="0.51"/><stop offset="0.55" stop-color="#fff" stop-opacity="0.24"/><stop offset="0.75" stop-color="#fff" stop-opacity="0.12"/><stop offset="0.90" stop-color="#fff" stop-opacity="0.05"/><stop offset="1.00" stop-color="#fff" stop-opacity="0.00"/></radialGradient><radialGradient id="s175" gradientUnits="userSpaceOnUse" cx="246.25" cy="261.50" r="87.5"><stop offset="0.00" stop-color="#fff" stop-opacity="0.80"/><stop offset="0.15" stop-color="#fff" stop-opacity="0.80"/><stop offset="0.35" stop-color="#fff" stop-opacity="0.52"/><stop offset="0.55" stop-color="#fff" stop-opacity="0.25"/><stop offset="0.75" stop-color="#fff" stop-opacity="0.13"/><stop offset="0.90" stop-color="#fff" stop-opacity="0.06"/><stop offset="1.00" stop-color="#fff" stop-opacity="0.00"/></radialGradient><radialGradient id="s176" gradientUnits="userSpaceOnUse" cx="246.25" cy="261.50" r="91.5"><stop offset="0.00" stop-color="#fff" stop-opacity="0.79"/><stop offset="0.15" stop-color="#fff" stop-opacity="0.79"/><stop offset="0.35" stop-color="#fff" stop-opacity="0.42"/><stop offset="0.55" stop-color="#fff" stop-opacity="0.15"/><stop offset="0.75" stop-color="#fff" stop-opacity="0.08"/><stop offset="0.90" stop-color="#fff" stop-opacity="0.03"/><stop offset="1.00" stop-color="#fff" stop-opacity="0.00"/></radialGradient><radialGradient id="s177" gradientUnits="userSpaceOnUse" cx="246.25" cy="261.50" r="75.1"><stop offset="0.00" stop-color="#fff" stop-opacity="0.78"/><stop offset="0.15" stop-color="#fff" stop-opacity="0.78"/><stop offset="0.35" stop-color="#fff" stop-opacity="0.51"/><stop offset="0.55" stop-color="#fff" stop-opacity="0.25"/><stop offset="0.75" stop-color="#fff" stop-opacity="0.13"/><stop offset="0.90" stop-color="#fff" stop-opacity="0.06"/><stop offset="1.00" stop-color="#fff" stop-opacity="0.00"/></radialGradient><radialGradient id="s178" gradientUnits="userSpaceOnUse" cx="246.25" cy="261.50" r="85.3"><stop offset="0.00" stop-color="#fff" stop-opacity="0.77"/><stop offset="0.15" stop-color="#fff" stop-opacity="0.77"/><stop offset="0.35" stop-color="#fff" stop-opacity="0.48"/><stop offset="0.55" stop-color="#fff" stop-opacity="0.22"/><stop offset="0.75" stop-color="#fff" stop-opacity="0.11"/><stop offset="0.90" stop-color="#fff" stop-opacity="0.05"/><stop offset="1.00" stop-color="#fff" stop-opacity="0.00"/></radialGradient><radialGradient id="s179" gradientUnits="userSpaceOnUse" cx="246.25" cy="261.50" r="75.3"><stop offset="0.00" stop-color="#fff" stop-opacity="0.75"/><stop offset="0.15" stop-color="#fff" stop-opacity="0.75"/><stop offset="0.35" stop-color="#fff" stop-opacity="0.50"/><stop offset="0.55" stop-color="#fff" stop-opacity="0.25"/><stop offset="0.75" stop-color="#fff" stop-opacity="0.13"/><stop offset="0.90" stop-color="#fff" stop-opacity="0.06"/><stop offset="1.00" stop-color="#fff" stop-opacity="0.00"/></radialGradient><radialGradient id="gbase" gradientUnits="userSpaceOnUse" cx="246.25" cy="261.50" r="130"><stop offset="0" stop-color="#fff" stop-opacity="1"/><stop offset="0.14" stop-color="#fff" stop-opacity="1"/><stop offset="0.35" stop-color="#fff" stop-opacity="0.55"/><stop offset="0.6" stop-color="#fff" stop-opacity="0.22"/><stop offset="0.85" stop-color="#fff" stop-opacity="0.06"/><stop offset="1" stop-color="#fff" stop-opacity="0"/></radialGradient></defs>
<filter id="sblur" x="-10%" y="-10%" width="120%" height="120%"><feGaussianBlur stdDeviation="0.6"/></filter>
<g filter="url(#sblur)">
<path d="M246.2,261.5L188.8,379.2L190.9,380.2L193.0,381.2Z" fill="url(#gbase)" fill-opacity="0.59" shape-rendering="crispEdges"/>
<path d="M246.2,261.5L193.0,381.2L195.1,382.1L197.2,383.0Z" fill="url(#gbase)" fill-opacity="0.59" shape-rendering="crispEdges"/>
<path d="M246.2,261.5L197.2,383.0L199.3,383.8L201.4,384.6Z" fill="url(#gbase)" fill-opacity="0.59" shape-rendering="crispEdges"/>
<path d="M246.2,261.5L201.4,384.6L203.6,385.4L205.8,386.1Z" fill="url(#gbase)" fill-opacity="0.59" shape-rendering="crispEdges"/>
<path d="M246.2,261.5L205.8,386.1L207.9,386.8L210.1,387.4Z" fill="url(#gbase)" fill-opacity="0.59" shape-rendering="crispEdges"/>
<path d="M246.2,261.5L210.1,387.4L212.3,388.0L214.6,388.6Z" fill="url(#gbase)" fill-opacity="0.59" shape-rendering="crispEdges"/>
<path d="M246.2,261.5L214.6,388.6L216.8,389.1L219.0,389.6Z" fill="url(#gbase)" fill-opacity="0.59" shape-rendering="crispEdges"/>
<path d="M246.2,261.5L219.0,389.6L221.3,390.1L223.5,390.5Z" fill="url(#gbase)" fill-opacity="0.59" shape-rendering="crispEdges"/>
<path d="M246.2,261.5L223.5,390.5L225.8,390.9L228.0,391.2Z" fill="url(#gbase)" fill-opacity="0.59" shape-rendering="crispEdges"/>
<path d="M246.2,261.5L228.0,391.2L230.3,391.5L232.6,391.8Z" fill="url(#gbase)" fill-opacity="0.59" shape-rendering="crispEdges"/>
<path d="M246.2,261.5L232.6,391.8L234.8,392.0L237.1,392.2Z" fill="url(#gbase)" fill-opacity="0.59" shape-rendering="crispEdges"/>
<path d="M246.2,261.5L237.1,392.2L239.4,392.3L241.7,392.4Z" fill="url(#gbase)" fill-opacity="0.59" shape-rendering="crispEdges"/>
<path d="M246.2,261.5L241.7,392.4L244.0,392.5L246.2,392.5Z" fill="url(#gbase)" fill-opacity="0.59" shape-rendering="crispEdges"/>
<path d="M246.2,261.5L246.2,392.5L248.5,392.5L250.8,392.4Z" fill="url(#gbase)" fill-opacity="0.59" shape-rendering="crispEdges"/>
<path d="M246.2,261.5L250.8,392.4L253.1,392.3L255.4,392.2Z" fill="url(#gbase)" fill-opacity="0.59" shape-rendering="crispEdges"/>
<path d="M246.2,261.5L255.4,392.2L257.7,392.0L259.9,391.8Z" fill="url(#gbase)" fill-opacity="0.59" shape-rendering="crispEdges"/>
<path d="M246.2,261.5L259.9,391.8L262.2,391.5L264.5,391.2Z" fill="url(#gbase)" fill-opacity="0.59" shape-rendering="crispEdges"/>
<path d="M246.2,261.5L264.5,391.2L266.7,390.9L269.0,390.5Z" fill="url(#gbase)" fill-opacity="0.59" shape-rendering="crispEdges"/>
<path d="M246.2,261.5L269.0,390.5L271.2,390.1L273.5,389.6Z" fill="url(#gbase)" fill-opacity="0.59" shape-rendering="crispEdges"/>
<path d="M246.2,261.5L273.5,389.6L275.7,389.1L277.9,388.6Z" fill="url(#gbase)" fill-opacity="0.59" shape-rendering="crispEdges"/>
<path d="M246.2,261.5L277.9,388.6L280.2,388.0L282.4,387.4Z" fill="url(#gbase)" fill-opacity="0.59" shape-rendering="crispEdges"/>
<path d="M246.2,261.5L282.4,387.4L284.6,386.8L286.7,386.1Z" fill="url(#gbase)" fill-opacity="0.60" shape-rendering="crispEdges"/>
<path d="M246.2,261.5L286.7,386.1L288.9,385.4L291.1,384.6Z" fill="url(#gbase)" fill-opacity="0.60" shape-rendering="crispEdges"/>
<path d="M246.2,261.5L291.1,384.6L293.2,383.8L295.3,383.0Z" fill="url(#gbase)" fill-opacity="0.60" shape-rendering="crispEdges"/>
<path d="M246.2,261.5L295.3,383.0L297.4,382.1L299.5,381.2Z" fill="url(#gbase)" fill-opacity="0.60" shape-rendering="crispEdges"/>
<path d="M246.2,261.5L299.5,381.2L301.6,380.2L303.7,379.2Z" fill="url(#gbase)" fill-opacity="0.60" shape-rendering="crispEdges"/>
<path d="M246.2,261.5L303.7,379.2L305.7,378.2L307.8,377.2Z" fill="url(#gbase)" fill-opacity="0.60" shape-rendering="crispEdges"/>
<path d="M246.2,261.5L307.8,377.2L309.8,376.1L311.8,374.9Z" fill="url(#gbase)" fill-opacity="0.61" shape-rendering="crispEdges"/>
<path d="M246.2,261.5L311.8,374.9L313.7,373.8L315.7,372.6Z" fill="url(#gbase)" fill-opacity="0.61" shape-rendering="crispEdges"/>
<path d="M246.2,261.5L315.7,372.6L317.6,371.4L319.5,370.1Z" fill="url(#gbase)" fill-opacity="0.61" shape-rendering="crispEdges"/>
<path d="M246.2,261.5L319.5,370.1L321.4,368.8L323.2,367.5Z" fill="url(#gbase)" fill-opacity="0.61" shape-rendering="crispEdges"/>
<path d="M246.2,261.5L323.2,367.5L325.1,366.1L326.9,364.7Z" fill="url(#gbase)" fill-opacity="0.61" shape-rendering="crispEdges"/>
<path d="M246.2,261.5L326.9,364.7L328.7,363.3L330.5,361.9Z" fill="url(#gbase)" fill-opacity="0.61" shape-rendering="crispEdges"/>
<path d="M246.2,261.5L330.5,361.9L332.2,360.4L333.9,358.9Z" fill="url(#gbase)" fill-opacity="0.62" shape-rendering="crispEdges"/>
<path d="M246.2,261.5L333.9,358.9L335.6,357.3L337.3,355.7Z" fill="url(#gbase)" fill-opacity="0.62" shape-rendering="crispEdges"/>
<path d="M246.2,261.5L337.3,355.7L338.9,354.1L340.5,352.5Z" fill="url(#gbase)" fill-opacity="0.62" shape-rendering="crispEdges"/>
<path d="M246.2,261.5L340.5,352.5L342.1,350.8L343.6,349.2Z" fill="url(#gbase)" fill-opacity="0.62" shape-rendering="crispEdges"/>
<path d="M246.2,261.5L343.6,349.2L345.1,347.4L346.6,345.7Z" fill="url(#gbase)" fill-opacity="0.62" shape-rendering="crispEdges"/>
<path d="M246.2,261.5L346.6,345.7L348.1,343.9L349.5,342.2Z" fill="url(#gbase)" fill-opacity="0.62" shape-rendering="crispEdges"/>
<path d="M246.2,261.5L349.5,342.2L350.9,340.3L352.2,338.5Z" fill="url(#gbase)" fill-opacity="0.62" shape-rendering="crispEdges"/>
<path d="M246.2,261.5L352.2,338.5L353.6,336.6L354.9,334.8Z" fill="url(#gbase)" fill-opacity="0.62" shape-rendering="crispEdges"/>
<path d="M246.2,261.5L354.9,334.8L356.1,332.8L357.3,330.9Z" fill="url(#gbase)" fill-opacity="0.62" shape-rendering="crispEdges"/>
<path d="M246.2,261.5L357.3,330.9L358.5,329.0L359.7,327.0Z" fill="url(#gbase)" fill-opacity="0.62" shape-rendering="crispEdges"/>
<path d="M246.2,261.5L359.7,327.0L360.8,325.0L361.9,323.0Z" fill="url(#gbase)" fill-opacity="0.62" shape-rendering="crispEdges"/>
<path d="M246.2,261.5L361.9,323.0L363.0,321.0L364.0,318.9Z" fill="url(#gbase)" fill-opacity="0.62" shape-rendering="crispEdges"/>
<path d="M246.2,261.5L364.0,318.9L365.0,316.9L365.9,314.8Z" fill="url(#gbase)" fill-opacity="0.62" shape-rendering="crispEdges"/>
<path d="M246.2,261.5L365.9,314.8L366.8,312.7L367.7,310.6Z" fill="url(#gbase)" fill-opacity="0.62" shape-rendering="crispEdges"/>
<path d="M246.2,261.5L367.7,310.6L368.5,308.4L369.3,306.3Z" fill="url(#gbase)" fill-opacity="0.62" shape-rendering="crispEdges"/>
<path d="M246.2,261.5L369.3,306.3L370.1,304.1L370.8,302.0Z" fill="url(#gbase)" fill-opacity="0.62" shape-rendering="crispEdges"/>
<path d="M246.2,261.5L370.8,302.0L371.5,299.8L372.2,297.6Z" fill="url(#gbase)" fill-opacity="0.62" shape-rendering="crispEdges"/>
<path d="M246.2,261.5L372.2,297.6L372.8,295.4L373.4,293.2Z" fill="url(#gbase)" fill-opacity="0.62" shape-rendering="crispEdges"/>
<path d="M246.2,261.5L373.4,293.2L373.9,291.0L374.4,288.7Z" fill="url(#gbase)" fill-opacity="0.62" shape-rendering="crispEdges"/>
<path d="M246.2,261.5L374.4,288.7L374.8,286.5L375.3,284.2Z" fill="url(#gbase)" fill-opacity="0.62" shape-rendering="crispEdges"/>
<path d="M246.2,261.5L375.3,284.2L375.6,282.0L376.0,279.7Z" fill="url(#gbase)" fill-opacity="0.62" shape-rendering="crispEdges"/>
<path d="M246.2,261.5L376.0,279.7L376.3,277.5L376.5,275.2Z" fill="url(#gbase)" fill-opacity="0.62" shape-rendering="crispEdges"/>
<path d="M246.2,261.5L376.5,275.2L376.8,272.9L376.9,270.6Z" fill="url(#gbase)" fill-opacity="0.62" shape-rendering="crispEdges"/>
<path d="M246.2,261.5L376.9,270.6L377.1,268.4L377.2,266.1Z" fill="url(#gbase)" fill-opacity="0.62" shape-rendering="crispEdges"/>
<path d="M246.2,261.5L377.2,266.1L377.2,263.8L377.2,261.5Z" fill="url(#gbase)" fill-opacity="0.62" shape-rendering="crispEdges"/>
<path d="M246.2,261.5L377.2,261.5L377.2,259.2L377.2,256.9Z" fill="url(#gbase)" fill-opacity="0.62" shape-rendering="crispEdges"/>
<path d="M246.2,261.5L377.2,256.9L377.1,254.6L376.9,252.4Z" fill="url(#gbase)" fill-opacity="0.62" shape-rendering="crispEdges"/>
<path d="M246.2,261.5L376.9,252.4L376.8,250.1L376.5,247.8Z" fill="url(#gbase)" fill-opacity="0.62" shape-rendering="crispEdges"/>
<path d="M246.2,261.5L376.5,247.8L376.3,245.5L376.0,243.3Z" fill="url(#gbase)" fill-opacity="0.62" shape-rendering="crispEdges"/>
<path d="M246.2,261.5L376.0,243.3L375.6,241.0L375.3,238.8Z" fill="url(#gbase)" fill-opacity="0.62" shape-rendering="crispEdges"/>
<path d="M246.2,261.5L375.3,238.8L374.8,236.5L374.4,234.3Z" fill="url(#gbase)" fill-opacity="0.62" shape-rendering="crispEdges"/>
<path d="M246.2,261.5L374.4,234.3L373.9,232.0L373.4,229.8Z" fill="url(#gbase)" fill-opacity="0.62" shape-rendering="crispEdges"/>
<path d="M246.2,261.5L373.4,229.8L372.8,227.6L372.2,225.4Z" fill="url(#gbase)" fill-opacity="0.62" shape-rendering="crispEdges"/>
<path d="M246.2,261.5L372.2,225.4L371.5,223.2L370.8,221.0Z" fill="url(#gbase)" fill-opacity="0.62" shape-rendering="crispEdges"/>
<path d="M246.2,261.5L370.8,221.0L370.1,218.9L369.3,216.7Z" fill="url(#gbase)" fill-opacity="0.62" shape-rendering="crispEdges"/>
<path d="M246.2,261.5L369.3,216.7L368.5,214.6L367.7,212.4Z" fill="url(#gbase)" fill-opacity="0.62" shape-rendering="crispEdges"/>
<path d="M246.2,261.5L367.7,212.4L366.8,210.3L365.9,208.2Z" fill="url(#gbase)" fill-opacity="0.62" shape-rendering="crispEdges"/>
<path d="M246.2,261.5L365.9,208.2L365.0,206.1L364.0,204.1Z" fill="url(#gbase)" fill-opacity="0.62" shape-rendering="crispEdges"/>
<path d="M246.2,261.5L364.0,204.1L363.0,202.0L361.9,200.0Z" fill="url(#gbase)" fill-opacity="0.62" shape-rendering="crispEdges"/>
<path d="M246.2,261.5L361.9,200.0L360.8,198.0L359.7,196.0Z" fill="url(#gbase)" fill-opacity="0.62" shape-rendering="crispEdges"/>
<path d="M246.2,261.5L359.7,196.0L358.5,194.0L357.3,192.1Z" fill="url(#gbase)" fill-opacity="0.62" shape-rendering="crispEdges"/>
<path d="M246.2,261.5L357.3,192.1L356.1,190.2L354.9,188.2Z" fill="url(#gbase)" fill-opacity="0.62" shape-rendering="crispEdges"/>
<path d="M246.2,261.5L354.9,188.2L353.6,186.4L352.2,184.5Z" fill="url(#gbase)" fill-opacity="0.62" shape-rendering="crispEdges"/>
<path d="M246.2,261.5L352.2,184.5L350.9,182.7L349.5,180.8Z" fill="url(#gbase)" fill-opacity="0.62" shape-rendering="crispEdges"/>
<path d="M246.2,261.5L349.5,180.8L348.1,179.1L346.6,177.3Z" fill="url(#gbase)" fill-opacity="0.62" shape-rendering="crispEdges"/>
<path d="M246.2,261.5L346.6,177.3L345.1,175.6L343.6,173.8Z" fill="url(#gbase)" fill-opacity="0.62" shape-rendering="crispEdges"/>
<path d="M246.2,261.5L343.6,173.8L342.1,172.2L340.5,170.5Z" fill="url(#gbase)" fill-opacity="0.62" shape-rendering="crispEdges"/>
<path d="M246.2,261.5L340.5,170.5L338.9,168.9L337.3,167.3Z" fill="url(#gbase)" fill-opacity="0.62" shape-rendering="crispEdges"/>
<path d="M246.2,261.5L337.3,167.3L335.6,165.7L333.9,164.1Z" fill="url(#gbase)" fill-opacity="0.62" shape-rendering="crispEdges"/>
<path d="M246.2,261.5L333.9,164.1L332.2,162.6L330.5,161.1Z" fill="url(#gbase)" fill-opacity="0.62" shape-rendering="crispEdges"/>
<path d="M246.2,261.5L330.5,161.1L328.7,159.7L326.9,158.3Z" fill="url(#gbase)" fill-opacity="0.62" shape-rendering="crispEdges"/>
<path d="M246.2,261.5L326.9,158.3L325.1,156.9L323.2,155.5Z" fill="url(#gbase)" fill-opacity="0.62" shape-rendering="crispEdges"/>
<path d="M246.2,261.5L323.2,155.5L321.4,154.2L319.5,152.9Z" fill="url(#gbase)" fill-opacity="0.62" shape-rendering="crispEdges"/>
<path d="M246.2,261.5L319.5,152.9L317.6,151.6L315.7,150.4Z" fill="url(#gbase)" fill-opacity="0.62" shape-rendering="crispEdges"/>
<path d="M246.2,261.5L315.7,150.4L313.7,149.2L311.8,148.1Z" fill="url(#gbase)" fill-opacity="0.62" shape-rendering="crispEdges"/>
<path d="M246.2,261.5L311.8,148.1L309.8,146.9L307.8,145.8Z" fill="url(#gbase)" fill-opacity="0.62" shape-rendering="crispEdges"/>
<path d="M246.2,261.5L307.8,145.8L305.7,144.8L303.7,143.8Z" fill="url(#gbase)" fill-opacity="0.62" shape-rendering="crispEdges"/>
<path d="M246.2,261.5L303.7,143.8L301.6,142.8L299.5,141.8Z" fill="url(#gbase)" fill-opacity="0.62" shape-rendering="crispEdges"/>
<path d="M246.2,261.5L299.5,141.8L297.4,140.9L295.3,140.0Z" fill="url(#gbase)" fill-opacity="0.62" shape-rendering="crispEdges"/>
<path d="M246.2,261.5L295.3,140.0L293.2,139.2L291.1,138.4Z" fill="url(#gbase)" fill-opacity="0.62" shape-rendering="crispEdges"/>
<path d="M246.2,261.5L291.1,138.4L288.9,137.6L286.7,136.9Z" fill="url(#gbase)" fill-opacity="0.62" shape-rendering="crispEdges"/>
<path d="M246.2,261.5L286.7,136.9L284.6,136.2L282.4,135.6Z" fill="url(#gbase)" fill-opacity="0.62" shape-rendering="crispEdges"/>
<path d="M246.2,261.5L282.4,135.6L280.2,135.0L277.9,134.4Z" fill="url(#gbase)" fill-opacity="0.62" shape-rendering="crispEdges"/>
<path d="M246.2,261.5L277.9,134.4L275.7,133.9L273.5,133.4Z" fill="url(#gbase)" fill-opacity="0.62" shape-rendering="crispEdges"/>
<path d="M246.2,261.5L273.5,133.4L271.2,132.9L269.0,132.5Z" fill="url(#gbase)" fill-opacity="0.62" shape-rendering="crispEdges"/>
<path d="M246.2,261.5L269.0,132.5L266.7,132.1L264.5,131.8Z" fill="url(#gbase)" fill-opacity="0.62" shape-rendering="crispEdges"/>
<path d="M246.2,261.5L264.5,131.8L262.2,131.5L259.9,131.2Z" fill="url(#gbase)" fill-opacity="0.62" shape-rendering="crispEdges"/>
<path d="M246.2,261.5L259.9,131.2L257.7,131.0L255.4,130.8Z" fill="url(#gbase)" fill-opacity="0.62" shape-rendering="crispEdges"/>
<path d="M246.2,261.5L255.4,130.8L253.1,130.7L250.8,130.6Z" fill="url(#gbase)" fill-opacity="0.62" shape-rendering="crispEdges"/>
<path d="M246.2,261.5L250.8,130.6L248.5,130.5L246.2,130.5Z" fill="url(#gbase)" fill-opacity="0.62" shape-rendering="crispEdges"/>
<path d="M246.2,261.5L246.2,130.5L244.0,130.5L241.7,130.6Z" fill="url(#gbase)" fill-opacity="0.62" shape-rendering="crispEdges"/>
<path d="M246.2,261.5L241.7,130.6L239.4,130.7L237.1,130.8Z" fill="url(#gbase)" fill-opacity="0.62" shape-rendering="crispEdges"/>
<path d="M246.2,261.5L237.1,130.8L234.8,131.0L232.6,131.2Z" fill="url(#gbase)" fill-opacity="0.62" shape-rendering="crispEdges"/>
<path d="M246.2,261.5L232.6,131.2L230.3,131.5L228.0,131.8Z" fill="url(#gbase)" fill-opacity="0.62" shape-rendering="crispEdges"/>
<path d="M246.2,261.5L228.0,131.8L225.8,132.1L223.5,132.5Z" fill="url(#gbase)" fill-opacity="0.62" shape-rendering="crispEdges"/>
<path d="M246.2,261.5L223.5,132.5L221.3,132.9L219.0,133.4Z" fill="url(#gbase)" fill-opacity="0.62" shape-rendering="crispEdges"/>
<path d="M246.2,261.5L219.0,133.4L216.8,133.9L214.6,134.4Z" fill="url(#gbase)" fill-opacity="0.62" shape-rendering="crispEdges"/>
<path d="M246.2,261.5L214.6,134.4L212.3,135.0L210.1,135.6Z" fill="url(#gbase)" fill-opacity="0.62" shape-rendering="crispEdges"/>
<path d="M246.2,261.5L210.1,135.6L207.9,136.2L205.8,136.9Z" fill="url(#gbase)" fill-opacity="0.62" shape-rendering="crispEdges"/>
<path d="M246.2,261.5L205.8,136.9L203.6,137.6L201.4,138.4Z" fill="url(#gbase)" fill-opacity="0.62" shape-rendering="crispEdges"/>
<path d="M246.2,261.5L201.4,138.4L199.3,139.2L197.2,140.0Z" fill="url(#gbase)" fill-opacity="0.62" shape-rendering="crispEdges"/>
<path d="M246.2,261.5L197.2,140.0L195.1,140.9L193.0,141.8Z" fill="url(#gbase)" fill-opacity="0.62" shape-rendering="crispEdges"/>
<path d="M246.2,261.5L193.0,141.8L190.9,142.8L188.8,143.8Z" fill="url(#gbase)" fill-opacity="0.62" shape-rendering="crispEdges"/>
<path d="M246.2,261.5L188.8,143.8L186.8,144.8L184.7,145.8Z" fill="url(#gbase)" fill-opacity="0.62" shape-rendering="crispEdges"/>
<path d="M246.2,261.5L184.7,145.8L182.7,146.9L180.8,148.1Z" fill="url(#gbase)" fill-opacity="0.62" shape-rendering="crispEdges"/>
<path d="M246.2,261.5L180.8,148.1L178.8,149.2L176.8,150.4Z" fill="url(#gbase)" fill-opacity="0.60" shape-rendering="crispEdges"/>
<path d="M246.2,261.5L176.8,150.4L174.9,151.6L173.0,152.9Z" fill="url(#gbase)" fill-opacity="0.56" shape-rendering="crispEdges"/>
<path d="M246.2,261.5L173.0,152.9L171.1,154.2L169.3,155.5Z" fill="url(#gbase)" fill-opacity="0.52" shape-rendering="crispEdges"/>
<path d="M246.2,261.5L169.3,155.5L167.4,156.9L165.6,158.3Z" fill="url(#gbase)" fill-opacity="0.39" shape-rendering="crispEdges"/>
<path d="M246.2,261.5L165.6,158.3L163.8,159.7L162.0,161.1Z" fill="url(#gbase)" fill-opacity="0.19" shape-rendering="crispEdges"/>
<path d="M246.2,261.5L162.0,161.1L160.3,162.6L158.6,164.1Z" fill="url(#gbase)" fill-opacity="0.17" shape-rendering="crispEdges"/>
<path d="M246.2,261.5L158.6,164.1L156.9,165.7L155.2,167.3Z" fill="url(#gbase)" fill-opacity="0.16" shape-rendering="crispEdges"/>
<path d="M246.2,261.5L155.2,167.3L153.6,168.9L152.0,170.5Z" fill="url(#gbase)" fill-opacity="0.23" shape-rendering="crispEdges"/>
<path d="M246.2,261.5L152.0,170.5L150.4,172.2L148.9,173.8Z" fill="url(#gbase)" fill-opacity="0.30" shape-rendering="crispEdges"/>
<path d="M246.2,261.5L148.9,173.8L147.4,175.6L145.9,177.3Z" fill="url(#gbase)" fill-opacity="0.28" shape-rendering="crispEdges"/>
<path d="M246.2,261.5L145.9,177.3L144.4,179.1Z" fill="url(#gbase)" fill-opacity="0.14" shape-rendering="crispEdges"/>
<path d="M246.2,261.5L115.4,268.4L115.6,270.6L115.7,272.9Z" fill="url(#gbase)" fill-opacity="0.50" shape-rendering="crispEdges"/>
<path d="M246.2,261.5L115.7,272.9L116.0,275.2L116.2,277.5Z" fill="url(#gbase)" fill-opacity="0.50" shape-rendering="crispEdges"/>
<path d="M246.2,261.5L116.2,277.5L116.5,279.7L116.9,282.0Z" fill="url(#gbase)" fill-opacity="0.51" shape-rendering="crispEdges"/>
<path d="M246.2,261.5L116.9,282.0L117.2,284.2L117.7,286.5Z" fill="url(#gbase)" fill-opacity="0.51" shape-rendering="crispEdges"/>
<path d="M246.2,261.5L117.7,286.5L118.1,288.7L118.6,291.0Z" fill="url(#gbase)" fill-opacity="0.51" shape-rendering="crispEdges"/>
<path d="M246.2,261.5L118.6,291.0L119.1,293.2L119.7,295.4Z" fill="url(#gbase)" fill-opacity="0.52" shape-rendering="crispEdges"/>
<path d="M246.2,261.5L119.7,295.4L120.3,297.6L121.0,299.8Z" fill="url(#gbase)" fill-opacity="0.52" shape-rendering="crispEdges"/>
<path d="M246.2,261.5L121.0,299.8L121.7,302.0L122.4,304.1Z" fill="url(#gbase)" fill-opacity="0.52" shape-rendering="crispEdges"/>
<path d="M246.2,261.5L122.4,304.1L123.2,306.3L124.0,308.4Z" fill="url(#gbase)" fill-opacity="0.53" shape-rendering="crispEdges"/>
<path d="M246.2,261.5L124.0,308.4L124.8,310.6L125.7,312.7Z" fill="url(#gbase)" fill-opacity="0.52" shape-rendering="crispEdges"/>
<path d="M246.2,261.5L125.7,312.7L126.6,314.8L127.5,316.9Z" fill="url(#gbase)" fill-opacity="0.51" shape-rendering="crispEdges"/>
<path d="M246.2,261.5L127.5,316.9L128.5,318.9L129.5,321.0Z" fill="url(#gbase)" fill-opacity="0.50" shape-rendering="crispEdges"/>
<path d="M246.2,261.5L129.5,321.0L130.6,323.0L131.7,325.0Z" fill="url(#gbase)" fill-opacity="0.49" shape-rendering="crispEdges"/>
<path d="M246.2,261.5L131.7,325.0L132.8,327.0L134.0,329.0Z" fill="url(#gbase)" fill-opacity="0.48" shape-rendering="crispEdges"/>
<path d="M246.2,261.5L134.0,329.0L135.2,330.9L136.4,332.8Z" fill="url(#gbase)" fill-opacity="0.47" shape-rendering="crispEdges"/>
<path d="M246.25,261.50L212.11,331.49L214.08,332.42Z" fill="url(#s0)" shape-rendering="crispEdges"/>
<path d="M246.25,261.50L213.04,334.71L215.10,335.61Z" fill="url(#s1)" shape-rendering="crispEdges"/>
<path d="M246.25,261.50L213.32,339.83L215.52,340.72Z" fill="url(#s2)" shape-rendering="crispEdges"/>
<path d="M246.25,261.50L219.08,331.55L221.04,332.29Z" fill="url(#s3)" shape-rendering="crispEdges"/>
<path d="M246.25,261.50L219.56,336.47L221.66,337.18Z" fill="url(#s4)" shape-rendering="crispEdges"/>
<path d="M246.25,261.50L217.73,349.26L220.20,350.02Z" fill="url(#s5)" shape-rendering="crispEdges"/>
<path d="M246.25,261.50L220.84,347.82L223.26,348.50Z" fill="url(#s6)" shape-rendering="crispEdges"/>
<path d="M246.25,261.50L224.02,345.63L226.38,346.22Z" fill="url(#s7)" shape-rendering="crispEdges"/>
<path d="M246.25,261.50L226.31,346.51L228.69,347.03Z" fill="url(#s8)" shape-rendering="crispEdges"/>
<path d="M246.25,261.50L229.00,345.52L231.36,345.97Z" fill="url(#s9)" shape-rendering="crispEdges"/>
<path d="M246.25,261.50L230.85,348.83L233.30,349.22Z" fill="url(#s10)" shape-rendering="crispEdges"/>
<path d="M246.25,261.50L233.02,351.06L235.53,351.40Z" fill="url(#s11)" shape-rendering="crispEdges"/>
<path d="M246.25,261.50L236.42,343.92L238.73,344.17Z" fill="url(#s12)" shape-rendering="crispEdges"/>
<path d="M246.25,261.50L237.81,354.26L240.40,354.46Z" fill="url(#s13)" shape-rendering="crispEdges"/>
<path d="M246.25,261.50L240.54,352.29L243.08,352.41Z" fill="url(#s14)" shape-rendering="crispEdges"/>
<path d="M246.25,261.50L243.07,352.70L245.61,352.76Z" fill="url(#s15)" shape-rendering="crispEdges"/>
<path d="M246.25,261.50L245.65,347.52L248.05,347.50Z" fill="url(#s16)" shape-rendering="crispEdges"/>
<path d="M246.25,261.50L248.08,348.73L250.51,348.64Z" fill="url(#s17)" shape-rendering="crispEdges"/>
<path d="M246.25,261.50L250.90,356.68L253.56,356.51Z" fill="url(#s18)" shape-rendering="crispEdges"/>
<path d="M246.25,261.50L252.58,343.72L254.87,343.51Z" fill="url(#s19)" shape-rendering="crispEdges"/>
<path d="M246.25,261.50L256.45,358.57L259.16,358.24Z" fill="url(#s20)" shape-rendering="crispEdges"/>
<path d="M246.25,261.50L258.41,352.61L260.95,352.23Z" fill="url(#s21)" shape-rendering="crispEdges"/>
<path d="M246.25,261.50L260.66,350.47L263.14,350.03Z" fill="url(#s22)" shape-rendering="crispEdges"/>
<path d="M246.25,261.50L262.76,348.03L265.17,347.54Z" fill="url(#s23)" shape-rendering="crispEdges"/>
<path d="M246.25,261.50L266.25,352.47L268.78,351.88Z" fill="url(#s24)" shape-rendering="crispEdges"/>
<path d="M246.25,261.50L269.42,354.42L272.00,353.74Z" fill="url(#s25)" shape-rendering="crispEdges"/>
<path d="M246.25,261.50L273.10,357.67L275.77,356.88Z" fill="url(#s26)" shape-rendering="crispEdges"/>
<path d="M246.25,261.50L275.00,354.37L277.58,353.53Z" fill="url(#s27)" shape-rendering="crispEdges"/>
<path d="M246.25,261.50L279.00,357.72L281.68,356.76Z" fill="url(#s28)" shape-rendering="crispEdges"/>
<path d="M246.25,261.50L282.27,358.36L284.96,357.31Z" fill="url(#s29)" shape-rendering="crispEdges"/>
<path d="M246.25,261.50L283.91,354.70L286.49,353.61Z" fill="url(#s30)" shape-rendering="crispEdges"/>
<path d="M246.25,261.50L287.74,356.48L290.38,355.28Z" fill="url(#s31)" shape-rendering="crispEdges"/>
<path d="M246.25,261.50L286.18,346.36L288.54,345.21Z" fill="url(#s32)" shape-rendering="crispEdges"/>
<path d="M246.25,261.50L293.95,355.93L296.57,354.56Z" fill="url(#s33)" shape-rendering="crispEdges"/>
<path d="M246.25,261.50L289.72,341.90L291.95,340.66Z" fill="url(#s34)" shape-rendering="crispEdges"/>
<path d="M246.25,261.50L295.51,346.82L297.87,345.42Z" fill="url(#s35)" shape-rendering="crispEdges"/>
<path d="M246.25,261.50L296.97,343.95L299.25,342.50Z" fill="url(#s36)" shape-rendering="crispEdges"/>
<path d="M246.25,261.50L306.03,352.85L308.56,351.15Z" fill="url(#s37)" shape-rendering="crispEdges"/>
<path d="M246.25,261.50L305.94,347.38L308.31,345.68Z" fill="url(#s38)" shape-rendering="crispEdges"/>
<path d="M246.25,261.50L309.97,347.93L312.36,346.11Z" fill="url(#s39)" shape-rendering="crispEdges"/>
<path d="M246.25,261.50L314.84,349.29L317.26,347.34Z" fill="url(#s40)" shape-rendering="crispEdges"/>
<path d="M246.25,261.50L312.72,341.84L314.93,339.96Z" fill="url(#s41)" shape-rendering="crispEdges"/>
<path d="M246.25,261.50L312.65,337.35L314.74,335.47Z" fill="url(#s42)" shape-rendering="crispEdges"/>
<path d="M246.25,261.50L319.32,340.41L321.49,338.34Z" fill="url(#s43)" shape-rendering="crispEdges"/>
<path d="M246.25,261.50L315.98,332.70L317.94,330.73Z" fill="url(#s44)" shape-rendering="crispEdges"/>
<path d="M246.25,261.50L324.71,337.27L326.80,335.05Z" fill="url(#s45)" shape-rendering="crispEdges"/>
<path d="M246.25,261.50L318.28,327.27L320.08,325.23Z" fill="url(#s46)" shape-rendering="crispEdges"/>
<path d="M246.25,261.50L324.96,329.44L326.83,327.22Z" fill="url(#s47)" shape-rendering="crispEdges"/>
<path d="M246.25,261.50L337.12,335.61L339.15,333.04Z" fill="url(#s48)" shape-rendering="crispEdges"/>
<path d="M246.25,261.50L332.15,327.65L333.96,325.22Z" fill="url(#s49)" shape-rendering="crispEdges"/>
<path d="M246.25,261.50L337.74,327.97L339.56,325.39Z" fill="url(#s50)" shape-rendering="crispEdges"/>
<path d="M246.25,261.50L338.56,324.70L340.28,322.10Z" fill="url(#s51)" shape-rendering="crispEdges"/>
<path d="M246.25,261.50L347.96,327.05L349.75,324.18Z" fill="url(#s52)" shape-rendering="crispEdges"/>
<path d="M246.25,261.50L340.60,318.64L342.16,315.98Z" fill="url(#s53)" shape-rendering="crispEdges"/>
<path d="M246.25,261.50L338.79,314.07L340.22,311.46Z" fill="url(#s54)" shape-rendering="crispEdges"/>
<path d="M246.25,261.50L355.31,319.49L356.89,316.42Z" fill="url(#s55)" shape-rendering="crispEdges"/>
<path d="M246.25,261.50L348.60,312.31L349.98,309.43Z" fill="url(#s56)" shape-rendering="crispEdges"/>
<path d="M246.25,261.50L347.62,308.34L348.89,305.49Z" fill="url(#s57)" shape-rendering="crispEdges"/>
<path d="M246.25,261.50L341.00,302.11L342.09,299.45Z" fill="url(#s58)" shape-rendering="crispEdges"/>
<path d="M246.25,261.50L355.48,304.75L356.64,301.68Z" fill="url(#s59)" shape-rendering="crispEdges"/>
<path d="M246.25,261.50L356.95,301.79L358.03,298.69Z" fill="url(#s60)" shape-rendering="crispEdges"/>
<path d="M246.25,261.50L359.58,299.20L360.59,296.02Z" fill="url(#s61)" shape-rendering="crispEdges"/>
<path d="M246.25,261.50L361.63,296.34L362.56,293.10Z" fill="url(#s62)" shape-rendering="crispEdges"/>
<path d="M246.25,261.50L347.63,289.05L348.36,286.20Z" fill="url(#s63)" shape-rendering="crispEdges"/>
<path d="M246.25,261.50L363.56,289.88L364.30,286.59Z" fill="url(#s64)" shape-rendering="crispEdges"/>
<path d="M246.25,261.50L355.01,284.62L355.61,281.57Z" fill="url(#s65)" shape-rendering="crispEdges"/>
<path d="M246.25,261.50L363.90,283.09L364.46,279.80Z" fill="url(#s66)" shape-rendering="crispEdges"/>
<path d="M246.25,261.50L359.56,279.04L360.01,275.87Z" fill="url(#s67)" shape-rendering="crispEdges"/>
<path d="M246.25,261.50L360.54,275.94L360.90,272.74Z" fill="url(#s68)" shape-rendering="crispEdges"/>
<path d="M246.25,261.50L359.69,272.62L359.95,269.45Z" fill="url(#s69)" shape-rendering="crispEdges"/>
<path d="M246.25,261.50L371.58,270.26L371.77,266.76Z" fill="url(#s70)" shape-rendering="crispEdges"/>
<path d="M246.25,261.50L367.37,266.58L367.47,263.19Z" fill="url(#s71)" shape-rendering="crispEdges"/>
<path d="M246.25,261.50L361.68,263.11L361.68,259.89Z" fill="url(#s72)" shape-rendering="crispEdges"/>
<path d="M246.25,261.50L374.09,259.71L373.99,256.15Z" fill="url(#s73)" shape-rendering="crispEdges"/>
<path d="M246.25,261.50L359.65,256.75L359.47,253.58Z" fill="url(#s74)" shape-rendering="crispEdges"/>
<path d="M246.25,261.50L372.36,252.68L372.06,249.16Z" fill="url(#s75)" shape-rendering="crispEdges"/>
<path d="M246.25,261.50L363.47,250.01L363.11,246.74Z" fill="url(#s76)" shape-rendering="crispEdges"/>
<path d="M246.25,261.50L376.07,245.10L375.56,241.48Z" fill="url(#s77)" shape-rendering="crispEdges"/>
<path d="M246.25,261.50L376.66,241.31L376.04,237.68Z" fill="url(#s78)" shape-rendering="crispEdges"/>
<path d="M246.25,261.50L363.98,239.89L363.33,236.61Z" fill="url(#s79)" shape-rendering="crispEdges"/>
<path d="M246.25,261.50L377.16,233.67L376.33,230.03Z" fill="url(#s80)" shape-rendering="crispEdges"/>
<path d="M246.25,261.50L360.88,233.77L360.06,230.58Z" fill="url(#s81)" shape-rendering="crispEdges"/>
<path d="M246.25,261.50L367.92,228.44L366.95,225.06Z" fill="url(#s82)" shape-rendering="crispEdges"/>
<path d="M246.25,261.50L374.14,222.89L373.01,219.33Z" fill="url(#s83)" shape-rendering="crispEdges"/>
<path d="M246.25,261.50L358.60,224.13L357.51,221.00Z" fill="url(#s84)" shape-rendering="crispEdges"/>
<path d="M246.25,261.50L372.86,215.42L371.52,211.90Z" fill="url(#s85)" shape-rendering="crispEdges"/>
<path d="M246.25,261.50L372.02,211.70L370.59,208.21Z" fill="url(#s86)" shape-rendering="crispEdges"/>
<path d="M246.25,261.50L355.19,214.81L353.84,211.79Z" fill="url(#s87)" shape-rendering="crispEdges"/>
<path d="M246.25,261.50L369.79,204.42L368.15,200.99Z" fill="url(#s88)" shape-rendering="crispEdges"/>
<path d="M246.25,261.50L358.30,205.88L356.71,202.77Z" fill="url(#s89)" shape-rendering="crispEdges"/>
<path d="M246.25,261.50L358.84,201.63L357.13,198.51Z" fill="url(#s90)" shape-rendering="crispEdges"/>
<path d="M246.25,261.50L368.84,191.86L366.85,188.46Z" fill="url(#s91)" shape-rendering="crispEdges"/>
<path d="M246.25,261.50L346.64,200.70L344.90,197.92Z" fill="url(#s92)" shape-rendering="crispEdges"/>
<path d="M246.25,261.50L364.26,185.45L362.09,182.18Z" fill="url(#s93)" shape-rendering="crispEdges"/>
<path d="M246.25,261.50L352.67,188.63L350.59,185.69Z" fill="url(#s94)" shape-rendering="crispEdges"/>
<path d="M246.25,261.50L361.21,177.98L358.83,174.80Z" fill="url(#s95)" shape-rendering="crispEdges"/>
<path d="M246.25,261.50L355.24,177.57L352.85,174.56Z" fill="url(#s96)" shape-rendering="crispEdges"/>
<path d="M246.25,261.50L351.34,175.79L348.91,172.89Z" fill="url(#s97)" shape-rendering="crispEdges"/>
<path d="M246.25,261.50L341.63,179.17L339.29,176.54Z" fill="url(#s98)" shape-rendering="crispEdges"/>
<path d="M246.25,261.50L338.25,177.50L335.86,174.96Z" fill="url(#s99)" shape-rendering="crispEdges"/>
<path d="M246.25,261.50L342.87,168.20L340.22,165.54Z" fill="url(#s100)" shape-rendering="crispEdges"/>
<path d="M246.25,261.50L344.20,161.48L341.37,158.78Z" fill="url(#s101)" shape-rendering="crispEdges"/>
<path d="M246.25,261.50L342.88,157.15L339.93,154.49Z" fill="url(#s102)" shape-rendering="crispEdges"/>
<path d="M246.25,261.50L340.13,154.26L337.10,151.68Z" fill="url(#s103)" shape-rendering="crispEdges"/>
<path d="M246.25,261.50L336.55,152.35L333.46,149.87Z" fill="url(#s104)" shape-rendering="crispEdges"/>
<path d="M246.25,261.50L319.03,168.35L316.40,166.35Z" fill="url(#s105)" shape-rendering="crispEdges"/>
<path d="M246.25,261.50L318.75,163.17L315.97,161.18Z" fill="url(#s106)" shape-rendering="crispEdges"/>
<path d="M246.25,261.50L323.17,150.82L320.05,148.72Z" fill="url(#s107)" shape-rendering="crispEdges"/>
<path d="M246.25,261.50L316.38,154.33L313.36,152.42Z" fill="url(#s108)" shape-rendering="crispEdges"/>
<path d="M246.25,261.50L315.95,148.20L312.76,146.30Z" fill="url(#s109)" shape-rendering="crispEdges"/>
<path d="M246.25,261.50L307.97,154.60L304.96,152.92Z" fill="url(#s110)" shape-rendering="crispEdges"/>
<path d="M246.25,261.50L307.61,148.02L304.42,146.35Z" fill="url(#s111)" shape-rendering="crispEdges"/>
<path d="M246.25,261.50L302.84,149.48L299.69,147.94Z" fill="url(#s112)" shape-rendering="crispEdges"/>
<path d="M246.25,261.50L301.58,143.91L298.28,142.41Z" fill="url(#s113)" shape-rendering="crispEdges"/>
<path d="M246.25,261.50L294.43,151.23L291.33,149.93Z" fill="url(#s114)" shape-rendering="crispEdges"/>
<path d="M246.25,261.50L298.46,132.27L294.83,130.87Z" fill="url(#s115)" shape-rendering="crispEdges"/>
<path d="M246.25,261.50L293.85,133.50L290.26,132.22Z" fill="url(#s116)" shape-rendering="crispEdges"/>
<path d="M246.25,261.50L288.56,137.21L285.07,136.08Z" fill="url(#s117)" shape-rendering="crispEdges"/>
<path d="M246.25,261.50L280.62,150.46L277.51,149.55Z" fill="url(#s118)" shape-rendering="crispEdges"/>
<path d="M246.25,261.50L278.94,144.41L275.66,143.54Z" fill="url(#s119)" shape-rendering="crispEdges"/>
<path d="M246.25,261.50L276.55,139.98L273.14,139.18Z" fill="url(#s120)" shape-rendering="crispEdges"/>
<path d="M246.25,261.50L275.01,130.67L271.35,129.92Z" fill="url(#s121)" shape-rendering="crispEdges"/>
<path d="M246.25,261.50L267.87,148.15L264.70,147.60Z" fill="url(#s122)" shape-rendering="crispEdges"/>
<path d="M246.25,261.50L264.94,146.09L261.71,145.62Z" fill="url(#s123)" shape-rendering="crispEdges"/>
<path d="M246.25,261.50L264.52,124.60L260.69,124.15Z" fill="url(#s124)" shape-rendering="crispEdges"/>
<path d="M246.25,261.50L258.32,146.68L255.11,146.39Z" fill="url(#s125)" shape-rendering="crispEdges"/>
<path d="M246.25,261.50L255.53,140.88L252.16,140.67Z" fill="url(#s126)" shape-rendering="crispEdges"/>
<path d="M246.25,261.50L252.19,140.04L248.80,139.92Z" fill="url(#s127)" shape-rendering="crispEdges"/>
<path d="M246.25,261.50L248.91,134.29L245.36,134.27Z" fill="url(#s128)" shape-rendering="crispEdges"/>
<path d="M246.25,261.50L245.43,144.23L242.16,144.29Z" fill="url(#s129)" shape-rendering="crispEdges"/>
<path d="M246.25,261.50L242.22,145.98L238.99,146.13Z" fill="url(#s130)" shape-rendering="crispEdges"/>
<path d="M246.25,261.50L238.06,131.36L234.43,131.64Z" fill="url(#s131)" shape-rendering="crispEdges"/>
<path d="M246.25,261.50L235.87,147.47L232.69,147.81Z" fill="url(#s132)" shape-rendering="crispEdges"/>
<path d="M246.25,261.50L231.82,140.53L228.45,140.98Z" fill="url(#s133)" shape-rendering="crispEdges"/>
<path d="M246.25,261.50L226.96,130.85L223.32,131.44Z" fill="url(#s134)" shape-rendering="crispEdges"/>
<path d="M246.25,261.50L223.24,130.98L219.60,131.68Z" fill="url(#s135)" shape-rendering="crispEdges"/>
<path d="M246.25,261.50L221.46,140.73L218.10,141.47Z" fill="url(#s136)" shape-rendering="crispEdges"/>
<path d="M246.25,261.50L217.73,139.90L214.34,140.74Z" fill="url(#s137)" shape-rendering="crispEdges"/>
<path d="M246.25,261.50L214.83,142.57L211.52,143.49Z" fill="url(#s138)" shape-rendering="crispEdges"/>
<path d="M246.25,261.50L211.23,142.52L207.93,143.55Z" fill="url(#s139)" shape-rendering="crispEdges"/>
<path d="M246.25,261.50L207.35,141.77L204.02,142.90Z" fill="url(#s140)" shape-rendering="crispEdges"/>
<path d="M246.25,261.50L207.94,153.90L204.95,155.01Z" fill="url(#s141)" shape-rendering="crispEdges"/>
<path d="M246.25,261.50L201.86,147.06L198.68,148.34Z" fill="url(#s142)" shape-rendering="crispEdges"/>
<path d="M246.25,261.50L193.89,136.93L190.43,138.44Z" fill="url(#s143)" shape-rendering="crispEdges"/>
<path d="M246.25,261.50L190.97,139.63L187.59,141.22Z" fill="url(#s144)" shape-rendering="crispEdges"/>
<path d="M246.25,261.50L194.63,155.66L191.69,157.14Z" fill="url(#s145)" shape-rendering="crispEdges"/>
<path d="M246.25,261.50L193.42,160.45L190.62,161.96Z" fill="url(#s146)" shape-rendering="crispEdges"/>
<path d="M246.25,261.50L184.30,150.65L181.22,152.42Z" fill="url(#s147)" shape-rendering="crispEdges"/>
<path d="M246.25,261.50L179.76,149.96L176.67,151.86Z" fill="url(#s148)" shape-rendering="crispEdges"/>
<path d="M246.25,261.50L177.62,153.36L174.63,155.32Z" fill="url(#s149)" shape-rendering="crispEdges"/>
<path d="M246.25,261.50L183.42,168.35L180.85,170.15Z" fill="url(#s150)" shape-rendering="crispEdges"/>
<path d="M246.25,261.50L182.45,172.38L179.98,174.20Z" fill="url(#s151)" shape-rendering="crispEdges"/>
<path d="M246.25,261.50L168.92,159.62L166.11,161.82Z" fill="url(#s152)" shape-rendering="crispEdges"/>
<path d="M246.25,261.50L176.71,175.01L174.32,176.98Z" fill="url(#s153)" shape-rendering="crispEdges"/>
<path d="M246.25,261.50L162.24,162.79L159.52,165.18Z" fill="url(#s154)" shape-rendering="crispEdges"/>
<path d="M246.25,261.50L173.58,180.79L171.35,182.85Z" fill="url(#s155)" shape-rendering="crispEdges"/>
<path d="M246.25,261.50L169.99,181.42L167.78,183.58Z" fill="url(#s156)" shape-rendering="crispEdges"/>
<path d="M246.25,261.50L158.70,174.56L156.30,177.03Z" fill="url(#s157)" shape-rendering="crispEdges"/>
<path d="M246.25,261.50L151.77,172.78L149.33,175.45Z" fill="url(#s158)" shape-rendering="crispEdges"/>
<path d="M246.25,261.50L152.38,178.16L150.09,180.81Z" fill="url(#s159)" shape-rendering="crispEdges"/>
<path d="M246.25,261.50L150.92,181.51L149.54,183.19Z" fill="url(#s160)" shape-rendering="crispEdges"/>
<path d="M246.25,261.50L141.74,266.98L141.94,269.89Z" fill="url(#s161)" shape-rendering="crispEdges"/>
<path d="M246.25,261.50L140.56,270.00L140.84,272.95Z" fill="url(#s162)" shape-rendering="crispEdges"/>
<path d="M246.25,261.50L154.05,271.52L154.36,274.09Z" fill="url(#s163)" shape-rendering="crispEdges"/>
<path d="M246.25,261.50L143.57,275.57L144.00,278.43Z" fill="url(#s164)" shape-rendering="crispEdges"/>
<path d="M246.25,261.50L149.87,277.45L150.36,280.14Z" fill="url(#s165)" shape-rendering="crispEdges"/>
<path d="M246.25,261.50L149.58,280.29L150.14,282.98Z" fill="url(#s166)" shape-rendering="crispEdges"/>
<path d="M246.25,261.50L139.27,285.41L139.98,288.39Z" fill="url(#s167)" shape-rendering="crispEdges"/>
<path d="M246.25,261.50L147.16,286.57L147.90,289.33Z" fill="url(#s168)" shape-rendering="crispEdges"/>
<path d="M246.25,261.50L150.48,288.60L151.28,291.26Z" fill="url(#s169)" shape-rendering="crispEdges"/>
<path d="M246.25,261.50L158.60,288.97L159.41,291.40Z" fill="url(#s170)" shape-rendering="crispEdges"/>
<path d="M246.25,261.50L145.03,296.35L146.04,299.17Z" fill="url(#s171)" shape-rendering="crispEdges"/>
<path d="M246.25,261.50L152.53,296.73L153.55,299.33Z" fill="url(#s172)" shape-rendering="crispEdges"/>
<path d="M246.25,261.50L156.86,297.98L157.91,300.46Z" fill="url(#s173)" shape-rendering="crispEdges"/>
<path d="M246.25,261.50L160.47,299.33L161.56,301.71Z" fill="url(#s174)" shape-rendering="crispEdges"/>
<path d="M246.25,261.50L167.24,299.02L168.32,301.21Z" fill="url(#s175)" shape-rendering="crispEdges"/>
<path d="M246.25,261.50L164.74,303.03L165.93,305.29Z" fill="url(#s176)" shape-rendering="crispEdges"/>
<path d="M246.25,261.50L180.28,297.47L181.31,299.30Z" fill="url(#s177)" shape-rendering="crispEdges"/>
<path d="M246.25,261.50L172.52,304.41L173.74,306.46Z" fill="url(#s178)" shape-rendering="crispEdges"/>
<path d="M246.25,261.50L182.29,301.16L183.13,302.49Z" fill="url(#s179)" shape-rendering="crispEdges"/>
</g>
<path d="M246.25,261.50L13.11,72.70L-35.66,158.89L-53.34,277.20Z" fill="#050505"/>
<path d="M246.25,261.50L78.52,370.43L146.25,461.50L306.25,461.50L296.25,371.50L279.25,341.50L274.55,338.80L273.25,332.70L268.35,324.10L264.75,319.10L256.15,306.90L249.95,298.30L242.55,289.60L236.45,284.70L235.65,284.20Z" fill="#050505"/>
<filter id="nblur"><feGaussianBlur stdDeviation="0.45"/></filter><g style="mix-blend-mode:lighten" filter="url(#nblur)"><path d="M180.3,130.6l3.4,-1.7M259.7,211.1l1.6,0.4M73.0,236.6l0.2,-1.7M218.0,384.1l-1.9,-0.4M294.0,429.4l-3.4,1.0M424.6,91.5l3.1,3.3M126.7,292.1l-0.9,-3.6M264.1,97.5l1.7,0.2M313.8,234.3l1.0,2.4M332.2,182.0l3.3,3.6M215.6,357.9l-1.9,-0.6M73.7,324.6l-1.4,-3.9M386.9,191.7l1.7,3.5M301.3,446.4l-4.2,1.2M203.5,324.7l-1.3,-0.9M365.8,398.0l-1.9,1.6M193.4,405.6l-4.6,-1.7M125.0,161.0l1.5,-1.8M279.6,172.5l1.4,0.5M252.1,305.6l-3.8,0.5M82.3,99.3l1.6,-1.6M186.4,93.7l1.4,-0.5M289.0,129.7l2.3,0.7M233.5,255.4l0.8,-1.6M187.3,173.3l3.7,-2.4M67.6,430.6l-2.3,-2.4M382.3,335.1l-1.1,2.1M143.9,268.1l-0.2,-2.7M416.6,210.7l0.6,2.2M183.5,374.3l-4.3,-2.4M209.3,429.0l-3.9,-0.9M190.2,279.7l-0.6,-1.9M221.5,400.9l-4.3,-0.8M153.3,183.9l1.5,-1.8M216.5,418.1l-3.2,-0.6M255.1,81.0l3.0,0.1M60.5,373.7l-1.1,-1.8M330.6,282.7l-0.6,2.6M267.0,368.1l-1.8,0.4M152.1,177.8l2.8,-3.1M269.4,359.0l-4.6,1.1M320.9,402.7l-4.2,2.2M268.5,427.7l-4.4,0.6M104.5,239.8l0.3,-1.7M116.8,342.5l-2.0,-3.2M119.5,235.8l0.7,-3.2M132.3,193.4l2.1,-3.5M266.5,239.2l1.2,1.0M354.2,438.4l-1.6,1.0M73.8,366.1l-1.3,-2.1M217.1,415.8l-4.3,-0.8M92.5,95.6l2.9,-2.7M159.3,122.5l2.8,-1.8M100.0,134.5l1.1,-1.3M175.8,188.4l3.0,-2.9M246.3,140.7l2.7,0.0M152.8,79.8l3.6,-1.9M130.0,252.0l0.4,-4.8M210.6,204.3l1.4,-0.9M85.5,351.8l-1.2,-2.1M164.6,164.8l1.9,-1.6M174.9,207.7l0.9,-1.2M236.8,262.5l-0.2,-2.2M60.9,173.1l0.8,-1.6M74.6,82.4l1.9,-1.8M327.1,403.7l-2.5,1.4M333.8,378.6l-1.6,1.2M145.1,85.7l1.7,-1.0M293.5,329.2l-2.6,1.8M357.7,354.6l-2.1,2.5M305.9,98.8l3.8,1.4M86.9,173.6l2.0,-3.5M336.1,439.9l-2.9,1.5M299.7,103.1l1.9,0.6M337.3,188.2l2.2,2.7M312.1,183.1l2.5,2.1M233.6,118.4l4.6,-0.4M425.3,425.1l-1.1,1.2M366.1,437.0l-2.5,1.7M137.6,428.6l-1.9,-1.2M112.1,270.5l-0.3,-4.8M145.7,410.6l-2.7,-1.8M60.3,258.4l0.1,-3.1M59.7,355.5l-2.0,-4.0M405.9,341.4l-2.1,4.2M198.4,221.3l3.2,-3.8M194.1,234.5l1.1,-2.2M152.4,173.6l2.2,-2.4M295.3,416.5l-4.6,1.4M328.5,92.6l3.7,1.8M340.9,315.7l-1.2,2.2M406.1,121.7l2.1,2.4M170.5,351.1l-3.8,-3.2M304.7,186.8l2.7,2.1M227.5,126.3l2.2,-0.3M187.1,108.2l2.2,-0.8M272.3,406.7l-4.1,0.7M214.0,270.6l-0.8,-2.7M82.2,178.1l2.2,-4.4M247.5,310.1l-4.5,0.1M160.5,167.2l2.1,-2.0M416.3,392.3l-2.8,3.6M71.1,340.1l-1.9,-4.2M368.2,394.8l-3.6,3.3M146.1,419.0l-3.2,-2.0M101.0,100.4l2.5,-2.2M204.3,157.8l3.3,-1.4M390.0,252.2l0.1,2.3M418.8,338.2l-1.0,2.4M245.6,326.9l-3.0,-0.0M308.9,420.9l-2.1,0.8M185.6,231.7l1.7,-3.5M357.5,351.2l-2.1,2.5M422.2,190.9l1.6,4.1M244.7,144.2l2.3,-0.0M308.2,429.8l-1.9,0.7M138.7,439.3l-1.7,-1.0M333.4,448.1l-4.3,2.0M128.5,425.0l-3.3,-2.4M307.8,216.0l1.7,2.3M122.4,75.1l2.1,-1.4M416.8,120.4l3.1,3.8M192.6,382.1l-4.0,-1.8M131.3,210.6l1.9,-4.2M212.8,378.4l-4.0,-1.1M72.1,97.5l3.2,-3.4M338.9,411.0l-2.3,1.4M402.2,311.7l-1.5,4.6M203.7,168.1l2.7,-1.2M367.1,363.8l-2.3,2.8M178.7,209.7l2.6,-3.4M132.9,356.3l-1.5,-1.8M389.9,444.4l-1.9,1.5M95.1,260.9l0.0,-4.0M339.1,391.6l-3.1,2.2M373.9,184.2l1.8,3.0M335.4,148.7l1.9,1.5M116.4,405.6l-2.6,-2.4M207.3,446.2l-3.2,-0.7M361.8,319.0l-2.2,4.4M74.1,184.1l0.8,-1.7M423.4,292.7l-0.8,4.7M140.5,212.3l0.8,-1.8M154.5,298.8l-1.4,-3.5M63.3,196.7l1.3,-3.7M175.9,150.3l3.6,-2.3M82.7,112.0l1.9,-2.1M176.0,286.4l-0.9,-2.6M382.7,447.7l-2.2,1.6M231.6,135.0l1.5,-0.2M197.9,263.2l-0.1,-2.0M254.2,421.1l-1.9,0.1M360.4,436.6l-1.8,1.2M412.2,439.8l-2.3,2.2M367.8,134.1l3.1,2.9M210.5,391.4l-4.2,-1.2M140.7,223.9l1.1,-3.1M74.4,284.9l-0.6,-4.1M372.9,118.1l2.7,2.4M293.8,188.8l2.5,1.6M218.4,321.1l-2.8,-1.3M67.8,306.1l-0.8,-3.1M345.0,366.5l-2.3,2.1M236.2,114.2l1.9,-0.1M93.3,239.7l0.5,-3.3M250.5,94.3l3.3,0.1M243.2,432.7l-4.7,-0.1M354.2,423.0l-1.4,1.0M342.2,133.5l3.7,2.8M137.0,172.6l2.1,-2.5M102.1,273.0l-0.3,-3.7M98.2,446.4l-2.9,-2.3M357.7,173.3l3.1,3.9M193.9,360.7l-2.7,-1.4M337.5,92.1l3.8,2.1M176.1,74.7l1.5,-0.6M108.4,159.2l2.3,-3.0M60.0,207.1l0.5,-1.8M143.0,292.8l-1.0,-3.4M385.3,367.3l-1.8,2.3M63.3,315.9l-1.0,-3.3M152.1,412.8l-1.4,-0.9M63.6,280.6l-0.5,-4.8M363.6,139.5l1.9,1.8M61.4,390.7l-2.4,-3.4M336.8,243.7l0.4,2.2M319.3,391.0l-3.5,2.0M266.4,237.5l3.3,2.7M158.4,314.8l-2.5,-4.2M388.6,79.7l1.9,1.5M337.6,428.3l-3.6,2.0M222.7,345.7l-3.4,-0.9M188.2,127.2l1.5,-0.6M401.4,428.1l-1.4,1.3M296.5,383.4l-3.4,1.4M96.4,110.7l2.9,-2.9M178.5,232.9l0.6,-1.4M164.8,342.4l-2.0,-2.0M188.9,338.2l-2.7,-2.0M381.9,108.1l3.3,2.9M156.6,428.0l-2.2,-1.2M294.2,207.4l2.2,1.9M392.5,106.3l3.4,3.2M136.2,172.7l2.9,-3.6M201.0,405.5l-2.2,-0.7M307.0,352.2l-1.7,1.2M348.7,291.2l-0.5,1.9M390.5,163.2l1.2,1.8M322.3,390.4l-1.8,1.0M151.7,196.5l1.9,-2.7M97.1,434.9l-1.4,-1.2M427.4,372.1l-2.1,3.5M132.5,313.2l-0.8,-1.7M318.7,261.7l-0.0,3.7M294.8,167.8l2.6,1.4M127.6,319.4l-1.9,-3.8M242.4,439.5l-1.6,-0.0M119.2,367.2l-3.1,-3.7M250.8,313.7l-4.4,0.4M192.1,95.2l2.3,-0.8M362.2,311.9l-1.3,2.9M365.6,380.1l-2.2,2.2M264.3,120.9l4.4,0.6M377.6,174.3l1.6,2.3M164.3,165.9l1.9,-1.7M219.5,313.0l-3.4,-1.8M304.7,167.8l1.6,1.0M146.5,365.1l-2.0,-1.9M266.9,173.2l2.3,0.5M243.7,95.9l3.1,-0.0M61.5,389.3l-1.8,-2.6M308.2,389.2l-2.5,1.2M182.8,442.1l-3.1,-1.1M185.8,397.1l-2.5,-1.1M255.8,363.0l-2.2,0.2M217.2,281.8l-2.5,-3.6M369.0,225.4l0.9,3.1M182.9,192.9l1.9,-1.7M390.7,278.5l-0.2,1.7M290.0,309.1l-2.9,2.7M314.0,153.7l3.2,2.0M344.6,112.0l1.8,1.2M349.1,416.8l-3.2,2.1M367.1,369.0l-2.3,2.6M172.1,232.2l1.0,-2.4M299.3,424.2l-1.6,0.5M73.7,118.6l2.8,-3.3M403.0,241.4l0.2,1.5M280.7,425.6l-4.8,1.0M213.5,112.3l3.7,-0.8M107.3,80.7l3.2,-2.4M326.2,394.8l-3.5,2.1M154.1,435.6l-3.5,-1.9M64.5,318.0l-1.3,-4.2M241.1,96.4l2.8,-0.1M195.0,315.8l-2.7,-2.5M425.1,385.7l-2.1,3.0M284.4,410.0l-4.2,1.1M59.6,172.6l1.3,-2.7M363.0,399.2l-2.7,2.3M134.1,355.3l-3.1,-3.7M286.3,328.1l-2.7,1.6M154.4,355.7l-3.1,-3.0M91.8,376.5l-2.5,-3.4M276.1,410.3l-4.5,0.9M237.5,295.0l-2.1,-0.5M126.7,336.9l-1.5,-2.3M209.7,268.0l-0.4,-2.0M353.9,132.6l2.8,2.3M383.3,256.4l0.1,3.5M365.7,435.3l-2.0,1.4M134.3,141.8l1.3,-1.2M399.8,98.1l2.6,2.5M103.9,433.7l-1.9,-1.5M298.9,432.7l-3.7,1.1M142.0,88.5l2.1,-1.2M397.1,413.2l-3.1,3.1M98.5,195.5l1.0,-2.2M239.3,137.2l2.3,-0.1M312.8,78.7l3.8,1.4M383.6,407.3l-1.4,1.4M228.4,201.4l4.2,-1.2M294.3,127.5l2.1,0.8M158.8,228.4l0.7,-1.9M373.4,199.4l0.9,1.9M80.3,409.6l-2.6,-2.9M237.8,181.3l2.4,-0.3M95.5,182.5l2.2,-4.1M331.1,184.1l3.3,3.6M361.2,201.8l0.9,1.8M370.7,271.5l-0.2,2.1M400.5,155.8l2.0,2.9M126.5,362.9l-2.6,-3.0M88.7,106.8l2.5,-2.6M362.9,292.6l-0.6,2.1M333.4,227.0l1.5,3.7M243.6,79.8l4.7,-0.1M196.5,135.3l2.6,-1.0M60.7,268.9l-0.1,-3.1M81.9,401.3l-3.1,-3.7M251.2,272.9l-3.1,1.4M421.3,157.9l1.1,1.8M152.8,380.4l-1.3,-1.0M320.8,147.2l1.3,0.9M274.9,270.1l-1.1,3.8M384.6,342.9l-0.8,1.4M243.9,261.8l-0.3,-2.5M114.1,288.8l-0.8,-4.0M368.3,425.6l-2.3,1.7M350.0,201.0l1.2,2.0M364.2,391.9l-1.3,1.1M417.7,424.4l-1.6,1.7M295.9,210.7l2.4,2.3M221.2,263.3l-0.1,-1.6M362.1,405.6l-3.6,2.9M299.3,173.7l3.3,2.0M262.1,420.6l-3.7,0.4M253.9,236.6l4.6,1.4M173.4,316.8l-1.2,-1.5M417.1,266.7l-0.1,2.4M258.9,129.7l1.9,0.2M169.0,226.5l1.0,-2.3M231.6,279.5l-2.8,-2.3M175.3,164.8l1.8,-1.3M202.5,293.6l-0.9,-1.2M381.8,163.5l2.0,2.8M118.4,99.0l3.6,-2.8M289.8,392.7l-4.2,1.4M335.7,352.7l-3.0,2.9M353.0,339.7l-2.8,3.8M385.1,75.6l3.3,2.5M245.5,435.0l-3.5,-0.0M352.5,401.3l-2.9,2.2M228.4,245.7l2.7,-3.0M205.3,282.3l-1.3,-2.5M353.8,392.6l-2.5,2.1M128.0,188.0l1.1,-1.7M276.8,107.0l4.6,0.9M374.8,388.3l-3.4,3.5M218.7,415.5l-1.5,-0.3M260.7,448.4l-3.3,0.3M315.6,220.1l1.4,2.4M190.5,429.5l-3.7,-1.2M96.1,214.4l0.9,-2.8M274.0,403.9l-4.8,0.9M223.8,308.2l-4.5,-2.2M257.5,380.0l-2.1,0.2M425.4,383.8l-1.9,2.7M391.6,231.8l0.4,2.0M250.6,263.3l-0.8,2.0M173.9,333.0l-1.1,-1.1M374.4,293.8l-0.9,3.7M258.0,447.9l-3.5,0.2M104.5,132.8l2.8,-3.1M288.6,376.5l-1.6,0.6M347.6,195.1l2.2,3.3M277.1,204.8l2.7,1.5M223.6,306.6l-2.1,-1.1M244.6,430.1l-2.4,-0.0M240.4,371.3l-2.3,-0.1M193.2,144.0l4.5,-2.0M269.3,117.1l3.3,0.5M190.5,165.9l1.9,-1.1M147.8,87.1l3.3,-1.9M117.4,338.7l-0.9,-1.6M248.1,159.2l3.1,0.1M323.6,171.8l3.5,3.0M196.8,166.3l3.2,-1.7M385.7,120.0l2.3,2.3M271.6,190.5l2.7,1.0M99.8,284.7l-0.4,-2.7M170.2,98.7l2.3,-1.1M106.2,342.8l-1.2,-2.2M320.9,167.2l3.5,2.8M333.9,341.2l-1.1,1.2M119.7,148.3l1.7,-1.9M73.7,190.6l1.4,-3.5M373.4,287.8l-0.8,3.9M221.9,330.6l-2.6,-0.9M371.4,365.2l-1.6,1.9M378.9,301.8l-0.5,1.6M339.7,106.3l3.4,2.0M339.0,384.8l-2.0,1.5M335.6,385.2l-3.0,2.2M79.3,335.8l-1.2,-2.7M406.6,121.9l2.7,3.1M322.2,376.2l-2.0,1.3M422.0,313.1l-1.0,3.3M81.2,208.2l0.9,-2.8M148.1,164.6l2.3,-2.4M101.9,182.5l1.3,-2.4M226.8,116.4l2.6,-0.4M194.9,137.0l1.6,-0.7M426.1,285.4l-0.2,1.9M221.6,145.2l3.3,-0.7M303.4,168.3l2.0,1.2M69.4,364.4l-2.2,-3.8M181.3,143.2l3.8,-2.1M244.1,261.3l0.2,-2.0M276.6,104.1l3.8,0.7M225.0,437.7l-1.8,-0.2M223.6,145.6l4.0,-0.8M373.9,394.7l-3.1,2.9M165.1,322.1l-2.0,-2.6M397.5,135.7l1.6,1.9M270.0,204.5l2.0,0.8M170.2,288.2l-1.6,-4.6M69.4,144.8l2.1,-3.2M90.9,321.7l-1.0,-2.6M214.9,272.7l-1.2,-3.3M101.8,141.7l2.9,-3.6M101.0,397.3l-1.6,-1.7M257.8,168.3l3.2,0.4M143.8,288.8l-0.5,-1.8M279.4,104.1l2.9,0.6M97.2,385.3l-1.8,-2.2M418.5,285.1l-0.6,4.2M349.7,95.6l2.0,1.2M64.7,296.9l-0.4,-2.2M313.9,383.6l-1.7,0.9M335.1,429.5l-3.6,1.9M101.3,421.0l-2.9,-2.6M131.3,241.5l0.8,-4.4M201.6,128.1l4.3,-1.4M317.2,377.1l-4.1,2.5M313.5,221.2l1.6,2.7M279.7,90.4l2.1,0.4M234.2,290.4l-2.6,-1.1M61.2,291.2l-0.4,-2.6M231.0,443.9l-1.7,-0.1M310.3,176.3l2.0,1.5M336.0,264.8l-0.1,3.7M265.3,226.2l1.5,0.8M180.0,444.7l-3.0,-1.1M150.2,162.1l2.0,-1.9M61.7,400.6l-1.9,-2.5M272.0,187.4l2.0,0.7M171.9,189.7l2.8,-2.9M410.1,201.7l1.6,4.4M84.4,255.7l0.2,-4.6M155.4,82.7l1.9,-0.9M322.8,155.9l2.3,1.7M284.8,398.0l-3.6,1.0M333.8,435.2l-3.2,1.6M362.1,402.3l-2.1,1.7M302.0,226.0l2.1,3.3M184.3,259.4l0.1,-3.6M232.5,79.1l4.7,-0.4M182.3,109.0l1.9,-0.8M346.3,107.7l3.6,2.4M284.3,198.1l3.5,2.1M325.4,360.2l-3.3,2.6M348.3,440.5l-2.7,1.5M255.0,426.9l-2.0,0.1M237.2,319.8l-4.2,-0.6M429.6,159.6l2.0,3.6M69.5,124.3l1.0,-1.4M266.9,142.2l4.7,0.8M119.7,84.9l3.4,-2.5M426.9,261.1l0.0,3.7M209.5,398.0l-1.7,-0.4M142.9,168.5l1.6,-1.8M170.8,446.9l-2.1,-0.9M117.7,397.7l-3.3,-3.1M340.5,382.6l-2.0,1.5M95.5,137.3l2.5,-3.0M317.2,88.2l3.0,1.2M177.5,403.5l-1.7,-0.8M114.4,350.8l-1.8,-2.7M191.4,260.1l0.1,-4.7M161.2,140.5l2.0,-1.4M75.2,264.8l-0.1,-2.9M386.3,343.2l-1.5,2.5M216.0,438.9l-2.8,-0.5M212.5,127.6l4.8,-1.2M200.2,164.3l2.0,-0.9M374.7,368.0l-3.0,3.6M319.0,195.6l2.5,2.8M146.8,310.1l-1.8,-3.7M312.6,194.8l2.6,2.6M236.2,344.6l-3.3,-0.4M141.8,127.3l3.7,-2.9M255.2,271.8l-3.3,2.9M368.9,409.3l-3.5,2.9M201.8,386.0l-4.1,-1.5M116.6,168.3l1.1,-1.5M359.8,269.5l-0.2,3.1M207.1,447.9l-3.8,-0.8M238.1,373.4l-4.1,-0.3M313.7,211.6l2.0,2.7M197.9,201.5l2.2,-1.8M134.2,288.0l-0.4,-1.7M328.0,177.0l1.9,1.8M198.2,90.5l2.9,-0.8M362.7,206.1l1.2,2.6M198.4,323.6l-2.1,-1.6M342.1,216.3l1.4,3.0M396.5,357.9l-0.9,1.3M232.2,247.3l3.2,-3.1M236.4,407.9l-3.0,-0.2M209.4,89.2l3.8,-0.8M347.1,362.7l-1.4,1.4M87.9,380.6l-1.1,-1.5M385.5,128.6l1.8,1.9M61.3,444.8l-1.7,-1.7M176.2,169.6l3.6,-2.7M250.4,231.6l1.7,0.2M383.6,374.7l-2.9,3.5M134.7,93.5l2.8,-1.9M232.9,257.4l1.0,-3.4M359.1,149.1l3.3,3.3M78.2,191.8l1.3,-3.1M168.2,340.5l-3.1,-3.0M80.6,236.6l0.6,-3.7M382.1,101.0l2.7,2.3M404.4,284.4l-0.6,4.3M311.4,327.1l-1.8,1.8M372.9,128.7l3.4,3.3M74.6,387.5l-1.5,-2.0M277.0,193.5l3.2,1.4M400.5,195.6l1.7,4.1M358.4,441.5l-2.4,1.5M201.3,314.3l-1.7,-1.5M94.0,248.2l0.4,-4.0M313.3,116.9l4.0,1.8M404.8,447.5l-3.6,3.1M167.9,204.5l2.4,-3.3M282.9,276.8l-0.7,1.7M160.6,408.9l-3.9,-2.2M187.9,428.2l-3.6,-1.3M126.0,369.4l-1.7,-1.9M282.1,247.0l0.6,1.5M95.4,316.6l-0.7,-1.8M191.2,214.5l2.5,-2.9M386.1,254.1l0.1,2.0M388.2,117.9l2.3,2.3M103.0,249.4l0.2,-2.1M248.8,211.6l2.2,0.1M144.9,355.3l-1.4,-1.5M70.6,221.5l0.7,-3.2M392.5,105.6l2.6,2.4M281.9,368.0l-3.8,1.3M151.0,298.7l-1.8,-4.6M290.5,333.4l-3.7,2.3M362.6,247.2l0.6,4.7M411.1,228.5l0.6,2.9M150.7,349.2l-2.6,-2.9M187.9,126.6l2.0,-0.9M385.1,186.1l2.3,4.3M153.4,388.4l-1.9,-1.4M60.7,257.4l0.0,-1.6M363.2,231.0l0.9,3.5M290.9,183.5l1.6,0.9M127.9,175.8l2.8,-3.9M206.7,261.4l0.0,-4.8M429.2,145.0l2.4,3.7M229.2,377.5l-2.4,-0.3M96.8,281.3l-0.6,-4.5M194.5,321.9l-2.8,-2.4M254.6,327.7l-4.6,0.6M392.7,347.3l-2.1,3.6M113.1,294.3l-0.8,-3.4M205.9,354.3l-3.4,-1.5M344.5,183.2l2.1,2.7M356.2,204.2l0.9,1.8M387.6,134.8l2.7,3.0M175.8,94.1l2.3,-1.0M421.1,434.8l-1.5,1.5M412.4,148.0l1.5,2.2M99.6,171.6l1.5,-2.5M176.9,131.0l3.7,-1.9M268.2,325.5l-3.9,1.3M194.8,418.1l-3.2,-1.0M295.0,171.4l3.7,2.0M158.4,165.3l1.3,-1.2M296.4,333.5l-3.5,2.4M411.2,352.4l-1.3,2.4M109.0,201.0l0.7,-1.6M247.0,393.5l-3.8,0.0M161.2,153.9l1.8,-1.4M312.2,439.6l-4.0,1.5M320.9,101.1l4.0,1.9M60.3,310.0l-0.5,-1.9M73.8,384.3l-1.1,-1.5M294.7,201.5l2.1,1.7M69.6,263.3l-0.0,-3.0M294.9,345.7l-3.1,1.8M431.9,375.6l-2.5,4.1M428.4,100.8l2.1,2.4M229.0,330.0l-3.9,-1.0M187.0,145.2l2.6,-1.3M131.7,350.0l-2.0,-2.6M133.0,337.9l-1.2,-1.8M329.4,310.3l-1.2,2.1M120.3,311.1l-1.8,-4.6M360.3,244.6l0.3,1.8M107.1,114.8l2.5,-2.4M325.0,428.5l-4.5,2.1M109.1,78.8l1.8,-1.4M232.7,90.2l4.6,-0.4M240.5,313.8l-2.2,-0.2M398.2,217.5l0.5,1.8M106.3,149.0l1.9,-2.4M297.3,339.1l-2.5,1.7M330.3,94.2l2.8,1.4M296.4,352.1l-1.4,0.8M424.6,375.0l-0.9,1.4M407.4,313.5l-1.4,4.5M116.5,80.8l3.4,-2.4M281.7,373.8l-1.7,0.5M263.3,183.1l2.8,0.6M230.5,119.8l3.8,-0.4M219.7,115.4l4.8,-0.9M376.7,112.0l2.1,1.8M346.9,76.6l1.5,0.8M318.3,298.5l-1.5,3.0M224.4,338.9l-2.3,-0.6M189.5,195.7l1.4,-1.2M372.4,446.8l-3.4,2.3M152.5,228.7l0.5,-1.5M349.2,407.7l-3.5,2.5M196.5,275.5l-1.3,-4.7M338.4,356.4l-1.7,1.7M69.4,333.2l-0.8,-2.1M282.9,334.6l-2.3,1.1M84.1,79.5l2.1,-1.8M161.4,362.5l-1.6,-1.4M172.5,227.4l1.6,-3.6M331.8,109.6l4.2,2.3M370.7,85.5l3.6,2.5M379.2,375.1l-2.5,2.9M62.7,145.2l2.5,-3.9M305.9,294.1l-1.8,3.3M112.8,110.4l3.7,-3.3M303.3,287.6l-0.9,2.1M153.2,211.3l1.6,-2.9M152.0,372.5l-1.9,-1.6M345.4,158.0l1.6,1.5M202.9,211.0l2.8,-2.4M146.9,85.0l2.6,-1.5M231.3,340.8l-1.8,-0.3M238.6,139.2l2.3,-0.1M103.3,99.5l2.1,-1.8M409.8,282.0l-0.2,1.7M380.3,115.3l3.5,3.2M148.8,138.0l3.6,-2.8M90.1,173.5l2.3,-4.1M332.9,101.9l2.7,1.5M135.9,322.6l-1.3,-2.4M427.6,254.6l0.1,2.1M303.5,267.0l-0.2,1.6M336.3,275.4l-0.4,2.3M413.1,351.6l-2.1,4.0M397.1,142.1l1.4,1.8M396.6,104.7l1.6,1.6M63.7,429.6l-1.6,-1.7M291.6,155.1l4.1,1.7M59.1,301.8l-0.5,-2.3M269.4,340.9l-1.9,0.6M104.1,434.1l-1.6,-1.3M254.6,292.0l-4.4,1.2M146.7,136.8l2.8,-2.2M417.4,174.9l2.2,4.3M78.3,417.0l-1.3,-1.4M303.7,266.3l-0.2,1.9M272.6,142.1l3.8,0.8M86.5,352.0l-1.8,-3.2M310.7,373.8l-1.3,0.8M312.9,339.9l-2.9,2.4M418.0,368.6l-1.2,2.0M396.1,161.2l2.3,3.4M307.4,361.6l-1.7,1.0M139.5,173.8l1.0,-1.3M211.1,231.8l1.1,-1.4M222.7,139.8l3.1,-0.6M377.2,402.2l-2.6,2.4M64.6,274.6l-0.3,-4.0M422.3,129.7l1.6,2.1M178.9,230.5l1.3,-2.9M79.6,105.5l1.4,-1.5M331.9,202.1l1.8,2.6M406.9,284.1l-0.2,1.7M318.4,218.5l2.1,3.4M357.5,374.7l-1.3,1.3M145.6,109.0l3.2,-2.1M110.8,146.3l2.3,-2.7M296.4,164.3l2.1,1.1M289.2,412.2l-2.1,0.6M307.1,171.8l1.7,1.2M79.8,302.5l-0.4,-1.8M231.9,148.1l1.9,-0.2M254.2,210.1l4.0,0.6M349.4,113.8l1.4,1.0M240.1,168.7l3.8,-0.3M107.3,248.7l0.3,-3.7M84.7,355.5l-2.1,-3.6M78.2,182.0l1.8,-3.8M98.9,100.5l1.5,-1.4M218.5,200.8l1.8,-0.8M99.1,379.0l-1.7,-2.1M154.6,250.0l0.6,-4.9M286.1,411.3l-4.7,1.2M376.8,381.1l-1.6,1.8M199.3,206.3l2.2,-1.8M363.5,169.0l2.4,3.0M373.5,124.1l2.5,2.3M351.9,400.2l-1.8,1.4M152.4,111.6l2.2,-1.4M357.3,159.2l1.2,1.3M336.5,148.4l2.4,1.9M175.7,401.7l-3.1,-1.6M279.0,385.0l-3.2,0.9M214.9,404.2l-3.7,-0.8M105.8,416.9l-1.2,-1.1M220.9,343.1l-2.9,-0.9M255.1,381.7l-4.2,0.3M142.3,353.3l-2.8,-3.2M389.7,446.2l-2.4,1.9M324.8,422.7l-2.0,1.0M182.2,348.6l-1.7,-1.3M433.5,284.4l-0.5,4.3M194.5,420.5l-2.1,-0.7M250.3,423.7l-3.5,0.1M156.0,177.5l2.0,-2.2M234.4,108.6l1.5,-0.1M327.5,354.6l-1.8,1.5M405.4,93.7l3.5,3.3M184.8,361.5l-2.0,-1.2M119.4,227.8l0.9,-3.5M119.6,155.9l1.2,-1.4M177.3,263.2l-0.1,-2.1M235.5,148.2l3.6,-0.3M210.1,206.8l2.5,-1.6M191.7,310.2l-3.1,-3.5M334.3,430.0l-1.8,0.9M186.4,428.3l-3.2,-1.2M69.0,195.2l1.1,-3.0M195.1,409.7l-2.6,-0.9M407.1,313.7l-1.0,3.0M204.0,302.4l-3.0,-3.1M119.0,332.7l-0.8,-1.4M81.3,376.1l-1.1,-1.7M92.6,420.9l-2.2,-2.1M339.1,396.0l-2.3,1.6M73.3,95.0l1.3,-1.4M324.3,310.3l-1.0,1.6M194.1,441.1l-2.9,-0.8M323.3,139.7l1.8,1.1M190.5,350.4l-1.4,-0.9M401.6,284.3l-0.3,2.0M289.4,192.6l2.4,1.5M242.0,177.2l4.7,-0.2M273.7,414.2l-3.5,0.6M408.5,106.7l2.9,3.1M162.6,116.6l3.9,-2.3M95.5,259.2l0.1,-4.0M412.2,448.2l-2.2,2.0M209.3,430.3l-3.1,-0.7M339.5,128.3l3.2,2.2M429.1,276.9l-0.3,4.1M393.5,86.9l2.4,2.0M128.4,125.2l3.3,-2.8M128.6,261.6l-0.0,-2.7M407.3,251.7l0.3,4.2M422.7,363.2l-1.9,3.2M360.7,329.7l-2.1,3.5M119.1,330.5l-1.6,-3.0M121.8,125.4l2.3,-2.1M279.7,134.8l4.4,1.2M418.4,442.1l-1.4,1.4M421.1,218.4l0.8,3.3M69.7,150.7l1.0,-1.6M194.7,430.0l-3.6,-1.1M83.1,77.7l2.6,-2.3M326.1,74.7l1.5,0.7M421.9,191.4l1.3,3.2M252.1,195.3l4.9,0.4M100.4,353.8l-1.3,-2.1M431.1,307.7l-0.9,3.7M154.5,127.1l1.7,-1.2M279.4,374.3l-2.0,0.6M274.1,284.2l-1.9,2.3M64.7,95.8l2.0,-2.2M342.4,164.7l3.1,3.1M93.7,253.0l0.2,-2.9M126.8,100.1l1.4,-1.1M92.3,317.3l-1.0,-2.8M250.8,425.2l-2.4,0.1M219.6,136.2l1.6,-0.3M80.9,264.1l-0.0,-2.7M337.1,342.8l-2.2,2.4M309.8,236.5l1.4,3.5M397.0,75.3l1.8,1.4M184.4,173.8l3.1,-2.2M209.1,332.2l-2.7,-1.4M96.4,262.4l-0.0,-3.2M309.8,259.9l0.1,4.3M408.7,379.4l-1.9,2.6M358.9,116.3l2.1,1.6M414.0,286.2l-0.3,2.2M239.9,200.5l2.8,-0.3M279.2,157.5l2.4,0.7M247.7,231.0l3.8,0.2M250.3,214.7l2.5,0.2M138.7,243.5l0.5,-2.7M193.6,357.0l-3.6,-2.0M296.9,334.1l-2.0,1.4M194.0,86.1l4.7,-1.4M310.0,436.4l-4.1,1.5M241.6,212.5l2.4,-0.2M219.0,146.1l4.1,-1.0M103.7,412.5l-2.2,-2.1M281.9,169.7l1.5,0.6M183.7,328.8l-2.7,-2.5M66.6,326.9l-1.2,-3.4M134.0,394.8l-3.6,-3.0M278.5,289.5l-1.7,2.0M180.8,315.6l-2.3,-2.8M104.8,153.8l1.6,-2.1M149.0,395.2l-1.9,-1.4M350.3,389.8l-2.7,2.2M223.9,446.4l-1.8,-0.2M138.6,74.8l1.6,-0.9M197.2,236.2l1.5,-2.9M321.9,267.5l-0.4,4.9M137.5,403.1l-2.2,-1.7M289.3,285.3l-1.2,2.2M185.8,230.5l2.2,-4.3M312.0,260.4l0.1,3.2M123.8,316.0l-1.6,-3.6M300.4,125.1l3.4,1.3M249.8,191.7l3.4,0.2M240.0,305.2l-2.0,-0.3M271.2,356.4l-2.7,0.7M422.2,382.3l-2.1,3.1M331.7,174.3l3.2,3.1M223.8,385.3l-3.8,-0.7M382.0,150.1l2.9,3.6M68.8,200.2l0.6,-1.6M292.7,119.3l2.0,0.6M429.7,239.1l0.5,4.3M406.0,378.0l-2.4,3.3M381.8,127.8l2.8,2.8M164.3,353.3l-3.3,-2.9M319.3,222.5l1.1,2.0M416.3,212.1l0.9,3.2M305.4,226.3l1.7,2.9M94.3,177.5l1.8,-3.3M200.1,291.0l-1.2,-1.9M265.8,299.6l-3.3,1.7M415.8,144.9l1.0,1.5M204.3,129.8l2.0,-0.6M130.1,252.1l0.3,-3.4M133.6,88.4l3.5,-2.3M260.4,155.6l4.2,0.6M96.9,388.6l-2.9,-3.5M152.0,105.5l2.0,-1.2M242.3,167.9l2.5,-0.1M198.1,369.7l-3.7,-1.6M142.7,77.1l2.3,-1.3M320.1,366.6l-4.1,2.9M370.1,252.5l0.2,2.1M392.8,226.9l0.9,3.7M231.8,289.6l-2.1,-1.1M374.7,250.2l0.2,2.0M305.0,320.7l-1.1,1.1M180.7,298.0l-1.3,-2.3M310.0,181.6l3.3,2.7M197.1,141.4l2.7,-1.1M214.4,119.9l3.2,-0.7M421.2,217.7l0.7,2.9M206.2,357.2l-2.3,-1.0M74.8,242.4l0.5,-4.5M224.0,360.1l-2.4,-0.5M148.2,284.3l-0.7,-2.9M225.4,417.4l-2.5,-0.3M325.0,97.7l4.3,2.1M171.9,342.4l-1.2,-1.1M106.4,251.5l0.1,-1.6M142.3,104.6l1.5,-1.0M252.9,125.4l4.4,0.2M153.3,164.4l3.2,-3.1M337.0,110.6l4.1,2.5M282.8,397.7l-1.8,0.5M318.7,294.4l-1.7,3.7M245.1,144.0l3.0,-0.0M91.0,374.4l-1.9,-2.6M199.0,228.6l2.6,-3.8M155.3,379.4l-2.9,-2.2M432.6,316.9l-1.2,4.2M88.8,397.7l-1.4,-1.6M94.9,321.7l-0.7,-1.7M302.2,331.7l-1.3,1.0M418.6,220.6l0.7,2.9M319.7,351.7l-2.9,2.4M420.3,365.5l-2.6,4.3M410.5,386.5l-2.8,3.6M353.9,252.2l0.2,2.6M122.8,132.4l2.5,-2.4M172.3,174.3l2.2,-1.9M199.5,74.2l4.7,-1.2M277.0,263.0l-0.1,2.4M116.8,276.4l-0.3,-2.4M271.2,196.3l4.4,1.7M225.8,247.2l2.4,-3.4M100.1,306.4l-1.3,-4.1M315.0,408.7l-1.8,0.8M225.9,371.4l-3.6,-0.7M422.9,139.4l1.0,1.5M213.9,392.7l-4.1,-1.0M148.1,188.3l1.9,-2.6M432.2,150.0l1.4,2.3M320.3,436.3l-4.1,1.7M276.4,78.7l2.8,0.5M291.5,98.6l3.3,0.9M358.7,298.3l-0.6,1.8M385.2,444.0l-3.3,2.5M368.4,409.7l-1.8,1.5M183.3,277.6l-1.2,-4.6M401.1,286.3l-0.8,4.9M292.4,253.3l0.7,3.7M323.0,429.1l-1.4,0.6M387.2,96.4l3.2,2.8M301.7,374.1l-2.1,1.0M415.4,166.7l1.6,2.9M188.6,375.3l-1.9,-1.0M348.9,424.8l-1.3,0.8M207.7,279.4l-2.0,-4.3M182.4,132.4l1.8,-0.9M140.2,426.3l-3.6,-2.3M59.4,399.3l-2.6,-3.5M271.3,177.4l2.3,0.7M109.7,396.3l-3.2,-3.3M346.0,188.9l1.1,1.5M348.0,249.0l0.5,4.3M98.9,204.9l1.6,-4.3M212.2,242.6l0.8,-1.4M258.1,336.3l-1.9,0.3M168.7,179.8l3.0,-2.8M227.4,286.6l-3.6,-2.7M117.6,236.2l1.0,-4.9M202.2,388.8l-4.4,-1.5M306.2,189.4l2.5,2.1M405.9,253.3l0.3,4.9M403.9,314.1l-1.4,4.3M332.7,107.4l4.3,2.4M413.0,311.5l-0.8,2.7M84.8,268.6l-0.2,-3.5M426.9,229.1l0.5,2.7M123.3,426.2l-2.9,-2.1M218.5,167.8l2.5,-0.7M226.1,441.2l-3.4,-0.4M392.0,162.6l2.4,3.5M260.3,273.8l-1.1,1.2M366.1,187.2l0.9,1.5M304.0,158.1l1.4,0.8M71.8,350.3l-1.7,-3.3M225.9,161.3l2.1,-0.4M364.5,244.0l0.6,4.0M361.2,297.4l-1.1,3.6M258.4,313.5l-1.8,0.4M145.4,390.2l-1.2,-1.0M384.3,367.5l-2.4,3.2M428.1,216.0l1.2,4.8M387.5,85.2l2.7,2.1M265.1,357.4l-3.2,0.6M347.8,155.8l2.3,2.2M225.0,348.8l-3.7,-0.9M259.4,298.2l-3.8,1.4M175.4,202.6l1.2,-1.4M102.7,355.7l-1.1,-1.7M63.9,197.8l0.9,-2.5M174.7,79.1l4.3,-1.7M138.4,117.8l2.2,-1.7M126.3,167.8l2.2,-2.8M187.6,418.2l-4.0,-1.5M71.6,336.7l-0.9,-2.1M129.3,340.6l-0.9,-1.4M103.1,129.8l2.3,-2.5M106.4,155.5l2.5,-3.3M187.8,436.4l-4.4,-1.5M348.9,355.0l-2.4,2.7M235.6,378.6l-2.5,-0.2M285.9,79.9l4.6,1.0M281.8,379.5l-2.4,0.7M404.8,175.4l0.8,1.4M431.6,351.4l-1.0,2.0M395.2,323.3l-1.4,3.3M213.8,428.9l-1.5,-0.3M243.6,258.2l1.6,-1.3M359.4,123.3l3.5,2.9M272.4,407.8l-3.2,0.6M429.3,154.7l0.8,1.3M176.3,120.5l2.7,-1.3M425.2,118.4l1.4,1.7M273.4,122.4l2.9,0.6M220.9,284.4l-1.9,-2.1M218.9,213.3l4.3,-2.4M65.3,344.6l-1.2,-2.6M280.6,211.6l1.9,1.3M386.2,426.1l-1.9,1.6M382.4,395.7l-1.3,1.4M428.0,342.2l-1.3,2.8M289.9,111.4l3.4,1.0M152.5,422.3l-3.5,-2.0M144.7,202.5l1.8,-3.0M182.8,428.2l-4.5,-1.7M298.0,202.5l1.2,1.1M396.3,267.2l-0.1,2.4M162.2,367.4l-1.6,-1.3M223.3,414.6l-2.1,-0.3M108.3,154.1l1.6,-2.1M343.5,225.4l1.1,3.0M193.7,336.0l-2.5,-1.8M262.5,74.9l4.0,0.3M265.0,196.6l2.3,0.7M320.4,405.8l-3.4,1.7M75.7,135.6l1.4,-1.9M366.9,293.7l-0.8,2.9M426.7,356.5l-1.3,2.4M426.7,170.0l2.0,4.0M303.6,207.7l3.2,3.4M299.8,329.7l-2.0,1.5M250.2,141.4l4.6,0.2M124.2,164.7l2.1,-2.6M266.3,346.6l-4.5,1.1M74.7,385.6l-0.9,-1.3M112.6,299.8l-1.2,-4.1M169.2,393.2l-3.4,-2.0M316.1,371.8l-2.5,1.6M305.8,193.7l1.5,1.3M209.7,121.6l2.8,-0.7M265.8,225.4l3.8,2.0M345.6,274.9l-0.6,4.2M179.6,226.8l1.6,-3.0M231.5,378.5l-2.7,-0.3M251.2,353.6l-4.6,0.2M358.9,188.4l1.0,1.5M420.1,88.7l3.1,3.1M266.5,276.3l-1.7,2.4M92.7,418.9l-1.3,-1.3M407.5,93.4l1.1,1.1M326.4,257.5l0.2,4.5M185.5,341.7l-3.5,-2.6M431.3,317.2l-0.5,1.6M87.6,287.7l-0.4,-2.6M368.3,102.2l1.5,1.2M418.0,157.1l1.2,1.9M161.5,95.2l3.0,-1.5M311.3,284.4l-1.2,3.4M334.2,332.4l-2.5,3.1M232.7,181.2l1.6,-0.3M378.7,380.0l-2.1,2.4M160.5,350.6l-3.6,-3.4M61.3,206.5l0.8,-2.6M279.8,383.6l-1.7,0.5M333.5,442.9l-4.3,2.1M153.9,83.6l4.3,-2.2M65.9,230.1l0.8,-4.7M303.4,109.6l4.4,1.7M319.9,204.6l1.2,1.6M422.2,421.4l-2.3,2.5M133.6,396.1l-1.2,-1.0M274.3,128.9l4.6,1.0M128.3,228.3l1.0,-3.4M60.1,108.6l2.5,-3.1M124.3,75.9l3.5,-2.3M195.5,80.9l2.9,-0.8M279.2,441.7l-2.2,0.4M319.1,114.4l2.0,1.0M428.3,195.6l0.9,2.5M119.8,224.9l1.1,-3.8M287.2,232.7l1.2,1.8M264.9,410.2l-4.9,0.6M151.8,332.9l-3.0,-4.0M135.2,203.6l2.3,-4.4M407.2,325.1l-0.6,1.4M72.7,235.9l0.2,-1.6M295.9,149.9l4.1,1.8M418.5,208.2l1.1,3.5M157.5,366.4l-1.2,-1.0M179.1,404.8l-2.9,-1.4M171.0,302.6l-2.1,-3.8M350.8,220.5l1.2,3.1M334.5,336.6l-1.3,1.5M370.2,326.4l-1.7,3.3M159.0,419.3l-2.9,-1.6M397.1,379.5l-0.9,1.2M355.5,119.3l1.2,0.9M374.5,385.0l-2.3,2.4M379.9,119.1l1.9,1.8M419.8,104.8l2.8,3.1M180.6,202.1l3.3,-3.7M221.9,122.0l4.9,-0.9M321.9,269.0l-0.4,4.2M174.8,392.1l-3.6,-2.0M211.8,286.6l-1.0,-1.4M368.3,306.2l-0.8,2.2M295.8,423.8l-2.0,0.6M249.7,96.2l2.6,0.1M278.1,368.5l-2.7,0.8M426.2,371.2l-1.0,1.7M142.2,320.8l-1.0,-1.7M244.1,76.3l2.4,-0.0M135.9,74.9l2.1,-1.2M180.4,229.4l1.2,-2.5M66.2,388.0l-2.3,-3.3M60.1,161.5l2.2,-4.1M135.9,381.5l-3.4,-3.1M246.6,284.5l-1.9,0.0M156.4,289.3l-1.1,-3.7M202.0,111.6l4.1,-1.2M255.5,394.1l-4.1,0.3M259.2,137.5l2.3,0.2M91.9,156.1l2.0,-2.9M89.1,363.8l-1.3,-2.0M257.4,201.5l4.7,0.9M418.3,438.0l-3.0,2.9M141.8,340.1l-1.9,-2.6M358.6,173.0l2.4,3.0M411.2,241.6l0.3,2.7M235.1,273.7l-1.9,-1.7M240.3,100.5l2.1,-0.1M189.4,261.5l-0.0,-3.4M243.7,372.5l-1.5,-0.0M136.2,212.3l1.2,-2.6M299.4,297.0l-2.4,3.7M72.5,433.1l-2.4,-2.4M165.2,418.3l-2.5,-1.3M393.8,157.5l1.4,2.0M356.0,118.0l3.7,2.8M363.9,250.9l0.4,4.6M155.5,130.5l2.7,-1.8M115.5,254.1l0.2,-3.1M157.7,419.7l-3.5,-2.0M287.3,396.8l-4.6,1.4M77.9,400.9l-1.3,-1.6M110.3,266.1l-0.1,-3.5M235.0,126.8l4.0,-0.3M427.8,99.8l1.9,2.1M155.1,352.9l-3.3,-3.3M248.6,436.8l-4.6,0.1M128.7,178.8l2.8,-4.0M287.8,109.6l4.0,1.1M405.6,157.8l2.5,3.8M76.9,106.3l1.2,-1.3M423.0,207.0l1.2,3.8M252.2,276.3l-1.7,0.7M104.1,113.8l1.2,-1.2M105.6,371.0l-2.6,-3.3M431.9,298.6l-0.4,1.9M62.8,77.7l3.5,-3.5M394.8,284.8l-0.6,3.6M286.2,304.2l-3.1,2.9M101.7,157.5l2.2,-3.1M99.0,168.1l2.3,-3.6M192.7,435.4l-3.4,-1.0M270.8,394.8l-2.7,0.5M275.2,444.2l-3.7,0.6M66.6,264.4l-0.0,-2.6M366.3,249.2l0.4,3.7M154.9,265.3l-0.1,-3.4M345.5,261.3l0.0,2.7M372.4,412.3l-3.7,3.1M278.2,112.7l2.2,0.5M266.6,418.4l-3.1,0.4M164.3,248.1l0.8,-4.7M91.7,85.5l3.0,-2.6M303.3,261.7l-0.0,1.6M371.9,299.7l-0.5,1.6M91.8,247.8l0.4,-4.3M112.9,398.6l-2.8,-2.8M387.1,113.4l2.5,2.4M183.3,130.0l2.8,-1.3M243.3,104.5l4.0,-0.1M427.5,276.2l-0.4,4.6M181.3,322.4l-2.7,-2.9M162.2,231.6l1.3,-3.8M118.1,255.5l0.2,-3.8M239.6,323.3l-3.3,-0.4M271.8,265.7l-0.6,3.9M202.8,281.1l-0.6,-1.4M302.8,300.9l-2.3,3.4M154.3,228.0l0.9,-2.6M386.9,331.1l-1.4,2.9M259.2,260.5l0.2,2.4M422.4,177.7l1.4,3.0M78.7,390.9l-2.7,-3.6M415.2,316.3l-0.9,2.7M195.3,251.3l1.0,-4.8M355.1,429.3l-3.4,2.2M351.7,183.0l3.0,4.0M193.3,219.6l2.8,-3.5M162.9,271.0l-0.4,-3.2M113.8,264.0l-0.1,-4.3M75.9,317.6l-0.6,-1.9M216.9,357.3l-2.9,-0.9M130.3,123.7l2.6,-2.2M329.2,88.8l3.5,1.7M406.3,186.5l1.3,2.7M258.8,179.4l3.8,0.6M324.2,183.3l2.2,2.2M328.1,318.7l-1.7,2.5M101.0,129.0l1.4,-1.6M306.9,201.8l3.3,3.3M219.5,301.9l-3.2,-2.1M93.3,210.7l1.5,-4.6M198.7,213.5l2.3,-2.3M137.6,122.2l3.1,-2.4M386.2,304.9l-1.1,3.5M218.1,128.7l3.3,-0.7M137.3,316.9l-1.6,-3.1M145.9,311.7l-0.7,-1.4M324.3,260.3l0.0,1.9M411.2,220.7l0.8,3.3M248.3,90.2l4.6,0.1M373.9,215.9l1.2,3.4M134.0,86.5l3.4,-2.2M270.6,80.4l1.6,0.2M254.5,78.9l4.8,0.2M380.3,89.7l3.5,2.7M140.2,226.3l0.6,-1.7M290.3,340.9l-4.2,2.3M313.2,388.9l-3.8,2.0M207.0,372.3l-3.6,-1.3M386.2,85.9l1.2,1.0M249.1,276.4l-3.1,0.6M344.0,277.6l-0.4,2.7M127.7,354.9l-2.7,-3.4M380.4,144.0l1.8,2.0M205.8,231.4l1.4,-1.8M323.5,209.7l2.1,3.2M63.4,434.9l-1.7,-1.8M418.1,151.5l0.9,1.5M116.3,393.2l-2.4,-2.3M160.7,265.7l-0.1,-2.1M397.8,240.7l0.3,2.3M101.2,269.0l-0.2,-3.8M399.6,301.7l-0.5,2.1M322.5,377.9l-1.4,0.9M164.9,249.3l0.7,-4.5M122.1,388.4l-1.5,-1.4M73.0,432.2l-1.5,-1.6M344.4,134.5l3.3,2.5M105.4,208.1l0.6,-1.7M270.6,271.6l-0.8,1.9M141.4,147.5l2.7,-2.5M346.5,288.9l-1.2,4.2M376.3,264.4l-0.1,3.7M319.7,226.3l1.7,3.6M111.5,186.8l2.0,-3.6M295.6,278.5l-1.3,3.8M237.6,252.8l2.9,-2.9M250.1,171.3l3.6,0.2M136.2,160.9l3.1,-3.4M388.6,349.8l-1.3,2.1M62.3,423.8l-2.5,-2.8M253.3,259.7l1.0,3.7M389.3,100.4l3.3,2.9M359.8,446.9l-4.1,2.5M334.2,325.4l-1.7,2.3M375.9,335.5l-1.9,3.4M273.6,323.9l-1.4,0.6M422.2,151.1l1.7,2.7M198.2,242.9l1.7,-4.5M314.0,115.4l1.4,0.6M313.0,145.9l3.5,2.0M276.5,333.0l-2.5,1.0M180.8,351.5l-2.8,-2.0M149.2,252.1l0.1,-1.5M227.5,124.2l4.6,-0.6M339.6,372.0l-2.0,1.7M156.2,432.3l-2.3,-1.2M127.2,445.4l-3.4,-2.2M349.8,326.4l-0.9,1.5M159.7,302.0l-1.2,-2.6M260.4,294.6l-4.2,1.8M382.6,440.9l-4.0,3.0M83.9,167.6l1.6,-2.8M154.0,251.3l0.4,-3.9M105.1,197.9l0.7,-1.7M97.6,373.9l-2.8,-3.7M360.3,390.3l-2.8,2.5M141.9,417.2l-3.4,-2.3M310.8,160.8l2.7,1.7M81.8,406.3l-2.8,-3.2M280.1,258.6l0.4,4.1M163.0,267.6l-0.2,-2.2M254.0,400.4l-4.0,0.2M249.4,292.8l-3.5,0.3M249.8,332.1l-4.6,0.2M352.7,329.0l-1.0,1.6M176.4,206.8l2.0,-2.5M199.6,403.0l-4.1,-1.4M113.1,376.4l-1.9,-2.2M346.0,139.9l2.2,1.8M134.1,201.6l1.0,-1.9M108.4,318.9l-1.1,-2.7M341.4,403.4l-2.1,1.4M264.4,93.3l2.5,0.3M426.3,128.3l2.1,2.9M126.3,164.5l1.0,-1.3M354.7,181.2l2.9,3.9M111.6,217.0l1.4,-4.1M354.4,278.0l-0.6,4.2M74.8,111.1l2.7,-3.0M345.0,148.6l1.9,1.6M328.2,330.4l-1.4,1.7M242.5,86.3l3.4,-0.1M184.5,221.8l1.2,-1.9M303.6,203.7l1.3,1.3M276.5,298.0l-1.7,1.4M323.1,346.4l-2.8,2.6M102.8,408.7l-3.4,-3.3M137.2,128.5l1.8,-1.4M218.9,320.6l-1.4,-0.6M67.5,123.6l2.6,-3.4M171.2,271.2l-0.4,-3.3M100.4,327.7l-1.2,-2.7M238.2,213.7l4.9,-0.8M350.2,116.0l2.8,2.0M425.0,339.1l-1.4,3.3M222.5,271.5l-1.1,-2.6M92.7,231.8l0.9,-4.9M65.0,146.2l1.1,-1.8M335.4,81.8l4.1,2.0M411.4,242.0l0.5,4.5M351.4,317.1l-2.0,3.7M126.1,286.9l-1.0,-4.8M366.0,434.3l-3.2,2.2M215.7,249.3l0.7,-1.8M163.8,139.1l3.9,-2.6M325.4,242.2l0.6,2.3M319.3,279.8l-0.5,1.9M82.4,141.7l2.9,-4.0M64.1,342.1l-1.4,-3.2M216.8,78.2l2.7,-0.4M362.6,371.9l-2.2,2.3M374.9,118.1l1.7,1.5M253.4,136.9l4.6,0.3M131.1,253.0l0.4,-5.0M360.8,93.0l2.6,1.8M104.7,165.2l2.3,-3.4M281.8,268.4l-0.8,4.1M176.9,324.7l-3.2,-3.6M241.1,126.3l4.1,-0.2M373.2,325.1l-2.2,4.3M282.1,439.4l-4.2,0.9M338.3,297.5l-0.8,2.1M337.3,243.3l0.4,1.9M339.2,380.4l-2.4,1.9M170.6,340.7l-1.6,-1.6M111.5,415.9l-2.3,-2.0M200.5,272.2l-0.8,-3.3M207.5,395.6l-1.5,-0.4M65.9,281.9l-0.4,-3.3M390.7,100.0l2.8,2.5M187.1,301.3l-2.3,-3.4M314.3,412.8l-2.5,1.1M240.2,388.5l-2.4,-0.1M247.4,347.9l-2.9,0.0M278.9,246.1l0.7,1.4M185.3,317.6l-1.4,-1.6M160.4,285.8l-1.1,-3.8M240.2,358.7l-4.8,-0.3M377.3,160.2l2.3,3.0M367.9,241.3l0.5,3.0M79.4,175.4l2.2,-4.2M427.0,122.4l1.4,1.8M85.7,83.8l1.4,-1.3M344.5,99.2l3.1,1.9M334.9,372.0l-2.0,1.6M333.5,448.4l-3.3,1.6M182.2,378.5l-4.3,-2.3M141.8,447.7l-2.6,-1.5M175.4,345.8l-3.8,-3.2M403.2,431.5l-2.5,2.3M61.6,271.6l-0.1,-2.7M430.9,189.3l1.7,4.4M237.9,284.8l-4.1,-1.5M71.6,278.5l-0.5,-4.7M328.2,356.4l-2.3,1.9M379.1,403.0l-2.9,2.8M246.0,266.9l-2.8,-0.1M399.2,140.5l2.6,3.3M282.7,285.1l-2.2,3.4M312.9,212.6l2.5,3.4M299.9,447.7l-2.4,0.7M392.5,218.7l1.4,4.8M331.2,385.9l-2.3,1.6M81.7,445.0l-3.2,-2.8M202.0,261.2l0.0,-2.3M128.4,75.4l2.3,-1.5M128.1,277.2l-0.3,-2.6M199.6,85.9l4.3,-1.1M62.3,437.2l-2.5,-2.6M398.8,409.8l-2.5,2.6M108.4,390.7l-1.8,-1.9M73.0,114.0l1.6,-1.9M411.0,138.5l1.5,2.0M298.7,206.7l2.8,2.7M75.4,291.4l-0.7,-4.0M317.6,134.2l2.6,1.4M341.1,313.0l-1.7,3.1M188.0,236.4l1.2,-2.7M191.9,370.1l-1.9,-1.0M165.4,290.8l-1.4,-4.0M141.8,160.5l1.8,-1.8M393.3,401.8l-2.9,3.1M157.4,168.1l2.6,-2.5M409.9,344.2l-1.5,2.9M88.0,281.9l-0.5,-4.2M213.1,442.4l-4.5,-0.8M323.1,381.0l-2.0,1.3M226.8,133.6l4.4,-0.7M141.2,84.6l1.7,-1.0M261.3,244.8l2.3,2.1M256.8,169.1l1.8,0.2M115.5,224.3l0.6,-2.0M120.3,349.6l-2.6,-3.7M342.3,255.1l0.3,4.6M222.4,265.9l-0.8,-4.4M154.6,85.8l2.0,-1.0M317.8,236.7l0.6,1.8M160.2,91.8l4.1,-2.1M131.5,109.7l1.4,-1.0M333.9,234.6l0.6,2.0M286.4,397.0l-4.4,1.3M105.8,428.8l-2.9,-2.5M172.8,408.5l-3.6,-1.8M413.3,405.4l-2.7,3.1M75.4,156.7l2.0,-3.2M373.9,354.3l-1.8,2.5M428.1,421.2l-2.4,2.7M132.5,356.6l-2.5,-3.0M196.0,136.5l2.9,-1.2M236.7,111.1l4.0,-0.3M150.3,199.3l2.5,-3.8M238.0,266.5l-1.6,-2.6M98.8,389.8l-2.0,-2.3M343.5,147.9l2.0,1.7M178.0,269.4l-0.5,-4.1M376.5,448.3l-2.9,2.0M79.3,94.8l3.5,-3.5M266.9,297.6l-1.7,1.0M126.7,247.0l0.6,-4.7M189.7,304.9l-3.0,-4.0M150.6,332.6l-2.6,-3.5M397.2,191.6l2.0,4.4M423.3,405.6l-2.7,3.3M230.6,294.2l-3.9,-1.9M395.6,155.3l1.9,2.7M123.0,183.1l0.9,-1.4M291.3,222.4l2.8,3.2M314.9,106.0l2.4,1.1M118.9,392.7l-1.4,-1.4M344.6,178.2l1.7,2.0M281.1,226.6l2.0,2.0M91.6,81.0l3.6,-3.1M363.9,225.8l0.7,2.2M219.5,298.9l-1.4,-1.0M166.6,404.4l-3.6,-2.0M210.1,230.2l2.6,-3.0M192.0,262.9l-0.1,-2.3M339.0,263.2l-0.0,1.7M272.6,160.9l2.8,0.7M195.5,142.6l4.2,-1.8M398.4,109.6l2.4,2.4M212.4,308.7l-3.7,-2.7M81.5,148.9l2.6,-3.8M271.7,416.5l-2.0,0.3M325.8,416.3l-2.6,1.3M361.8,170.1l2.5,3.1M231.2,404.6l-4.3,-0.5M427.1,74.9l2.1,2.0M79.2,400.6l-1.3,-1.6M160.5,217.2l1.4,-2.8M123.1,324.2l-1.7,-3.3M423.4,113.9l1.5,1.8M195.5,257.9l0.3,-4.6M274.0,308.1l-2.1,1.2M225.6,406.6l-4.2,-0.6M84.8,208.2l1.4,-4.1M157.2,272.8l-0.3,-2.7M433.0,199.5l1.0,3.0M383.7,211.7l1.3,3.6M262.1,175.1l4.6,0.8M415.8,286.5l-0.4,2.7M407.6,334.1l-1.8,4.0M301.8,188.0l3.3,2.5M398.2,325.7l-1.2,2.8M76.1,407.4l-2.9,-3.3M233.5,375.4l-1.6,-0.2M395.1,228.0l0.4,1.9M371.9,249.7l0.3,3.0M97.6,74.2l3.6,-2.9M179.5,251.5l0.5,-3.5M300.8,313.7l-3.4,3.6M169.8,112.5l2.2,-1.1M363.8,372.6l-1.1,1.2M377.8,311.1l-1.3,3.4M367.1,274.1l-0.3,2.7M108.1,263.5l-0.1,-3.9M182.8,80.4l3.7,-1.3M284.2,270.6l-0.9,3.9M423.7,354.5l-2.1,4.0M212.1,429.3l-3.0,-0.6M326.8,130.8l3.9,2.4M391.4,128.4l1.3,1.4M335.1,331.3l-1.2,1.5M277.3,104.5l3.9,0.8M308.3,311.2l-2.1,2.6M344.2,410.1l-4.1,2.7M117.2,258.8l0.1,-3.2M353.4,167.8l3.2,3.7M161.6,227.4l1.2,-2.9M367.3,426.8l-3.8,2.8M68.6,239.1l0.5,-4.1M418.8,444.3l-2.8,2.7M300.8,115.3l2.8,1.1M170.2,242.3l1.2,-4.8M273.6,335.4l-2.7,1.0M255.5,254.1l2.5,3.1M249.3,436.6l-4.5,0.1M187.7,236.7l1.6,-3.9M328.7,445.7l-3.8,1.7M336.9,259.3l0.1,3.5M409.3,444.2l-2.6,2.3M97.6,286.1l-0.8,-4.7M349.1,169.5l2.7,3.0M255.1,165.6l2.6,0.2M336.5,140.8l1.4,1.0M301.4,162.7l3.3,1.9M139.4,348.6l-2.3,-2.8M318.5,359.1l-3.1,2.3M431.1,203.2l0.7,2.1M155.9,253.4l0.2,-2.2M197.6,276.9l-0.6,-1.9M263.3,212.5l3.8,1.3M128.0,374.1l-2.9,-3.0M197.9,285.0l-1.2,-2.5M120.1,359.9l-1.9,-2.4M386.0,131.8l1.6,1.7M322.1,385.7l-2.5,1.6M94.2,172.4l2.3,-3.9M396.4,386.6l-3.0,3.6M217.3,386.6l-2.5,-0.6M66.7,274.0l-0.2,-3.4M385.7,231.6l0.4,1.9M169.6,113.4l3.5,-1.8M190.7,293.5l-1.1,-2.0M276.4,188.4l3.3,1.4M75.3,118.5l1.9,-2.3M407.2,295.8l-0.9,4.3M198.3,81.0l2.9,-0.8M130.6,393.4l-2.6,-2.3M284.5,420.3l-2.1,0.5M260.2,205.8l2.8,0.7M389.4,181.0l1.9,3.4M165.4,416.0l-2.1,-1.1M131.1,336.8l-2.1,-3.3M103.1,297.3l-0.7,-2.6M384.0,106.8l1.7,1.5M370.9,189.9l2.4,4.2M139.0,220.8l1.5,-3.9M402.7,236.6l0.5,3.0M359.7,287.9l-0.6,2.5M163.9,425.3l-2.7,-1.4M399.3,381.3l-2.4,3.1M99.1,142.6l1.5,-1.9M197.0,75.2l1.5,-0.4M70.1,283.0l-0.2,-1.6M122.0,158.9l2.0,-2.4M430.1,200.0l0.5,1.4M387.4,109.9l2.4,2.3M332.5,329.1l-2.4,3.0M327.2,205.9l1.3,1.9M266.2,137.8l2.5,0.4M198.3,230.2l2.7,-4.1M254.7,266.1l-1.3,2.4M138.8,107.5l2.0,-1.4M313.5,119.3l3.1,1.5M338.6,213.0l1.1,2.0M352.0,439.4l-2.2,1.3M278.9,223.8l1.3,1.1M140.4,305.1l-0.6,-1.6M365.3,74.9l2.1,1.3M287.4,349.9l-3.5,1.6M257.2,293.6l-3.6,1.2M266.5,188.1l2.0,0.6M218.7,236.1l1.6,-1.8M132.1,167.3l1.0,-1.3M323.4,241.1l0.6,2.3M301.0,360.7l-2.5,1.4M162.8,339.2l-2.9,-3.1M391.3,220.1l0.4,1.5M392.3,338.6l-0.8,1.6M257.9,173.0l1.6,0.2M308.1,95.4l2.4,0.9M358.8,429.5l-2.4,1.6M165.4,208.8l2.1,-3.3M316.3,239.5l1.0,3.2M408.1,366.1l-1.2,1.8M371.3,376.4l-1.6,1.7M308.7,241.7l1.1,3.3M228.4,365.7l-4.0,-0.7M278.6,107.4l4.0,0.8M319.3,248.0l0.7,3.5M420.5,331.3l-1.2,3.0M219.2,221.9l1.4,-0.9M277.9,436.6l-3.3,0.6M116.1,144.8l3.1,-3.4M359.3,154.5l2.2,2.3M359.4,297.9l-0.9,2.7M138.1,152.9l2.8,-2.8M230.8,223.3l2.1,-0.9M235.9,314.2l-1.8,-0.4M352.2,225.7l0.9,2.7M138.3,307.1l-1.7,-4.0M424.6,416.8l-1.8,2.1M240.5,237.9l3.4,-0.8M235.2,184.4l2.1,-0.3M216.9,442.1l-2.2,-0.4M271.9,334.7l-2.7,0.9M163.5,285.7l-0.9,-3.0M79.1,106.8l3.1,-3.3M227.7,438.5l-4.2,-0.4M323.4,218.6l1.5,2.7M144.0,187.5l1.4,-2.0M70.7,215.6l1.0,-3.8M91.9,261.3l0.0,-3.0M297.4,369.3l-2.1,1.0M347.7,272.2l-0.2,1.6M412.4,177.5l1.1,2.2M111.6,90.1l3.5,-2.8M79.5,106.1l1.2,-1.3M275.8,320.2l-2.2,1.1M59.1,420.0l-1.4,-1.7M350.8,390.7l-3.8,3.1M264.8,205.8l2.4,0.8M423.4,94.9l2.8,3.0M282.8,173.6l3.7,1.5M175.1,242.0l0.4,-1.5M221.4,293.8l-2.9,-2.2M313.8,122.0l2.6,1.3M74.2,361.2l-0.9,-1.6M82.7,215.9l0.6,-2.2M206.7,419.3l-2.2,-0.6M402.5,344.4l-1.4,2.7M333.9,129.7l3.4,2.2M168.3,374.4l-2.9,-2.0M430.7,77.1l2.6,2.7M108.5,411.5l-2.4,-2.2M127.5,257.1l0.2,-4.2M426.1,274.4l-0.3,4.7M334.9,298.9l-1.8,4.2M232.4,378.8l-2.4,-0.3M376.0,317.2l-1.3,3.0M345.0,229.6l0.7,2.2M59.4,202.3l0.6,-1.9M220.1,138.9l1.8,-0.4M189.8,261.9l-0.0,-1.9M279.9,122.5l3.6,0.9M112.2,77.6l2.7,-2.0M163.4,119.2l4.0,-2.3M311.6,376.3l-2.7,1.5M183.8,381.0l-3.5,-1.8M322.6,126.8l2.8,1.6M240.4,319.7l-4.0,-0.4M79.5,242.9l0.5,-4.7M416.5,351.0l-2.0,3.8M100.5,259.6l0.0,-2.5M303.9,311.6l-2.4,2.8M341.9,122.9l1.8,1.3M338.2,168.1l3.3,3.2M67.7,230.3l0.5,-2.8M142.1,444.9l-3.9,-2.2M224.7,392.0l-2.5,-0.4M296.4,281.2l-0.8,2.0M424.9,428.8l-1.1,1.2M132.5,201.5l2.3,-4.3M276.8,177.1l3.9,1.4M312.6,170.6l3.9,2.9M189.8,101.0l3.6,-1.3M334.6,315.3l-1.9,3.1M369.3,420.0l-2.7,2.1M91.2,170.0l2.5,-4.2M69.4,154.1l2.2,-3.7M131.6,100.1l2.9,-2.1M154.9,345.1l-1.7,-1.8M329.8,384.6l-1.6,1.1M361.5,161.7l2.1,2.4M138.5,239.8l0.8,-3.8M307.5,224.1l0.9,1.4M308.3,366.0l-3.8,2.3M258.0,134.6l2.3,0.2M100.6,220.9l0.7,-2.4M130.9,295.2l-0.6,-2.1M141.5,150.6l1.1,-1.0M361.3,398.4l-3.5,2.9M67.8,395.5l-1.7,-2.2M321.4,273.0l-0.4,2.6M102.0,341.0l-2.3,-4.1M142.6,270.8l-0.2,-2.4M246.9,172.9l1.9,0.0M432.3,186.4l1.2,3.0M373.7,306.4l-1.1,3.2M392.6,206.5l0.7,1.8M150.3,109.9l4.2,-2.6M357.8,244.3l0.5,3.3M384.3,448.1l-2.6,1.9M368.4,233.3l0.5,2.2M173.6,170.6l3.3,-2.6M349.2,338.3l-2.2,2.9M246.8,386.4l-4.2,0.0M320.0,399.0l-4.2,2.2M152.2,119.8l2.2,-1.5M419.0,289.6l-0.5,3.2M400.6,165.8l2.2,3.6M160.3,125.4l2.9,-1.8M273.0,342.1l-2.2,0.7M252.0,223.9l3.0,0.5M316.6,313.5l-2.0,2.7M401.3,273.8l-0.2,3.1M105.6,298.7l-0.6,-2.4M172.7,222.6l1.8,-3.3M381.5,132.1l3.1,3.2M417.2,351.8l-2.3,4.3M222.1,229.1l3.9,-2.9M121.3,138.5l1.8,-1.8M202.4,246.6l0.5,-1.5M303.6,428.7l-4.3,1.5M183.2,123.4l3.8,-1.7M234.3,121.9l3.4,-0.3M224.2,100.8l3.1,-0.4M64.9,93.1l1.9,-2.1M59.3,125.3l2.7,-3.8M407.2,167.1l2.5,4.3M135.1,163.3l1.3,-1.5M148.8,173.9l2.0,-2.2M173.7,224.8l1.4,-2.7M79.1,132.6l1.2,-1.6M182.9,112.5l3.4,-1.4M351.2,241.9l0.4,2.2M318.5,211.9l1.4,2.1M147.7,298.4l-1.7,-4.5M323.8,158.0l1.3,1.0M147.9,437.8l-2.1,-1.2M160.9,447.3l-4.4,-2.0M288.6,401.0l-2.1,0.6M224.8,332.5l-3.8,-1.1M325.0,76.4l1.7,0.7M280.4,364.7l-2.6,0.8M278.3,304.4l-2.4,1.8M188.9,161.1l3.8,-2.2M326.2,279.9l-0.5,2.2M310.1,397.7l-4.3,2.0M156.1,111.2l1.9,-1.1M327.9,417.5l-3.2,1.7M200.0,127.9l2.3,-0.8M295.1,299.6l-1.6,2.1M166.8,329.8l-3.1,-3.6M406.3,367.1l-2.7,4.0M311.0,152.6l1.6,1.0M83.5,77.8l1.3,-1.1M241.7,213.6l2.7,-0.3M95.6,239.8l0.6,-4.4M123.0,237.5l0.4,-2.0M240.4,277.4l-4.2,-1.5M191.9,101.0l3.3,-1.1M92.4,388.6l-1.7,-2.1M304.4,393.1l-1.9,0.8M68.6,234.4l0.3,-2.2M279.5,429.3l-3.1,0.6M320.9,396.1l-4.3,2.4M113.9,369.9l-1.2,-1.5M410.2,235.1l0.6,3.5M202.4,173.4l1.4,-0.7M329.7,373.6l-3.1,2.3M279.1,225.5l2.5,2.3M392.7,182.1l1.5,2.7M415.8,125.1l2.0,2.5M231.6,246.5l1.1,-1.1M246.2,251.7l2.6,-0.0M180.4,204.4l1.2,-1.4M141.4,273.4l-0.4,-4.0M342.1,256.6l0.2,4.7M121.6,260.0l0.0,-1.6M417.0,156.3l1.6,2.5M408.1,264.1l-0.1,4.5M376.4,166.4l2.8,3.9M395.6,192.5l1.9,4.2M315.1,133.2l3.3,1.8M102.3,354.1l-2.0,-3.2M231.2,117.7l5.0,-0.5M273.9,305.8l-2.1,1.3M181.0,87.0l2.1,-0.8M205.2,359.1l-1.8,-0.8M254.9,331.7l-2.6,0.3M148.9,201.7l2.2,-3.5M73.4,438.6l-3.4,-3.3M409.7,142.9l2.3,3.1M168.8,97.8l3.0,-1.4M230.1,393.9l-3.5,-0.4M123.2,248.7l0.3,-3.1M128.7,217.8l1.2,-3.2M179.0,271.6l-0.7,-4.7M188.7,86.9l3.1,-1.0M102.4,251.8l0.2,-3.6M334.3,311.0l-0.8,1.5M255.8,301.0l-3.4,0.8M188.0,343.1l-2.4,-1.7M144.6,309.9l-1.4,-2.9M325.1,362.5l-1.6,1.3M284.7,332.4l-2.3,1.2M267.9,157.4l4.8,1.0M394.4,199.0l0.8,2.0M179.7,446.6l-3.4,-1.2M175.1,115.9l2.9,-1.4M313.3,171.0l3.5,2.6M147.1,84.6l4.2,-2.4M66.8,336.9l-1.7,-3.9M392.3,361.5l-1.8,2.7M118.6,102.6l2.6,-2.1M129.3,272.9l-0.2,-1.8M309.6,130.7l3.0,1.5M420.3,179.9l1.7,3.5M423.0,333.6l-0.6,1.5M181.1,377.6l-1.3,-0.8M431.9,314.0l-1.0,3.5M231.2,208.3l1.5,-0.4M431.8,335.6l-1.6,4.1M377.2,216.8l1.5,4.3M171.0,271.5l-0.3,-2.3M190.3,249.9l0.7,-3.5M402.6,286.7l-0.8,4.8M226.1,84.8l2.6,-0.3M63.3,238.8l0.2,-1.9M390.1,417.3l-1.4,1.3M241.2,94.1l2.5,-0.1M229.0,339.0l-2.7,-0.6M333.8,293.4l-1.2,3.4M190.1,319.7l-2.2,-2.1M307.4,224.0l0.8,1.3M303.6,205.4l3.0,3.1M262.3,447.4l-1.9,0.2M257.2,183.9l2.7,0.4M223.9,237.3l1.1,-1.0M274.4,209.1l2.1,1.1M61.6,262.3l-0.0,-3.3M318.7,151.8l3.4,2.3M388.0,191.0l0.8,1.6M199.3,221.7l2.7,-3.2M91.8,400.2l-1.8,-2.0M127.8,352.8l-3.0,-3.9M325.5,247.2l0.4,2.2M186.0,167.9l3.6,-2.3M289.3,318.6l-1.7,1.3M133.9,102.9l2.9,-2.1M373.9,390.6l-1.8,1.8M105.3,215.8l0.6,-2.0M331.0,265.9l-0.2,3.8M234.6,279.4l-2.5,-1.6M173.3,101.9l2.1,-0.9M170.9,94.7l2.9,-1.3M357.7,288.2l-1.2,4.8M347.1,280.3l-0.5,2.6M428.6,146.8l1.8,2.9M373.6,430.8l-2.6,2.0M134.6,334.2l-2.0,-3.1M231.9,232.6l1.9,-0.9M82.7,339.3l-2.1,-4.4M317.8,113.0l2.5,1.2M321.5,79.6l4.2,1.7M237.0,167.4l4.5,-0.4M316.9,184.1l1.2,1.1M377.4,132.9l3.3,3.4M406.6,93.7l2.8,2.6M95.6,100.0l1.4,-1.3M345.2,361.8l-2.8,2.8M410.3,130.8l1.4,1.8M180.1,291.6l-1.1,-2.4M361.4,305.6l-1.7,4.5M143.9,251.9l0.2,-2.5M352.0,195.3l2.1,3.4M377.8,313.7l-1.8,4.6M218.3,148.1l4.0,-1.0M139.0,340.6l-1.0,-1.4M336.5,287.3l-0.9,3.2M412.3,436.5l-2.2,2.1M291.1,104.7l3.2,0.9M260.0,381.0l-3.8,0.4M118.2,423.2l-3.6,-2.8M78.6,327.7l-1.1,-2.7M253.1,235.6l4.0,1.1M161.3,255.6l0.2,-3.4M91.7,134.9l3.1,-3.8M95.4,362.5l-2.2,-3.3M411.9,183.6l1.3,2.8M255.0,110.9l3.3,0.2M220.7,343.7l-4.0,-1.2M166.7,437.2l-3.4,-1.5M84.8,354.9l-1.0,-1.7M63.9,130.4l1.0,-1.4M179.6,146.0l3.8,-2.2M295.8,127.8l3.6,1.3M132.8,444.9l-2.1,-1.3M306.5,448.6l-3.3,1.0M309.4,330.3l-2.6,2.4M366.1,97.7l2.8,2.0M402.8,366.3l-1.3,1.9M229.2,126.5l2.0,-0.3M361.2,151.6l1.6,1.7M283.1,407.6l-3.5,0.9M330.7,130.4l1.6,1.0M274.9,290.9l-2.2,2.2M129.4,152.9l2.4,-2.6M81.7,258.0l0.0,-1.7M171.5,188.1l1.2,-1.2M300.2,234.1l2.0,3.9M111.2,158.1l2.6,-3.4M126.6,309.1l-1.4,-3.6M303.3,231.5l1.7,3.2M213.3,439.2l-3.5,-0.6M292.4,440.1l-3.0,0.8M170.9,206.5l2.5,-3.5M401.4,256.4l0.2,4.5M241.0,248.3l4.5,-1.8M99.6,317.2l-1.6,-4.3M219.0,315.6l-1.9,-1.0M247.5,88.1l2.1,0.0M341.6,447.4l-3.9,2.0M268.4,301.3l-3.0,1.7M314.5,320.7l-3.2,3.7M274.3,384.2l-3.7,0.8M250.3,380.3l-2.2,0.1M426.9,244.3l0.3,3.4M209.3,304.6l-1.9,-1.7M422.5,148.2l1.1,1.8M227.7,127.2l4.3,-0.6M261.0,176.0l3.7,0.6M244.0,391.9l-1.6,-0.0M86.0,387.5l-2.4,-3.0M284.1,98.7l1.6,0.4M413.2,411.1l-1.7,1.9M225.6,443.1l-4.2,-0.5M323.7,293.5l-1.4,3.4M294.3,358.3l-3.3,1.7M154.6,292.1l-1.3,-3.9M319.2,199.3l1.7,2.0M166.3,83.6l3.6,-1.6M272.1,91.8l2.0,0.3M92.7,270.7l-0.2,-2.9M340.1,350.7l-1.2,1.3M430.7,301.4l-1.0,4.8M141.7,196.7l1.2,-2.0M73.9,361.5l-1.9,-3.2M61.6,396.4l-1.2,-1.6M377.1,391.0l-2.2,2.2M147.0,126.7l1.5,-1.1M149.5,264.8l-0.2,-4.5M356.9,112.0l3.9,2.9M326.1,142.0l1.3,0.9M174.3,203.2l2.9,-3.5M103.2,336.1l-1.9,-3.6M416.1,252.4l0.2,3.8M171.7,186.5l2.1,-2.1M102.0,333.1l-0.8,-1.5M384.5,104.5l2.2,2.0M282.2,178.4l4.3,1.8M425.6,318.9l-1.2,3.9M430.4,253.8l0.2,3.9M254.8,140.2l2.8,0.2M236.3,404.8l-1.6,-0.1M370.4,357.1l-1.7,2.2M207.7,75.9l1.7,-0.4M385.6,146.0l1.6,1.9M320.1,317.1l-1.6,2.1M63.8,371.9l-1.5,-2.4M136.6,259.1l0.0,-2.0M98.4,145.4l2.1,-2.6M99.2,400.9l-1.2,-1.2M168.7,95.7l2.3,-1.1M407.5,163.9l2.3,3.8M238.3,83.6l2.3,-0.1M134.9,383.7l-3.6,-3.3M359.4,187.0l1.9,3.0M255.1,257.7l1.6,3.7M274.9,186.1l1.9,0.7M422.7,295.4l-0.3,1.5M357.3,342.7l-2.6,3.5M356.8,297.8l-1.5,4.6M71.2,321.3l-0.6,-1.8M144.6,106.1l3.8,-2.5M403.2,342.3l-0.9,1.7M194.9,310.0l-2.9,-3.0M165.9,106.6l3.4,-1.8M320.0,237.3l0.9,2.9M270.4,165.0l1.6,0.4M63.9,268.7l-0.2,-4.2M222.6,276.9l-1.1,-1.7M287.6,139.1l1.9,0.7M409.9,410.5l-1.3,1.4M66.3,433.4l-1.7,-1.8M414.4,126.3l1.2,1.5M221.0,96.8l2.3,-0.4M354.3,140.5l2.9,2.6M111.7,245.7l0.2,-1.8M167.8,276.3l-0.6,-3.2M431.1,358.4l-2.1,4.1M400.1,415.3l-3.4,3.4M76.4,344.3l-2.1,-4.4M432.1,157.5l1.5,2.7M430.6,377.9l-2.3,3.7M426.0,139.0l1.8,2.7M251.9,294.8l-4.1,0.7M412.7,282.5l-0.6,4.5M121.0,281.4l-0.6,-3.8M146.3,338.7l-2.2,-2.8M182.0,164.5l2.8,-1.9M157.0,429.7l-2.6,-1.4M183.2,446.8l-2.4,-0.8M60.4,277.5l-0.3,-3.7M214.1,227.3l2.0,-1.9M211.1,292.0l-1.9,-2.2M91.4,442.1l-2.3,-1.9M376.1,184.4l2.2,3.7M102.7,289.4l-0.5,-2.4M309.9,187.5l1.5,1.3M130.5,357.1l-2.3,-2.8M227.4,80.6l3.1,-0.3M402.6,269.9l-0.3,4.9M367.5,279.0l-0.6,3.9M300.1,206.9l1.9,1.9M89.4,378.0l-2.5,-3.4M251.1,82.6l3.4,0.1M418.8,193.5l1.2,3.1M397.6,77.1l2.0,1.6M338.5,213.4l2.1,4.0M106.1,244.6l0.2,-1.8M254.8,289.4l-2.1,0.7M322.1,131.5l2.3,1.3M404.6,228.6l0.8,3.9M74.5,158.4l1.9,-3.2M418.6,405.1l-1.2,1.4M113.5,303.5l-1.0,-3.1M88.8,248.4l0.3,-3.7M214.4,138.4l4.4,-1.1M86.7,346.7l-1.2,-2.2M251.8,115.4l2.9,0.1M96.0,376.4l-0.9,-1.2M74.6,360.6l-2.5,-4.3M195.2,439.9l-2.3,-0.7M356.4,206.9l0.7,1.4M318.3,435.6l-2.8,1.2M416.3,85.7l1.1,1.1M113.7,362.6l-2.8,-3.6M412.5,159.5l1.1,1.9M166.9,158.9l2.0,-1.5M304.1,365.0l-4.2,2.4M132.2,216.5l1.8,-4.5M328.3,385.0l-2.6,1.7M349.6,314.1l-2.3,4.4M270.1,394.7l-1.8,0.3M254.8,392.5l-3.9,0.3M254.1,219.9l4.5,0.8M418.9,157.5l2.5,4.1M433.0,194.3l1.6,4.6M316.8,420.7l-4.0,1.8M141.9,202.9l1.8,-3.2M260.9,407.4l-1.8,0.2M366.2,371.6l-1.5,1.7M223.1,351.0l-2.8,-0.7M157.2,261.8l-0.0,-2.2M215.7,107.1l2.5,-0.5M343.6,351.0l-3.2,3.4M90.9,238.2l0.3,-1.8M266.3,317.8l-4.5,1.6M146.0,97.1l1.8,-1.1M59.5,117.2l2.1,-2.7M398.6,256.1l0.1,1.8M321.3,441.5l-3.8,1.6M188.4,238.0l1.1,-2.8M425.3,216.5l1.0,3.8M256.6,161.7l3.2,0.3M132.2,241.9l0.8,-4.7M130.3,247.0l0.3,-2.0M304.2,299.9l-1.4,2.1M286.1,422.5l-4.4,1.1M169.5,294.3l-0.7,-1.5M352.4,436.8l-1.6,0.9M238.7,302.3l-4.8,-0.9M107.2,255.7l0.2,-4.3M201.5,340.6l-2.6,-1.5M85.6,359.4l-1.7,-2.8M314.9,360.0l-2.4,1.7M403.2,102.4l3.0,3.0M258.5,168.0l4.8,0.6M77.9,129.5l1.5,-2.0M245.4,392.1l-4.0,-0.0M425.7,188.2l1.0,2.4M284.7,248.8l0.6,1.8M241.1,260.2l1.0,-3.8M281.2,262.1l-0.0,2.5M125.6,315.0l-0.8,-1.7M182.1,128.2l3.5,-1.7M363.5,253.2l0.2,2.4M142.5,173.3l1.2,-1.4M140.9,133.6l2.3,-1.9M235.3,394.4l-2.0,-0.2M63.5,415.2l-2.9,-3.5M234.3,209.7l1.5,-0.4M410.0,348.8l-1.5,2.9M411.2,375.9l-2.3,3.4M301.8,332.7l-1.6,1.2M229.3,169.1l1.8,-0.3M230.3,79.0l4.3,-0.4M163.4,168.2l1.9,-1.7M326.8,235.3l1.2,3.8M362.8,347.3l-2.5,3.4M190.5,117.4l4.1,-1.6M291.5,233.9l1.7,2.8M390.5,256.9l0.1,4.4M74.6,164.9l1.3,-2.2M94.9,234.7l0.3,-2.0M188.0,116.5l4.0,-1.6M174.1,268.5l-0.3,-3.3M429.6,224.8l0.8,4.2M189.8,391.2l-4.3,-1.9M283.3,356.8l-3.1,1.2M328.3,132.8l2.7,1.7M302.1,447.8l-2.3,0.7M121.2,347.0l-1.4,-2.1M190.9,366.0l-3.3,-1.7M254.1,312.4l-4.5,0.7M234.2,340.0l-1.5,-0.2M101.7,344.0l-1.2,-2.2M232.1,122.4l3.1,-0.3M225.5,125.3l4.9,-0.8M225.1,300.5l-3.4,-1.8M376.5,213.4l0.6,1.7M292.0,209.4l3.0,2.7M364.6,423.8l-3.5,2.6M216.2,273.6l-1.1,-2.6M279.3,118.7l2.0,0.5M235.8,372.4l-4.5,-0.4M408.9,86.1l2.7,2.5M151.7,411.9l-2.4,-1.5M225.7,359.6l-2.7,-0.6M145.2,200.5l1.0,-1.6M163.1,332.6l-1.3,-1.5M343.3,302.6l-1.9,4.5M111.1,78.4l1.5,-1.1M266.1,386.7l-1.7,0.3M75.4,295.7l-0.4,-2.1M179.4,166.5l2.1,-1.5M163.7,84.2l3.2,-1.5M137.6,227.4l1.4,-4.6M103.2,233.2l0.4,-1.9M78.6,276.3l-0.2,-1.8M297.3,381.1l-4.4,1.9M128.7,446.9l-4.0,-2.5M106.7,261.8l-0.0,-3.5M254.4,162.4l4.3,0.4M244.0,79.6l1.6,-0.0M236.7,267.8l-2.5,-3.7M422.8,184.6l0.7,1.5M350.2,353.6l-3.3,3.7M316.0,395.0l-1.9,1.0M153.4,299.6l-1.6,-3.8M159.3,105.8l3.2,-1.8M133.9,194.1l1.3,-2.2M281.1,132.0l2.2,0.6M409.9,244.9l0.2,1.9M154.4,148.8l2.7,-2.2M96.7,101.8l1.9,-1.7M177.9,289.7l-1.7,-4.1M193.3,78.1l3.5,-1.0M182.3,433.3l-3.8,-1.4M240.3,317.5l-4.3,-0.5M261.4,175.1l2.1,0.4M354.4,424.0l-2.5,1.7M255.8,258.1l1.2,3.5M197.8,239.1l0.7,-1.6M273.1,300.1l-2.0,1.4M378.0,309.6l-0.6,1.5M199.2,238.3l1.5,-3.1M142.1,82.3l2.5,-1.5M146.4,81.0l3.9,-2.2M249.1,290.8l-1.6,0.2M221.5,128.8l2.1,-0.4M269.5,96.3l2.6,0.4M259.5,149.4l4.3,0.5M192.6,354.1l-3.8,-2.2M412.1,403.5l-2.3,2.6M144.9,144.2l2.8,-2.4M80.2,129.6l2.7,-3.3M351.0,305.7l-0.6,1.4M371.8,115.5l1.6,1.4M163.3,122.5l1.7,-1.0M219.3,124.4l1.6,-0.3M75.8,230.7l0.8,-4.7M114.8,253.9l0.2,-2.7M373.4,370.6l-2.3,2.7M267.4,261.5l-0.0,3.5M364.2,268.9l-0.1,2.3M350.3,260.9l0.0,2.6M317.4,142.4l4.0,2.4M215.8,268.7l-1.0,-4.0M127.8,257.1l0.1,-1.6M288.1,179.0l3.3,1.7M420.6,80.4l2.4,2.3M225.7,381.3l-3.0,-0.5M343.3,399.9l-2.9,2.0M376.7,215.1l0.9,2.6M433.5,113.6l3.0,3.8M156.8,299.3l-1.1,-2.7M424.1,142.6l1.0,1.5M367.9,375.9l-2.1,2.3M111.2,373.1l-2.6,-3.2M309.5,408.8l-2.5,1.1M337.8,307.6l-1.3,2.6M180.2,338.1l-1.6,-1.4M315.7,302.2l-2.4,4.0M250.0,243.6l4.4,0.9M129.1,380.4l-3.5,-3.5M354.6,333.9l-2.0,3.0M179.5,419.3l-1.7,-0.7M383.7,279.1l-0.6,4.8M165.1,148.7l2.6,-1.9M331.7,371.6l-2.4,1.8M213.8,247.1l1.0,-2.2M176.2,154.1l3.1,-2.0M335.1,355.5l-3.6,3.4M289.6,272.5l-0.8,3.1M175.0,198.6l2.2,-2.5M263.9,324.9l-4.8,1.3M430.1,192.7l1.3,3.4M87.1,376.4l-1.9,-2.6M174.0,428.8l-2.5,-1.1M214.7,322.2l-3.1,-1.6M98.6,83.9l2.9,-2.4M253.3,178.7l4.1,0.3M323.0,386.1l-4.1,2.5M175.2,260.4l0.1,-3.7M423.4,204.7l0.7,2.1M395.2,394.9l-1.1,1.3M147.3,366.3l-2.9,-2.7M354.9,398.4l-3.4,2.7M365.8,171.7l2.9,3.8M258.1,275.6l-1.9,1.6M76.7,344.9l-2.1,-4.3M173.9,119.8l3.5,-1.8M156.2,107.6l1.6,-1.0M311.8,337.1l-3.6,3.2M319.3,107.3l4.2,2.0M366.0,286.0l-0.7,3.6M214.7,396.5l-2.3,-0.5M138.4,86.9l1.7,-1.0M296.8,268.2l-0.3,2.4M393.6,371.5l-1.9,2.6M253.8,411.1l-4.0,0.2M428.8,429.7l-2.4,2.6M326.2,308.2l-0.8,1.3M180.8,132.7l2.2,-1.1M267.4,176.5l4.6,1.1M145.1,308.1l-1.3,-2.8M203.9,179.3l3.8,-2.0M298.5,327.1l-2.3,1.8M124.7,433.1l-1.7,-1.2M70.7,388.7l-2.7,-3.8M188.3,201.9l2.7,-2.6M234.3,318.6l-2.4,-0.5M303.8,318.3l-1.1,1.1M278.6,401.7l-3.7,0.9M349.8,166.1l2.8,3.0M294.0,109.8l3.2,1.0M295.0,371.1l-2.6,1.2M81.3,254.8l0.1,-2.7M155.4,386.3l-2.5,-1.8M103.1,282.5l-0.5,-3.7M185.8,173.9l2.8,-2.0M427.1,219.9l1.1,4.6M340.1,411.3l-2.6,1.6M336.0,179.5l1.8,1.9M183.6,196.2l1.6,-1.6M144.9,406.2l-2.5,-1.8M178.5,431.5l-3.3,-1.3M275.6,130.5l1.7,0.4M402.5,197.0l1.4,3.5M336.1,235.8l1.3,4.4M144.8,321.3l-1.7,-2.8M215.0,286.4l-2.2,-2.7M144.6,294.8l-0.9,-2.7M82.5,87.9l3.0,-2.8M164.5,265.3l-0.1,-2.2M273.0,87.7l2.5,0.4M76.2,111.2l2.9,-3.3M268.8,163.4l3.3,0.8M231.3,121.6l4.1,-0.4M337.7,364.7l-3.5,3.1M393.9,353.3l-1.5,2.4M356.3,334.9l-1.5,2.2M167.6,331.3l-2.1,-2.3M113.8,377.7l-1.4,-1.6M258.0,94.4l2.9,0.2M380.7,281.8l-0.5,3.2M65.9,390.4l-2.8,-3.9M427.8,315.5l-1.3,4.4M323.1,246.4l0.5,2.6M220.1,182.1l3.0,-1.0M210.8,296.6l-2.1,-2.1M240.9,390.1l-4.6,-0.2M343.0,187.3l1.3,1.6M140.9,123.1l3.3,-2.5M370.5,119.1l2.9,2.5M175.4,93.5l3.0,-1.3M306.0,227.0l2.2,3.8M430.0,118.6l1.1,1.4M247.2,390.9l-1.6,0.0M147.8,219.4l1.6,-3.8M99.4,209.1l0.5,-1.5M90.2,107.5l1.4,-1.4M222.0,423.0l-4.0,-0.6M108.2,279.5l-0.6,-4.4M124.3,376.2l-2.4,-2.6M253.0,413.5l-3.2,0.1M244.3,83.3l4.2,-0.0M396.0,76.7l2.7,2.2M429.0,117.7l1.4,1.8M406.5,222.6l0.5,2.2M177.2,103.5l4.0,-1.7M374.6,113.1l2.0,1.8M375.7,241.6l0.6,3.6M223.9,219.5l3.5,-1.9M427.7,197.4l1.1,3.1M425.9,304.3l-0.5,1.9M178.8,86.8l2.5,-1.0M365.0,213.5l1.6,4.0M376.0,200.0l1.5,3.1M77.5,137.4l2.4,-3.3M194.2,429.6l-2.2,-0.7M333.9,375.0l-3.4,2.6M406.1,381.1l-2.8,3.7M326.4,113.5l2.7,1.5M312.1,404.8l-4.3,2.0M356.0,322.9l-1.8,3.3M117.4,426.3l-2.6,-2.0M332.2,399.8l-3.8,2.3M411.3,434.5l-1.6,1.5M289.0,278.6l-1.1,2.8M323.4,112.5l2.0,1.0M348.3,177.6l2.6,3.2M265.2,83.6l3.1,0.3M105.8,213.8l1.0,-3.0M404.0,219.0l1.2,4.5M368.8,93.4l3.3,2.4M420.8,188.2l1.7,4.1M354.9,345.4l-1.8,2.4M82.4,247.4l0.2,-2.5M309.4,299.0l-0.8,1.3M165.8,232.1l0.9,-2.3M142.4,258.1l0.1,-4.6M70.6,148.9l0.8,-1.3M427.6,131.1l2.1,2.9M331.8,295.0l-1.5,3.8M425.2,368.5l-1.0,1.6M295.8,266.1l-0.2,1.6M215.1,126.2l2.6,-0.6M376.3,447.0l-1.7,1.2M301.3,240.1l1.2,3.1M212.4,288.9l-1.8,-2.2M214.8,366.8l-2.0,-0.6M146.0,421.9l-1.3,-0.8M246.9,109.2l1.9,0.0M197.7,317.3l-1.7,-1.5M158.9,225.5l1.0,-2.3M353.9,235.5l0.9,3.6M405.2,323.7l-1.6,4.0M118.3,437.4l-1.8,-1.3M269.0,238.3l3.5,3.4M398.7,341.6l-1.2,2.3M323.4,85.8l2.3,1.0M189.6,446.5l-4.3,-1.3M153.0,116.6l3.2,-2.0M387.0,440.9l-3.4,2.7M132.4,133.2l2.1,-1.8M222.3,230.5l2.8,-2.1M104.6,153.3l2.3,-3.0M210.9,226.8l1.6,-1.6M78.1,99.1l1.6,-1.7M148.3,148.5l2.1,-1.8M430.2,338.2l-1.7,4.0M344.2,310.8l-0.7,1.4M108.0,331.2l-1.2,-2.5M117.1,437.6l-2.0,-1.5M220.3,78.3l4.8,-0.7M299.2,205.1l2.5,2.4M417.6,135.7l1.8,2.4M193.6,366.0l-2.9,-1.5M393.8,140.4l2.1,2.5M82.0,366.1l-1.2,-1.8M109.8,366.0l-2.4,-3.1M241.9,207.8l3.2,-0.3M274.5,368.9l-2.5,0.7M231.3,369.5l-3.2,-0.4M232.7,409.6l-2.1,-0.2M165.7,277.3l-0.8,-4.1M123.6,242.0l0.8,-4.9M269.3,294.4l-1.9,1.3M248.3,436.1l-3.6,0.0M125.6,424.0l-3.3,-2.5M65.8,187.1l1.1,-2.8M235.8,250.3l1.6,-1.5M415.4,401.5l-2.8,3.4M146.2,253.3l0.4,-4.7M86.9,393.0l-1.0,-1.2M427.3,288.9l-0.2,1.5M340.0,328.6l-1.0,1.5M239.1,135.7l2.0,-0.1M66.7,249.3l0.1,-2.0M167.8,334.7l-2.5,-2.6M305.1,121.2l4.2,1.8M331.8,421.2l-2.0,1.1M409.8,408.0l-1.2,1.3M382.8,174.2l1.5,2.4M279.2,208.3l2.2,1.4M109.7,171.2l2.1,-3.1M403.1,272.1l-0.2,2.6M162.5,222.6l0.8,-1.8M322.0,436.1l-3.4,1.5M329.4,394.8l-3.9,2.4M386.3,206.5l1.6,4.1M157.0,274.4l-0.7,-4.7M361.8,347.7l-1.0,1.3M229.7,292.5l-2.2,-1.2M385.1,281.6l-0.4,2.6M185.2,268.3l-0.2,-2.0M190.2,219.1l1.7,-2.2M258.7,316.4l-1.8,0.4M372.9,167.0l2.0,2.7M179.1,290.8l-1.8,-4.0M358.7,321.7l-2.1,3.9M145.3,445.2l-4.1,-2.2M163.0,394.0l-2.3,-1.5M176.9,306.6l-0.9,-1.4M191.3,295.6l-2.3,-3.7M415.5,132.0l2.5,3.2M138.5,199.4l1.4,-2.4M242.5,371.0l-4.3,-0.1M426.1,292.2l-0.3,1.7M134.9,249.1l0.4,-3.6M83.4,259.5l0.0,-3.9M364.5,448.4l-4.1,2.6M346.6,435.7l-2.5,1.4M405.8,97.6l1.9,1.9M212.4,172.9l2.0,-0.7M187.1,388.2l-4.0,-1.9M252.6,210.3l4.9,0.6M333.8,257.6l0.2,4.0M298.1,383.4l-1.9,0.8M400.7,98.4l2.3,2.1M263.1,187.6l4.6,1.0M290.1,158.5l3.1,1.3M249.7,398.5l-3.1,0.1M242.0,209.4l4.9,-0.4M133.2,156.3l2.2,-2.4M104.3,302.8l-1.3,-4.4M185.7,261.2l0.0,-2.4M172.8,217.5l2.2,-3.6M386.3,118.4l1.9,1.8M354.1,136.3l2.6,2.3M240.1,135.4l3.4,-0.2M356.7,274.2l-0.5,4.7M79.4,269.7l-0.2,-4.5M88.2,260.1l0.0,-3.6M424.6,159.8l1.2,2.2M187.3,350.8l-3.1,-2.1M423.6,230.0l0.4,2.4M261.8,83.3l3.8,0.3M267.7,289.3l-1.4,1.1M91.0,438.7l-1.2,-1.1M329.6,197.4l2.3,3.0M239.0,268.2l-2.9,-3.2M345.6,294.8l-1.5,4.4M169.9,82.9l1.5,-0.6M229.8,142.6l2.0,-0.3M392.6,284.4l-0.5,2.9M278.1,345.6l-4.3,1.6M81.5,157.9l1.1,-1.8M245.7,420.9l-4.6,-0.0M311.5,430.8l-4.1,1.6M207.5,107.5l2.4,-0.6M85.1,365.7l-1.8,-2.7M325.2,193.5l3.1,3.6M230.8,159.1l3.5,-0.5M394.0,142.4l1.4,1.7M191.0,102.1l2.4,-0.8M192.0,275.1l-0.4,-1.7M365.8,106.8l2.2,1.7M394.8,270.0l-0.1,1.8M309.4,160.8l1.4,0.9M159.6,269.9l-0.3,-2.7M164.2,409.2l-4.0,-2.2M163.6,221.3l1.8,-3.8M329.4,80.3l2.7,1.2M216.4,123.7l2.0,-0.4M267.1,272.1l-1.7,3.2M402.0,302.0l-0.5,2.0M197.0,404.6l-2.0,-0.7M197.2,273.3l-0.9,-3.9M205.2,329.3l-2.6,-1.6M365.2,143.6l3.0,3.1M63.0,413.9l-1.6,-2.0M228.9,235.2l3.6,-2.3M385.4,371.3l-1.1,1.4M226.3,91.3l2.5,-0.3M87.8,155.2l2.4,-3.6M262.3,285.6l-2.9,1.9M205.7,262.9l-0.1,-4.3M188.6,438.1l-1.7,-0.6M189.6,441.3l-3.0,-0.9M367.2,160.8l2.8,3.3M281.4,426.4l-3.5,0.8M310.0,77.8l2.6,0.9M401.5,109.4l2.1,2.1M293.3,243.5l0.9,2.4M262.6,89.3l2.6,0.2M162.9,207.9l1.3,-2.1M315.3,161.6l4.0,2.7M169.3,346.3l-2.8,-2.5M399.0,130.8l2.5,2.9M186.2,180.7l2.7,-2.0M118.1,176.6l2.5,-3.8M204.9,179.8l3.6,-1.8M141.8,242.3l0.5,-2.9M427.9,223.5l0.6,2.7M114.2,142.8l1.2,-1.3M339.0,95.7l1.9,1.1M385.1,354.0l-1.0,1.4M372.6,181.1l1.3,2.1M279.5,221.6l3.8,3.1M224.8,364.4l-4.3,-0.9M228.7,419.1l-4.2,-0.5M348.9,117.5l2.3,1.7M306.9,136.4l1.6,0.8M262.7,88.0l2.2,0.2" stroke="#1c1c1c" stroke-width="1.5" fill="none"/><path d="M113.0,118.2l1.9,-1.8M228.7,186.4l4.2,-1.0M150.4,289.4l-0.9,-3.2M276.2,245.1l2.1,3.9M236.5,323.1l-1.7,-0.3M121.9,117.9l1.3,-1.1M107.4,166.9l1.6,-2.4M89.2,242.4l0.4,-3.4M197.3,286.4l-2.2,-4.3M395.9,366.5l-2.6,3.7M205.9,223.6l1.3,-1.4M97.0,210.4l0.5,-1.5M195.4,120.1l4.2,-1.5M262.4,84.1l3.3,0.3M121.6,363.5l-2.1,-2.6M182.5,157.6l3.7,-2.3M378.3,376.3l-2.9,3.3M69.5,178.8l1.0,-2.2M417.2,241.7l0.5,4.7M132.7,150.6l2.6,-2.6M373.7,253.8l0.2,3.8M90.7,321.7l-1.7,-4.4M339.9,253.3l0.2,2.1M106.6,130.7l3.2,-3.4M113.7,383.9l-3.3,-3.6M422.6,317.6l-1.0,3.2M156.1,231.1l0.6,-1.9M191.5,245.8l1.0,-3.4M288.4,263.6l-0.2,3.3M228.4,274.0l-1.8,-2.6M86.4,325.1l-1.6,-3.9M389.6,436.8l-1.8,1.4M208.1,256.7l0.6,-4.9M292.7,266.1l-0.2,1.7M114.9,418.7l-2.7,-2.2M86.1,425.9l-2.7,-2.6M90.4,395.1l-1.1,-1.3M228.9,201.2l3.3,-0.9M365.7,236.1l0.7,3.2M206.2,264.0l-0.2,-3.9M187.3,386.1l-3.6,-1.7M90.6,389.5l-2.9,-3.5M118.0,241.2l0.4,-2.4M423.2,279.2l-0.2,2.3M278.3,272.4l-1.3,3.9M427.8,130.0l2.4,3.3M75.4,387.2l-2.7,-3.7M247.9,387.1l-4.3,0.1M277.7,408.8l-3.8,0.8M98.3,387.4l-2.2,-2.6M238.4,330.4l-4.2,-0.5M81.7,174.8l1.8,-3.4M366.2,264.8l-0.1,4.6M111.7,203.0l1.0,-2.4M97.1,387.0l-1.6,-1.9M198.8,432.6l-4.4,-1.2M121.7,134.6l1.6,-1.6M245.2,156.5l4.7,-0.0M278.9,74.1l2.8,0.5M99.8,131.9l2.2,-2.5M411.6,344.7l-1.7,3.4M230.3,280.8l-1.3,-1.0M106.9,168.4l2.1,-3.1M171.9,246.8l0.9,-4.8M141.9,359.2l-1.7,-1.8M81.5,221.5l1.1,-4.5M77.4,251.5l0.2,-2.8M417.7,305.4l-0.6,2.3M177.5,177.4l1.2,-1.0M146.6,252.2l0.5,-4.8M406.6,142.6l2.6,3.5M71.7,281.2l-0.3,-2.6M146.7,230.3l1.1,-3.5M236.8,381.2l-4.4,-0.3M383.4,242.4l0.3,2.4M413.2,113.7l2.4,2.7M298.4,108.2l2.0,0.7M212.5,180.2l2.4,-1.0M331.6,150.4l1.2,0.9M217.7,381.6l-2.8,-0.7M298.9,415.2l-1.7,0.6M405.8,219.5l1.2,4.5M105.1,166.6l2.3,-3.4M297.3,104.8l3.9,1.3M415.1,125.1l2.8,3.5M333.2,379.6l-1.8,1.3M364.5,127.8l2.4,2.2M72.8,142.3l1.2,-1.7M313.5,409.8l-1.9,0.9M385.9,282.2l-0.5,3.5M298.4,443.0l-3.4,1.0M289.7,236.1l1.7,2.8M292.7,252.1l0.4,1.9M150.2,130.0l1.5,-1.1M300.8,240.4l1.7,4.5M211.0,163.1l1.6,-0.6M133.7,302.0l-1.1,-3.1M77.2,407.5l-2.8,-3.2M146.0,88.6l2.3,-1.3M388.6,197.2l1.0,2.1M295.2,333.8l-3.2,2.1M234.8,388.9l-3.9,-0.4M138.4,307.5l-0.7,-1.6M113.2,84.1l1.5,-1.1M318.4,311.7l-2.3,3.2M83.6,295.4l-0.6,-2.7M365.9,408.2l-1.3,1.1M100.9,86.9l3.4,-2.9M420.0,262.9l-0.0,4.5M70.6,228.8l0.6,-3.0M59.5,149.8l2.1,-3.6M60.6,258.1l0.1,-3.2M128.1,259.5l0.0,-2.7M321.0,260.9l0.0,1.9M89.3,369.5l-2.2,-3.2M258.1,356.9l-4.1,0.5M189.5,196.5l1.5,-1.3M181.9,145.0l4.3,-2.4M204.4,86.7l2.8,-0.7M112.1,300.4l-0.8,-2.8M399.0,235.3l0.6,3.5M216.7,159.7l3.9,-1.1M348.9,336.5l-2.6,3.6M299.3,244.2l0.8,2.5M95.7,231.3l0.8,-4.2M291.8,227.5l2.3,3.1M96.9,289.5l-0.6,-3.3M212.7,429.5l-2.2,-0.4M206.0,360.0l-1.8,-0.7M64.0,231.0l0.5,-2.9M190.9,173.4l1.9,-1.2M411.0,271.7l-0.1,2.3M205.8,153.5l1.8,-0.7M143.6,435.4l-2.4,-1.4M218.6,143.7l1.5,-0.3M406.8,394.4l-1.1,1.3M398.2,368.0l-1.1,1.6M296.1,79.6l1.5,0.4M397.6,370.9l-1.2,1.7M286.8,367.0l-3.6,1.4M354.1,388.6l-1.7,1.4M257.8,352.2l-3.0,0.4M243.0,260.8l0.7,-3.3M418.7,102.3l2.5,2.7M69.7,302.6l-0.9,-3.8M395.1,86.7l3.1,2.6M248.7,439.6l-3.8,0.1M296.7,368.1l-1.5,0.7M61.3,145.2l2.5,-4.0M305.4,369.9l-4.1,2.2M115.8,79.8l1.2,-0.9M104.6,436.4l-1.4,-1.1M333.7,144.3l1.3,1.0M294.4,340.0l-2.7,1.6M175.5,347.5l-1.6,-1.3M223.3,327.8l-1.9,-0.7M203.5,368.8l-4.5,-1.8M271.3,183.6l1.6,0.5M322.4,384.3l-2.3,1.4M219.5,407.0l-2.8,-0.5M364.6,406.8l-1.3,1.0M377.8,376.6l-2.6,2.9M188.9,105.9l3.2,-1.2M432.4,214.3l0.5,1.8M253.5,81.7l1.6,0.1M350.8,233.7l1.2,4.7M267.7,400.5l-3.1,0.5M226.9,133.9l4.8,-0.7M353.5,340.1l-2.2,3.0M79.9,128.3l2.6,-3.2M312.5,186.0l2.7,2.4M72.5,421.9l-1.5,-1.7M95.3,422.3l-3.2,-3.0M326.3,281.5l-0.5,1.9M178.1,412.7l-1.7,-0.8M195.4,445.6l-4.8,-1.3M161.6,151.3l2.9,-2.2M362.6,199.7l2.1,3.9M385.6,173.8l1.1,1.8M104.2,342.0l-2.1,-3.8M179.2,340.7l-2.2,-1.8M210.9,125.4l3.5,-0.9M373.5,271.1l-0.2,2.9M222.1,442.0l-4.3,-0.6M422.2,365.2l-2.4,4.1M91.9,278.9l-0.5,-4.4M272.5,317.9l-2.0,0.9M165.7,444.3l-2.3,-1.0M82.2,219.5l0.8,-2.9M99.9,158.4l2.8,-4.0M116.9,200.4l1.2,-2.5M270.6,260.5l0.2,4.7M394.0,332.7l-1.9,3.9M295.0,300.2l-1.7,2.1M297.4,89.9l2.8,0.8M245.4,281.5l-2.4,-0.1M96.5,138.0l2.1,-2.6M122.4,174.0l1.1,-1.5M79.5,408.0l-2.3,-2.7M407.6,394.5l-1.7,2.0M364.6,187.9l1.9,3.1M328.1,157.0l2.0,1.6M210.0,98.5l1.9,-0.4M371.7,121.9l2.3,2.0M360.4,133.7l2.0,1.8M200.1,433.4l-2.2,-0.6M160.3,363.4l-2.2,-1.8M125.3,393.1l-1.9,-1.8M399.4,364.6l-2.6,3.8M108.5,177.7l0.8,-1.4M307.5,205.8l2.0,2.2M294.5,142.1l1.8,0.7M100.6,370.8l-1.3,-1.8M413.4,233.0l0.8,4.7M175.3,125.2l3.5,-1.8M409.5,205.8l0.8,2.4M112.1,285.2l-0.5,-2.6M264.3,359.2l-2.1,0.4M283.2,246.9l1.5,3.9M81.6,179.3l1.0,-2.0M430.6,355.4l-0.8,1.6M403.4,315.7l-1.2,3.5M128.6,313.3l-1.8,-4.1M122.1,368.2l-2.9,-3.3M197.0,280.7l-1.0,-2.6M148.6,89.5l3.0,-1.7M366.0,338.6l-2.5,3.9M185.8,238.5l1.4,-3.6M180.2,246.7l1.1,-4.8M383.1,439.4l-3.9,3.0M362.8,96.5l3.2,2.2M301.4,186.2l2.2,1.6M223.6,397.8l-3.4,-0.6M342.5,117.0l4.1,2.8M323.9,233.7l1.6,4.3M385.6,285.1l-0.8,4.6M121.9,353.5l-1.6,-2.2M285.1,111.4l3.3,0.9M101.5,81.9l1.5,-1.2M128.4,281.8l-0.4,-2.5M187.2,130.6l3.0,-1.3M358.8,87.3l1.8,1.2M375.5,221.5l1.3,4.4M87.4,197.5l0.8,-2.1M157.1,287.4l-0.9,-3.2M430.6,86.8l2.4,2.5M385.7,364.4l-2.2,3.0M194.9,179.6l3.6,-2.3M410.5,329.5l-1.0,2.4M89.0,141.0l2.1,-2.8M192.7,364.4l-2.7,-1.4M129.5,275.4l-0.5,-4.5M404.6,153.6l1.5,2.2M80.5,229.4l0.3,-1.6M428.8,95.0l2.5,2.7M260.7,294.7l-3.2,1.4M114.9,140.5l2.8,-3.0M358.8,246.5l0.3,2.6M99.4,349.0l-0.9,-1.5M212.5,418.7l-4.7,-1.0M145.7,150.2l3.1,-2.8M240.8,408.1l-2.1,-0.1M282.8,243.9l1.5,3.2M137.6,405.3l-2.2,-1.7M382.3,142.4l3.0,3.4M170.5,83.2l1.7,-0.7M62.5,415.9l-1.3,-1.6M186.2,418.4l-3.7,-1.4M425.9,86.3l1.6,1.7M220.2,113.3l1.5,-0.3M109.9,234.7l0.4,-2.1M139.6,436.8l-3.9,-2.4M194.8,78.0l3.8,-1.1M262.7,279.8l-2.9,2.6M286.6,421.4l-2.3,0.6M177.2,438.4l-1.4,-0.5M378.6,265.3l-0.1,3.6M325.7,221.6l1.5,3.0M142.6,303.7l-0.9,-2.2M123.5,382.2l-2.2,-2.2M371.4,108.2l2.9,2.4M134.5,232.7l1.1,-4.1M325.8,184.7l2.0,2.1M405.3,145.9l2.9,4.0M250.7,383.3l-3.8,0.1M341.1,285.7l-0.4,1.6M325.3,255.0l0.1,1.7M215.5,293.0l-3.6,-3.5M270.6,195.3l2.3,0.8M229.3,424.6l-3.0,-0.3M96.8,109.7l3.0,-3.0M214.3,321.1l-2.1,-1.1M315.9,132.1l1.5,0.8M407.2,108.9l2.2,2.3M405.3,86.2l2.7,2.4M183.8,242.6l0.7,-2.3M268.4,109.9l3.4,0.5M122.6,427.1l-2.1,-1.6M135.2,121.7l1.8,-1.5M246.9,408.0l-1.6,0.0M241.9,370.6l-3.5,-0.1M183.0,440.0l-4.7,-1.7M238.7,260.5l0.6,-4.2M340.4,312.6l-1.0,1.9M375.7,369.0l-1.2,1.4M189.8,134.8l4.5,-2.0M338.2,124.6l3.7,2.5M397.8,353.4l-2.3,3.8M280.1,237.2l2.6,3.6M413.3,117.4l3.2,3.7M230.5,162.7l3.2,-0.5M315.7,340.4l-2.2,1.9M356.2,330.1l-2.5,4.1M211.1,106.7l3.7,-0.8M186.2,297.1l-2.3,-3.8M184.6,154.1l2.4,-1.4M321.6,239.8l1.1,3.7M104.2,330.1l-0.7,-1.5M143.0,407.7l-3.0,-2.1M256.4,74.1l2.1,0.1M200.1,422.2l-4.4,-1.3M87.4,308.0l-0.9,-2.9M195.2,440.1l-1.6,-0.5M315.0,283.0l-0.9,2.9M180.8,125.4l4.4,-2.1M425.3,317.3l-1.3,4.1M201.5,435.1l-3.9,-1.0M162.9,134.7l2.9,-1.9M419.9,174.1l1.0,2.0M227.6,387.9l-3.7,-0.5M368.6,286.4l-0.5,2.7M341.3,328.3l-1.7,2.4M100.7,189.1l1.7,-3.4M360.7,205.1l0.9,1.9M258.2,269.4l-2.1,3.2M210.2,289.1l-1.5,-2.0M354.3,388.4l-1.5,1.3M341.4,261.7l-0.0,4.6M337.3,381.9l-3.0,2.3M108.2,338.0l-1.9,-3.5M162.0,99.2l3.2,-1.7M81.1,241.1l0.4,-3.4M140.6,371.6l-1.6,-1.5M361.9,275.4l-0.2,1.6M250.8,294.8l-2.3,0.3M268.8,337.0l-4.7,1.4M414.1,419.0l-2.8,2.9M82.5,151.1l0.9,-1.3M75.6,139.7l1.6,-2.2M116.6,365.6l-2.0,-2.5M400.4,372.0l-1.8,2.6M137.4,168.5l1.0,-1.2M333.3,218.1l1.9,3.9M200.9,77.4l4.3,-1.1M85.6,195.3l1.4,-3.4M311.0,341.7l-1.8,1.5M318.2,250.9l0.3,2.0M283.4,97.5l2.3,0.5M144.7,221.1l1.6,-4.0M149.0,423.0l-1.9,-1.2M423.4,340.2l-0.9,2.0M120.0,266.0l-0.1,-1.9M392.2,417.6l-1.1,1.0M267.2,382.0l-3.2,0.6M338.0,83.0l3.9,2.0M191.0,109.3l3.8,-1.4M344.5,129.4l2.9,2.2M211.6,303.1l-2.9,-2.4M333.4,372.7l-3.7,2.9M327.4,85.5l3.5,1.6M220.3,403.3l-2.1,-0.4M426.3,319.3l-1.5,4.5M390.9,419.3l-2.0,1.8M98.3,383.5l-1.7,-2.0M257.8,317.7l-3.3,0.7M211.6,416.7l-3.8,-0.9M92.6,153.6l1.4,-2.1M64.1,171.6l1.8,-3.6M125.0,238.2l0.7,-3.8M420.1,315.2l-1.1,3.4M101.3,259.1l0.1,-4.9M64.5,393.7l-1.2,-1.6M195.2,345.0l-1.7,-1.0M384.7,93.0l3.0,2.4M337.7,285.1l-1.1,4.4M285.5,318.2l-1.6,1.1M223.4,126.7l2.1,-0.4M277.4,426.3l-2.9,0.5M250.6,429.6l-3.2,0.1M433.3,245.2l0.2,2.3M179.5,226.6l1.3,-2.4M67.6,214.2l0.5,-2.0M212.1,407.1l-3.7,-0.9M167.5,182.4l3.5,-3.4M216.3,272.5l-1.5,-4.2M305.5,293.9l-2.1,3.8M419.4,146.3l1.0,1.5M147.6,211.4l1.5,-3.0M417.7,151.7l1.6,2.5M411.9,290.4l-0.5,2.7M312.1,134.4l2.5,1.3M346.2,387.3l-2.9,2.3M323.0,436.4l-2.0,0.9M171.7,169.9l3.4,-2.8M85.2,75.8l1.6,-1.4M60.5,160.2l1.2,-2.1M428.7,81.2l1.3,1.4M292.7,335.2l-2.0,1.3M130.6,339.4l-2.4,-3.6M258.7,345.7l-1.6,0.2M141.8,183.1l2.2,-3.0M347.9,384.1l-3.1,2.6M356.5,190.1l1.4,2.2M251.4,130.7l4.8,0.2M178.2,252.8l0.5,-4.0M198.2,241.6l1.8,-4.4M290.7,113.4l3.0,0.9M163.3,88.0l4.5,-2.1M91.1,221.7l0.5,-1.8M371.0,137.4l1.5,1.5M422.9,117.9l1.5,1.9M393.0,413.1l-2.3,2.2M285.2,182.3l2.8,1.4M333.9,122.6l1.8,1.2M379.0,194.5l0.9,1.9M186.9,144.3l2.6,-1.3M382.2,289.6l-0.3,1.5M144.1,415.1l-2.4,-1.6M391.3,357.3l-1.3,2.0M360.2,445.5l-3.4,2.1M366.3,203.5l1.9,4.0M388.1,126.2l3.3,3.5M312.5,318.7l-1.1,1.3M264.1,244.9l1.8,2.0M359.5,431.8l-2.2,1.4M394.1,250.4l0.3,4.6M194.7,210.2l3.4,-3.4M246.4,324.7l-2.0,0.0M399.9,280.8l-0.5,4.1M247.1,411.0l-4.7,0.0M295.3,375.3l-2.7,1.2M252.5,139.8l3.6,0.2M134.6,293.6l-1.1,-3.9M325.7,340.5l-1.7,1.7M91.3,100.1l3.1,-3.0M112.2,246.5l0.4,-3.7M223.7,438.9l-3.2,-0.4M122.4,101.5l3.1,-2.4M317.7,221.0l1.0,1.8M273.4,76.4l4.4,0.6M221.0,185.8l3.3,-1.1M377.9,370.6l-2.3,2.7M127.3,117.3l3.6,-3.0M197.7,219.4l1.8,-2.1M260.8,177.4l2.6,0.5M80.6,172.9l1.9,-3.6M399.9,429.1l-2.5,2.3M385.9,356.6l-2.0,3.0M126.8,302.5l-1.2,-3.6M153.9,161.2l3.6,-3.3M313.9,86.6l2.8,1.1M274.6,243.3l2.5,3.9M185.2,222.5l2.6,-4.0M202.6,333.0l-1.3,-0.8M353.3,267.1l-0.1,1.5M214.1,325.0l-3.1,-1.6M212.1,434.0l-4.8,-0.9M397.5,371.1l-2.5,3.4M430.0,332.0l-0.9,2.4M157.2,303.1l-0.9,-1.9M407.4,357.9l-1.0,1.7M331.0,170.2l3.0,2.8M304.0,178.2l2.3,1.6M361.8,358.4l-2.0,2.4M297.5,215.2l1.6,1.8M71.5,253.2l0.1,-1.8M328.2,347.4l-2.0,1.9M400.8,156.9l2.6,3.9M379.1,240.3l0.3,1.8M232.5,382.6l-4.8,-0.5M159.3,211.9l1.7,-3.0M294.7,285.1l-2.1,4.3M382.0,325.2l-1.2,2.5M171.5,437.5l-2.2,-0.9M249.0,118.3l4.4,0.1M315.2,421.5l-4.6,2.0M214.7,412.4l-3.5,-0.7M63.9,150.0l1.1,-1.8M97.1,423.5l-1.8,-1.7M320.2,99.2l4.0,1.8M195.4,322.2l-3.7,-3.1M330.9,280.7l-0.6,2.7M345.5,157.4l2.8,2.7M228.5,262.7l-0.3,-4.7M173.4,195.6l3.1,-3.5M376.4,317.0l-0.8,1.9M133.3,106.9l3.2,-2.3M85.4,277.6l-0.5,-4.9M240.1,121.6l3.9,-0.2M275.5,440.1l-1.6,0.3M277.3,345.1l-2.5,0.9M196.3,341.1l-2.1,-1.3M223.0,75.3l1.8,-0.2M382.8,312.8l-0.7,1.9M327.5,117.2l2.5,1.4M60.4,89.9l1.9,-2.0M432.1,193.4l1.6,4.4M383.0,294.6l-1.2,4.8M258.2,177.4l4.2,0.6M351.5,268.0l-0.1,2.4M324.4,381.0l-2.7,1.7M146.6,368.1l-2.8,-2.6M185.2,114.7l4.0,-1.6M325.7,409.8l-3.9,2.1M223.5,232.0l2.1,-1.6M127.7,133.2l1.8,-1.7M378.3,198.3l1.9,4.0M201.0,78.2l2.7,-0.7M195.0,412.4l-1.8,-0.6M200.3,88.2l4.1,-1.1M159.8,365.1l-2.4,-2.0M79.4,216.6l0.6,-2.2M358.5,113.2l1.9,1.5M250.2,259.1l1.4,2.4M416.7,212.5l0.5,1.8M258.2,196.8l2.6,0.5M209.6,134.7l3.7,-1.1M226.2,226.2l2.0,-1.1M230.2,386.0l-2.8,-0.4M69.8,156.4l2.5,-4.2M313.1,278.8l-0.9,3.5M273.0,157.3l3.0,0.8M288.1,86.4l4.6,1.1M369.0,269.3l-0.1,1.6M163.4,419.0l-4.1,-2.2M93.3,420.9l-2.5,-2.4M353.4,245.0l0.3,2.2M69.0,356.6l-1.9,-3.6M192.7,152.7l2.4,-1.2M403.0,250.9l0.2,3.3M133.1,344.9l-1.6,-2.2M59.7,373.5l-1.2,-2.0M350.1,183.5l2.7,3.6M313.0,379.7l-2.6,1.5M249.8,129.9l2.3,0.1M247.6,387.8l-1.6,0.0M331.2,159.6l2.7,2.2M198.2,254.0l0.3,-1.7M317.9,131.5l3.0,1.7M72.7,357.8l-1.4,-2.6M206.0,191.2l1.5,-0.9M250.8,239.3l3.0,0.6M382.8,103.9l2.1,1.8M425.4,79.0l2.6,2.6M325.9,347.1l-1.6,1.5M263.4,377.0l-1.9,0.3M84.5,425.1l-1.1,-1.1M421.8,194.7l1.3,3.5M253.5,233.5l4.6,1.2M278.3,186.2l2.3,1.0M102.0,264.8l-0.1,-3.3M426.4,408.7l-3.1,3.8M289.8,146.7l2.9,1.1M272.3,267.3l-0.5,2.1M373.2,164.2l2.5,3.3M358.2,390.0l-3.4,2.9M185.0,112.4l1.9,-0.8M142.8,392.0l-2.1,-1.6M222.1,216.5l1.4,-0.7M153.7,83.1l1.6,-0.9M422.3,213.6l1.3,4.8M105.7,392.1l-1.1,-1.2M362.2,334.8l-1.8,2.9M130.6,339.6l-2.0,-2.9M294.3,298.7l-2.9,3.7M97.2,199.0l1.5,-3.7M300.8,322.4l-3.6,3.2M243.6,199.4l4.8,-0.2M65.7,254.3l0.1,-2.9M300.8,263.5l-0.1,2.6M94.1,94.8l2.2,-2.0M243.2,225.6l1.9,-0.2M388.0,323.4l-1.0,2.3M200.9,185.0l3.6,-2.1M231.3,281.1l-3.2,-2.5M143.8,338.3l-2.0,-2.7M180.9,294.0l-2.2,-4.3M243.6,425.1l-2.1,-0.0M321.4,291.7l-0.7,1.8M249.0,127.7l4.4,0.1M346.0,363.9l-2.7,2.6M427.8,196.9l1.5,4.2M176.4,330.3l-2.7,-2.8M320.1,326.4l-1.3,1.4M86.5,356.3l-0.9,-1.6M90.3,166.6l2.0,-3.3M149.6,369.8l-3.0,-2.7M180.8,179.9l3.5,-2.8M239.0,216.4l4.7,-0.8M155.9,112.7l2.8,-1.7M105.3,312.7l-1.4,-3.8M226.0,249.6l2.4,-4.0M430.1,83.4l3.1,3.2M199.1,384.8l-2.1,-0.8M234.4,228.2l2.1,-0.7M199.5,229.5l2.0,-2.9M79.1,133.7l1.6,-2.2M309.0,332.4l-2.1,1.9M269.4,145.5l4.8,1.0M146.0,338.1l-1.5,-2.0M190.1,359.2l-3.0,-1.7M347.3,192.1l1.3,1.8M156.0,323.6l-2.4,-3.4M332.2,290.6l-0.7,2.0M153.3,267.1l-0.1,-2.4M410.4,180.3l1.8,3.7M269.2,169.6l4.7,1.2M220.1,410.8l-1.6,-0.3M173.2,271.2l-0.6,-4.2M237.1,197.6l1.9,-0.3M286.8,111.0l4.6,1.2M371.4,205.5l1.3,3.0M131.0,308.9l-1.1,-2.8M356.6,110.1l3.0,2.2M408.1,200.7l1.0,2.7M263.4,427.0l-1.9,0.2M417.9,112.4l2.8,3.2M177.9,330.7l-2.1,-2.1M75.2,424.0l-2.0,-2.1M68.4,257.5l0.0,-1.8M312.7,233.4l1.9,4.5M417.3,104.9l2.7,2.9M80.4,448.2l-1.4,-1.2M374.0,348.4l-0.9,1.4M158.7,163.7l2.3,-2.1M403.8,255.6l0.2,4.6M332.3,358.5l-1.9,1.7M136.2,282.1l-0.7,-3.5M121.8,203.0l1.9,-4.0M330.0,353.5l-2.8,2.5M252.2,284.9l-4.6,1.2M304.7,294.8l-1.6,2.8M180.3,95.9l4.3,-1.7M149.3,169.6l2.7,-2.9M234.9,219.3l2.2,-0.6M81.7,348.4l-0.8,-1.5M308.3,251.6l0.7,4.6M223.6,379.0l-2.1,-0.4M286.0,115.5l2.8,0.8M268.9,138.2l2.5,0.5M348.9,412.7l-2.5,1.7M152.9,440.7l-3.0,-1.5M201.8,175.8l1.8,-0.9M136.5,140.4l2.0,-1.8M84.8,171.5l1.1,-2.0M163.9,203.9l2.4,-3.5M96.7,148.6l2.6,-3.4M91.5,443.3l-1.3,-1.1M190.0,144.0l2.7,-1.3M151.8,135.7l3.0,-2.2M182.5,424.0l-4.2,-1.7M103.0,169.8l1.0,-1.6M323.3,372.3l-3.5,2.4M177.8,128.5l3.7,-1.9M198.1,202.7l1.6,-1.3M318.7,225.4l2.0,4.0M267.0,209.9l2.3,0.9M310.9,314.3l-2.7,3.3M350.7,131.2l2.6,2.1M117.5,271.8l-0.4,-4.6M208.0,253.6l0.5,-2.4M352.1,329.2l-1.4,2.2M241.3,373.3l-2.8,-0.1M315.4,243.0l0.9,3.4M257.2,434.1l-1.5,0.1M226.6,103.3l4.6,-0.6M268.2,240.7l1.8,1.9M188.9,439.8l-4.6,-1.5M106.2,232.4l1.0,-4.8M289.8,143.8l4.2,1.6M101.1,390.4l-1.8,-2.0M182.3,188.5l1.6,-1.4M198.8,448.5l-3.3,-0.8M269.0,209.2l3.2,1.4M413.6,402.9l-1.5,1.8M196.5,292.2l-1.2,-2.0M432.7,373.9l-1.6,2.7M253.2,442.0l-4.1,0.2M374.7,227.3l0.9,3.3M154.7,376.8l-3.5,-2.8M357.2,143.1l1.4,1.3M228.6,418.3l-1.9,-0.2M309.9,212.9l1.2,1.5M343.0,251.2l0.3,3.1M182.0,157.5l3.2,-1.9M410.6,237.7l0.5,3.7M173.7,252.7l0.5,-4.1M223.2,445.4l-4.7,-0.6M186.5,204.8l1.2,-1.3M100.8,346.2l-2.2,-3.7M427.1,229.6l0.7,4.1M276.6,444.1l-4.2,0.7M213.8,353.2l-3.7,-1.3M175.6,120.2l1.5,-0.7M332.9,304.9l-1.0,2.0M206.8,174.9l1.8,-0.8M239.4,415.1l-3.5,-0.2M290.5,326.6l-3.1,2.1M200.5,99.8l1.5,-0.4M382.9,413.4l-1.3,1.2M123.3,203.8l0.9,-2.0M365.7,386.2l-2.0,2.0M109.9,178.2l2.0,-3.2M87.8,205.3l1.5,-4.3M69.0,109.2l2.3,-2.6M217.5,276.6l-2.1,-3.9M347.2,276.0l-0.6,4.0M271.9,238.8l1.5,1.7M323.6,345.8l-3.7,3.4M109.0,80.9l2.8,-2.1M164.3,205.9l1.5,-2.2M420.7,238.7l0.5,3.5M84.0,353.4l-1.4,-2.4M426.3,117.3l1.4,1.7M87.1,229.4l0.8,-4.2M120.4,402.0l-2.6,-2.3M174.7,386.6l-4.2,-2.4M98.2,245.1l0.4,-3.3M226.1,196.8l4.2,-1.3M297.4,437.2l-4.7,1.4M107.6,302.9l-1.1,-3.5M157.9,399.0l-1.6,-1.0M277.0,194.5l2.9,1.3M85.7,310.8l-0.5,-1.5M313.3,200.3l2.1,2.2M119.0,210.9l1.6,-4.0M70.8,314.0l-1.0,-3.4M59.8,206.6l0.6,-2.1M249.7,252.4l4.4,1.7M397.8,278.4l-0.2,2.1M405.3,398.4l-2.5,2.8M82.8,283.0l-0.6,-4.8M304.9,316.4l-3.2,3.4M87.3,399.8l-2.2,-2.6M160.7,438.3l-2.2,-1.1M173.5,106.2l2.9,-1.4M350.1,92.0l3.4,2.1M319.5,122.3l2.3,1.2M73.8,447.4l-3.4,-3.2M118.3,394.7l-1.8,-1.7M371.4,277.5l-0.5,4.1M388.5,100.2l2.1,1.8M310.0,201.9l3.3,3.5M193.5,102.0l3.1,-1.0M344.5,210.4l1.1,2.2M286.9,271.6l-1.1,4.4M181.3,77.3l4.0,-1.4M304.3,101.9l1.7,0.6M296.9,97.1l3.3,1.0M118.0,358.9l-3.0,-3.9M367.7,376.4l-2.5,2.7M125.8,200.9l1.2,-2.4M82.1,196.9l0.6,-1.6M295.1,239.0l1.3,2.8M81.1,424.6l-1.4,-1.4M209.7,269.3l-0.5,-2.4M151.0,142.6l1.6,-1.3M275.6,168.2l4.1,1.3M298.3,107.1l4.0,1.3M417.1,434.9l-3.2,3.2M372.9,83.2l1.6,1.1M104.6,400.4l-2.5,-2.5M169.1,290.3l-0.9,-2.3M89.0,256.5l0.1,-3.3M135.1,143.5l1.9,-1.8M189.0,180.6l1.8,-1.2M303.8,303.8l-2.9,4.0M141.0,337.1l-1.2,-1.7M314.8,223.0l2.3,4.0M345.0,299.0l-0.9,2.3M421.8,430.2l-1.9,1.9M95.4,389.8l-1.2,-1.4M143.3,124.3l3.3,-2.5M212.7,297.6l-2.5,-2.3M317.4,115.8l3.5,1.7M93.6,276.2l-0.4,-4.6M331.2,242.3l0.6,2.5M264.4,190.0l4.0,1.0M337.7,360.8l-1.8,1.7M199.5,251.8l0.7,-3.3M377.0,443.5l-2.3,1.6M188.6,351.0l-2.7,-1.7M374.9,138.2l3.3,3.4M399.7,307.5l-0.5,1.7M390.3,188.1l1.8,3.6M359.3,331.5l-1.6,2.7M249.2,154.9l2.4,0.1M154.5,383.0l-1.3,-1.0M357.8,399.5l-1.9,1.5M98.6,383.0l-1.5,-1.8M256.3,102.5l4.4,0.3M430.5,305.4l-0.7,2.8M177.2,318.5l-2.9,-3.5M377.2,114.2l2.7,2.4M161.9,143.2l1.5,-1.1M403.4,121.2l1.8,2.1M366.1,104.5l1.3,1.0M94.4,316.4l-0.7,-1.9M385.3,310.5l-1.3,3.7M432.7,349.3l-1.2,2.5M405.3,133.9l2.3,2.9M232.7,347.1l-4.6,-0.7M315.9,197.0l1.1,1.2M319.8,128.9l4.3,2.4M422.7,354.2l-2.0,3.8M89.4,144.6l1.3,-1.7M377.6,337.7l-1.0,1.8M73.5,248.9l0.2,-2.4M298.7,334.5l-1.2,0.9M395.1,209.5l1.1,3.1M405.7,317.6l-1.1,3.1M338.8,406.1l-2.6,1.7M106.0,267.4l-0.2,-4.1M204.0,137.0l4.6,-1.6M210.6,407.8l-3.7,-0.9M272.4,356.3l-1.9,0.5M241.3,362.0l-3.7,-0.2M92.4,364.6l-0.9,-1.3M259.0,101.8l3.0,0.2M383.8,102.9l2.5,2.2M323.8,425.3l-3.1,1.5M126.5,102.0l2.7,-2.1M248.5,356.6l-4.3,0.1M201.8,340.9l-1.9,-1.1M414.9,429.9l-2.6,2.6M90.2,270.2l-0.2,-3.6M386.9,285.2l-0.8,4.6M175.7,384.7l-1.4,-0.8M186.0,231.5l1.5,-3.0M431.1,208.0l1.3,4.7M256.0,285.4l-2.0,0.8M240.8,359.8l-4.7,-0.3M109.6,237.1l0.3,-1.7M144.5,155.6l2.7,-2.6M184.6,446.8l-2.6,-0.8M243.0,244.0l4.8,-0.9M211.0,260.0l0.1,-1.9M158.8,370.7l-2.1,-1.7M66.1,163.2l1.2,-2.3M97.3,326.7l-1.8,-4.2M107.8,181.1l0.9,-1.5M341.4,251.1l0.5,4.8M136.4,169.4l1.4,-1.7M97.8,419.6l-1.3,-1.2M408.5,322.1l-1.7,4.5M158.2,172.4l3.2,-3.2M220.8,208.0l3.8,-1.8M315.6,365.1l-2.2,1.5M328.3,194.4l2.6,3.2M81.5,310.6l-1.1,-3.8M255.8,75.3l1.6,0.1M260.6,389.2l-3.7,0.4M314.3,417.2l-1.7,0.8M178.7,419.3l-3.9,-1.7M341.9,220.6l1.3,3.1M80.7,276.2l-0.3,-3.5M206.0,318.6l-1.7,-1.2M203.4,288.3l-1.0,-1.5M339.9,307.5l-0.8,1.6M198.5,160.3l3.5,-1.7M168.9,290.8l-1.0,-2.6M225.6,180.5l3.7,-1.0M109.1,235.9l0.5,-2.7M421.1,440.6l-2.1,2.1M108.5,302.9l-1.3,-4.4M111.5,136.3l3.2,-3.4M379.2,224.2l0.8,2.9M422.6,357.2l-1.9,3.5M193.8,367.9l-3.5,-1.7M241.8,108.2l4.4,-0.1M237.1,255.7l2.2,-3.4M184.4,365.1l-2.4,-1.4M200.3,411.2l-4.6,-1.4M201.8,205.7l2.4,-1.9M392.8,288.6l-0.9,4.9M230.3,441.7l-3.7,-0.3M394.4,270.8l-0.2,3.8M196.3,202.3l2.2,-1.9M299.5,186.3l3.4,2.4M378.1,314.8l-1.1,2.8M336.2,209.3l2.1,3.5M276.2,331.1l-3.1,1.4M292.5,228.6l2.0,2.9M77.0,324.8l-0.6,-1.6M91.9,206.0l1.5,-4.3M304.7,260.2l0.1,2.9M171.7,226.2l1.7,-3.5M241.2,144.3l3.8,-0.2M230.2,149.5l3.1,-0.4M93.2,221.9l0.5,-2.1M171.9,256.8l0.1,-1.7M251.5,374.3l-4.0,0.2M96.1,331.1l-1.3,-2.9M259.9,294.1l-2.8,1.2M262.5,292.8l-1.4,0.7M336.3,351.5l-2.6,2.6M79.9,199.0l0.7,-1.9M85.9,435.9l-1.3,-1.2M328.8,414.2l-4.1,2.2M407.0,189.9l1.1,2.5M168.0,429.7l-2.7,-1.3M354.1,297.3l-0.8,2.4M219.7,442.8l-3.4,-0.5M407.5,215.1l1.1,3.8M304.3,82.7l3.7,1.2M98.8,391.9l-2.0,-2.2M67.8,323.3l-1.3,-3.7M359.8,378.5l-2.6,2.6M122.1,314.5l-1.0,-2.4M163.5,256.2l0.2,-3.3M299.9,204.1l2.1,2.0M396.7,91.1l1.4,1.3M399.2,448.3l-2.9,2.4M359.0,251.4l0.4,4.4M319.7,105.4l2.5,1.2M409.4,114.2l2.5,2.8M133.5,309.2l-1.3,-3.2M128.3,252.8l0.3,-4.4M228.1,93.6l1.8,-0.2M109.3,326.2l-0.8,-1.8M197.1,350.7l-3.7,-2.0M317.8,247.0l0.7,3.3M94.9,298.3l-0.6,-2.5M326.6,229.9l0.7,1.9M321.5,285.4l-1.2,3.9M200.4,326.2l-3.7,-2.6M420.3,436.2l-2.1,2.0M375.6,111.2l3.5,3.0M327.0,240.0l1.0,3.9M341.4,220.0l1.1,2.4M317.9,414.1l-2.8,1.3M100.0,313.9l-0.9,-2.5M170.4,144.1l2.1,-1.3M225.3,85.5l2.3,-0.3M205.3,313.6l-1.3,-1.0M315.7,116.3l2.7,1.3M205.4,203.1l3.9,-2.7M290.6,126.5l4.2,1.4M179.0,445.9l-3.9,-1.4M373.5,335.0l-1.4,2.5M152.9,302.0l-1.1,-2.5M70.4,376.7l-1.4,-2.1M235.6,144.2l3.8,-0.4M303.8,77.9l2.8,0.9M328.7,215.9l1.9,3.5M149.1,239.0l0.5,-2.1M408.2,380.8l-2.3,3.1M249.1,183.0l1.7,0.1M403.2,215.2l0.6,1.9M165.3,385.2l-1.9,-1.3M209.4,98.4l2.8,-0.6M177.4,143.4l2.9,-1.7M363.1,230.9l0.8,3.0M261.1,317.1l-2.6,0.7M216.8,385.7l-3.4,-0.8M195.2,196.1l1.2,-1.0M106.1,342.9l-0.8,-1.4M282.0,364.7l-1.5,0.5M296.6,225.1l2.4,3.4M196.7,295.1l-1.1,-1.7M423.0,279.4l-0.5,4.7M420.6,415.1l-2.0,2.3M242.4,128.2l2.3,-0.1M66.0,303.5l-0.7,-2.9M382.7,211.4l0.9,2.4M386.8,383.2l-2.9,3.3M145.4,93.7l1.7,-1.0M286.7,230.5l1.2,1.6M228.8,150.9l2.0,-0.3M268.6,365.6l-1.6,0.3M156.0,311.3l-1.0,-1.8M160.6,166.7l3.0,-2.7M263.6,296.4l-3.3,1.6M286.8,363.3l-1.8,0.7M221.7,134.1l3.1,-0.6M356.5,409.2l-2.7,2.0M348.4,161.5l1.1,1.1M254.1,363.6l-2.3,0.2M80.2,129.7l2.2,-2.8M304.5,74.5l1.6,0.5M398.1,95.3l2.7,2.4M329.3,416.6l-2.4,1.3M397.4,176.9l2.1,3.7M161.8,402.1l-2.1,-1.2M103.2,384.6l-3.2,-3.7M272.8,192.0l2.1,0.8M290.8,276.5l-0.7,2.1M423.2,379.2l-2.6,4.0M196.7,277.8l-0.9,-2.8M373.2,196.7l1.6,3.2M423.1,285.9l-0.4,2.7M264.7,224.2l3.1,1.5M214.7,288.9l-1.2,-1.4M228.2,307.9l-2.8,-1.1M428.3,118.7l1.5,1.9M78.1,228.0l0.6,-3.0M139.7,75.9l2.1,-1.2M393.9,111.2l1.7,1.7M185.6,308.9l-1.9,-2.5M243.3,322.9l-3.6,-0.2M173.3,259.4l0.1,-4.9M273.9,112.3l3.7,0.7M311.8,228.4l1.6,3.2M75.6,94.1l2.3,-2.3M206.8,254.5l0.3,-1.6M408.3,343.5l-2.0,4.0M214.8,155.4l1.7,-0.5M308.8,186.1l2.4,2.0M113.0,309.9l-0.8,-2.2M179.4,205.7l3.1,-3.7M431.3,414.6l-2.0,2.5M399.0,235.6l0.8,4.6M154.9,146.6l1.5,-1.2M432.6,381.7l-1.8,2.7M149.6,202.9l1.4,-2.4M149.5,163.1l3.3,-3.2M279.6,78.1l2.3,0.4M188.5,106.0l3.8,-1.4M221.9,362.6l-4.3,-1.0M361.6,436.4l-1.4,0.9M200.0,176.3l3.8,-2.1M170.8,351.9l-1.6,-1.4M285.4,361.2l-3.4,1.3M165.9,188.8l2.9,-3.2M323.1,317.4l-2.8,3.9M202.7,178.4l1.5,-0.8M395.4,178.0l2.0,3.6M306.3,297.5l-1.2,2.0M398.3,308.2l-0.8,2.6M98.1,218.7l0.9,-3.0M203.3,225.2l3.2,-3.7M123.9,299.7l-0.8,-2.6M310.9,197.5l2.0,2.0M322.0,271.2l-0.4,3.2M187.4,165.1l3.6,-2.2M333.7,273.4l-0.7,4.9M397.3,172.2l1.0,1.6M99.5,331.7l-0.9,-1.9M386.2,216.1l1.1,3.3M313.0,132.7l4.3,2.2M373.3,197.6l2.0,3.9M413.9,370.5l-2.4,3.7M187.5,414.4l-1.4,-0.5M391.0,377.5l-1.8,2.2M69.4,98.3l1.9,-2.1M183.5,291.4l-0.8,-1.7M129.6,240.7l0.4,-2.4M399.0,104.9l2.1,2.0M72.6,423.2l-1.5,-1.6M248.6,355.0l-4.3,0.1M159.0,135.1l4.0,-2.7M333.4,301.4l-1.4,3.2M360.9,101.7l3.8,2.7M68.1,133.9l2.7,-3.8M316.6,229.6l0.8,1.8M327.7,165.4l2.3,1.9M198.0,170.6l3.0,-1.6M94.6,168.4l1.7,-2.7M136.5,124.9l2.5,-2.0M420.7,211.7l1.3,4.5M86.8,411.8l-1.7,-1.8M110.5,389.3l-2.9,-3.1M311.5,134.4l2.7,1.4M162.0,306.1l-0.8,-1.5M248.3,105.6l3.3,0.0M291.0,361.1l-3.4,1.5M158.1,340.6l-2.4,-2.6M348.9,198.3l1.1,1.8M393.8,338.3l-2.2,4.1M301.1,407.1l-3.8,1.4M74.0,83.0l2.9,-2.8M203.7,153.0l2.8,-1.1M131.3,229.8l0.5,-1.9M386.0,414.6l-3.3,3.0M271.4,265.8l-0.7,3.9M423.4,141.6l2.6,3.8M275.0,437.7l-2.3,0.4M305.2,419.0l-2.4,0.9M391.7,405.5l-2.8,2.8M148.7,389.8l-1.7,-1.3M309.7,84.8l4.5,1.6M401.4,352.9l-0.9,1.5M201.6,149.3l4.3,-1.7M148.6,92.1l1.8,-1.1M159.2,443.8l-2.2,-1.1M164.0,271.0l-0.2,-1.6M350.9,189.3l0.9,1.3M362.2,360.5l-1.5,1.7M299.0,85.9l4.7,1.4M127.9,407.9l-2.8,-2.3M352.8,243.4l0.7,4.2M422.9,145.9l1.5,2.3M183.5,425.8l-2.5,-1.0M138.4,361.7l-2.6,-2.8M190.9,299.3l-1.4,-2.0M303.3,382.4l-3.5,1.7M369.2,174.8l2.7,3.8M362.7,125.9l2.6,2.2M272.6,204.1l4.3,2.0M392.6,231.7l0.6,2.9M293.2,187.6l1.6,1.0M295.3,138.0l1.6,0.6M65.8,169.1l1.3,-2.6M120.7,120.0l3.0,-2.7M200.2,441.8l-2.8,-0.7M355.8,222.0l0.8,2.3M297.4,344.9l-2.8,1.7M170.6,405.2l-3.9,-2.1M249.3,94.3l3.2,0.1M66.9,96.3l2.4,-2.6M325.1,412.3l-1.6,0.8M179.3,229.8l1.2,-2.4M426.1,277.4l-0.4,4.8M204.0,92.8l2.0,-0.5M307.0,185.5l1.6,1.3M136.9,142.4l2.9,-2.7M143.5,230.6l0.7,-2.2M78.2,107.9l1.0,-1.1M77.4,253.8l0.2,-4.6M250.2,334.0l-3.2,0.2M126.4,408.4l-2.4,-2.0M375.2,167.1l1.4,1.8M218.1,433.1l-4.5,-0.7M404.7,277.6l-0.5,4.6M239.5,382.9l-4.3,-0.2M194.7,161.1l2.9,-1.5M402.5,288.0l-0.7,4.2M253.8,377.8l-4.6,0.3M196.6,327.6l-2.7,-2.1M149.0,249.1l0.3,-2.4M246.9,138.5l2.5,0.0M344.2,79.6l3.3,1.8M296.9,92.0l1.6,0.5M128.4,232.3l0.9,-3.7M207.4,331.1l-4.0,-2.2M413.2,184.5l1.1,2.3M426.7,358.1l-1.3,2.4M149.3,396.2l-2.5,-1.8M229.3,430.7l-4.9,-0.5M83.4,151.2l1.0,-1.5M325.9,444.7l-1.5,0.7M356.2,141.0l1.3,1.2M355.0,99.9l1.8,1.2M183.0,437.5l-3.6,-1.3M285.8,149.6l3.7,1.3M246.6,150.7l3.3,0.0M125.4,417.7l-2.9,-2.2M104.4,209.7l1.0,-2.8M212.9,144.9l2.3,-0.6M169.1,230.7l1.1,-2.8M245.4,312.9l-4.6,-0.1M372.7,322.5l-1.0,2.1M399.0,208.0l1.1,3.2M232.5,166.6l3.5,-0.5M273.7,293.1l-2.0,1.7M66.3,136.4l2.2,-3.2M272.9,316.8l-3.3,1.6M431.5,323.4l-0.9,2.7M297.0,277.7l-0.6,1.8M105.9,210.3l1.0,-2.7M165.1,246.5l0.4,-2.2M390.5,341.0l-1.4,2.5M428.3,372.4l-1.5,2.5M138.4,283.3l-0.7,-3.2M341.5,375.2l-3.8,3.2M322.0,249.0l0.4,2.4M215.9,195.1l1.7,-0.8M297.6,122.6l4.3,1.6M295.3,172.0l3.0,1.7M188.2,317.6l-2.5,-2.6M349.7,324.9l-1.8,2.9M177.3,326.3l-2.1,-2.2M374.1,445.3l-1.5,1.0M389.3,153.3l2.9,3.8M98.5,204.4l1.7,-4.5M204.8,102.3l4.6,-1.2M237.3,410.3l-3.4,-0.2M128.7,108.2l1.3,-1.0M331.1,370.0l-3.9,3.0M218.3,287.6l-1.2,-1.3M288.0,145.1l3.3,1.2M392.7,305.3l-1.0,3.2M200.9,183.0l3.2,-1.8M132.0,317.6l-1.5,-3.0M254.2,310.1l-4.7,0.8M390.5,257.6l0.1,3.1M281.7,158.8l2.2,0.8M153.4,124.6l4.1,-2.8M193.7,114.8l4.6,-1.7M94.6,399.9l-2.3,-2.5M148.4,404.4l-1.9,-1.3M183.9,376.5l-3.5,-1.9M97.6,186.2l1.2,-2.3M135.5,123.5l2.0,-1.6M203.7,349.5l-1.5,-0.7M374.8,439.7l-1.3,0.9M251.1,355.0l-1.6,0.1M259.3,186.3l4.6,0.8M378.1,444.9l-3.3,2.4M345.4,349.2l-3.1,3.5M384.7,413.6l-2.5,2.3M331.2,268.9l-0.3,3.0M276.6,399.9l-2.1,0.5M184.7,118.8l2.2,-1.0M82.1,234.0l0.6,-3.5M83.1,320.3l-0.6,-1.6M208.6,266.8l-0.3,-2.0M371.9,146.0l2.3,2.5M410.6,402.1l-1.3,1.5M220.1,136.8l3.1,-0.6M66.2,336.1l-1.3,-3.1M282.4,420.9l-2.2,0.5M272.4,377.4l-2.3,0.5M328.8,250.7l0.3,2.2M268.8,445.0l-4.6,0.6M329.4,137.0l3.7,2.4M156.6,350.0l-3.1,-3.1M257.9,131.2l4.4,0.4M350.2,108.3l1.9,1.3M67.1,265.4l-0.1,-4.5M308.0,319.8l-1.1,1.1M182.3,168.8l3.1,-2.1M391.4,422.1l-3.6,3.2M260.4,232.7l3.9,1.9M200.7,177.1l1.8,-0.9M119.6,174.5l2.0,-2.8M296.3,353.7l-2.4,1.3M277.3,169.4l1.8,0.6M376.3,430.5l-3.5,2.7M279.9,166.1l2.4,0.8M100.7,149.0l2.6,-3.4M358.6,293.9l-1.3,4.4M267.0,287.8l-1.4,1.1M287.3,167.0l1.6,0.7M101.0,126.6l2.6,-2.8M65.2,81.6l2.9,-2.9M282.2,216.5l1.3,1.1M400.1,126.4l2.3,2.6M346.6,295.7l-0.8,2.4M246.0,417.0l-3.1,-0.0M129.6,218.0l0.7,-1.9M352.7,278.8l-0.7,4.6M366.7,393.0l-1.7,1.5M210.5,86.7l4.4,-0.9M173.6,125.6l4.2,-2.2M256.4,347.6l-4.4,0.5M313.7,446.5l-1.8,0.7M318.3,123.8l2.5,1.3M202.4,163.3l3.5,-1.6M377.3,244.9l0.6,4.6M240.7,91.2l2.5,-0.1M396.1,138.9l2.0,2.5M296.7,148.4l4.2,1.9M351.9,365.3l-3.0,3.0M201.2,344.7l-1.4,-0.7M143.2,170.6l2.6,-3.0M214.0,291.4l-1.3,-1.4M62.1,348.2l-1.2,-2.5M365.4,324.0l-1.4,2.7M314.1,197.2l1.5,1.6M154.4,261.9l-0.0,-4.3M172.9,372.7l-4.0,-2.6M178.5,92.9l2.4,-0.9M331.3,277.6l-0.3,1.6M296.8,153.6l1.5,0.7M278.2,83.1l2.6,0.5M333.0,214.8l1.0,1.8M318.6,150.0l3.7,2.4M358.1,429.5l-3.2,2.2M170.4,176.4l2.1,-1.9M337.2,133.4l1.8,1.3M317.1,171.2l2.2,1.7M296.7,241.0l0.8,2.1M399.5,267.3l-0.1,3.6M277.4,265.7l-0.7,4.9M85.7,376.3l-2.9,-4.0M416.0,216.8l0.9,3.6M291.1,396.8l-3.9,1.3M113.6,132.3l1.8,-1.9M163.0,279.7l-0.9,-3.9M141.1,242.8l0.4,-2.5M394.5,145.0l3.1,3.9M203.3,401.8l-4.6,-1.4M237.0,107.4l2.0,-0.1M174.6,337.4l-2.2,-2.1M135.6,247.8l0.4,-3.2M107.6,185.8l1.7,-3.2M284.1,152.7l4.6,1.6M142.4,212.1l0.7,-1.5M140.7,383.9l-3.0,-2.6M213.0,85.6l2.3,-0.4M176.3,193.6l2.5,-2.5M214.4,90.5l2.8,-0.5M190.3,193.3l3.0,-2.4M75.7,128.6l2.7,-3.5M311.9,157.0l3.8,2.4M234.0,346.1l-4.8,-0.7M301.4,305.0l-1.7,2.2M309.1,233.8l0.9,2.0M117.3,105.3l1.4,-1.2M78.0,248.3l0.2,-2.7M210.1,351.8l-2.4,-1.0M267.8,221.5l4.3,2.3M308.0,116.4l2.5,1.1M291.2,296.6l-1.5,1.9M227.5,364.9l-4.0,-0.7M75.9,378.9l-2.2,-3.2M358.7,149.2l3.2,3.2M86.0,406.2l-1.2,-1.3M262.7,179.7l1.9,0.4M327.9,412.0l-2.5,1.3M262.9,323.9l-1.5,0.4M156.1,252.2l0.2,-2.3M429.7,425.4l-2.1,2.3M349.9,436.9l-2.7,1.6M202.5,79.4l1.6,-0.4M71.3,157.3l1.5,-2.6M147.4,75.7l3.5,-1.9M110.9,422.0l-3.5,-2.9M254.3,241.0l3.0,1.2M111.8,78.4l1.4,-1.0M385.6,382.4l-2.5,2.9M235.7,311.9l-3.9,-0.8M136.1,145.5l2.6,-2.5M96.4,266.9l-0.1,-3.5M105.6,389.8l-2.5,-2.7M428.7,419.5l-1.9,2.2M201.6,301.7l-1.1,-1.2M228.0,148.3l4.7,-0.8M416.0,256.4l0.1,4.5M241.6,381.4l-2.1,-0.1M92.0,205.3l1.1,-2.9M126.7,165.7l1.5,-1.9M316.2,166.0l2.4,1.8M117.3,162.9l2.9,-3.8M138.9,399.8l-1.5,-1.2M210.9,250.3l1.4,-4.3M349.0,80.2l3.8,2.1M59.2,158.6l2.0,-3.6M344.3,334.9l-1.7,2.2M181.5,264.0l-0.2,-4.6M169.7,124.5l1.6,-0.9M123.1,108.1l2.3,-1.8M116.9,83.9l3.7,-2.7M101.2,74.9l2.1,-1.6M429.8,345.1l-0.8,1.8M318.3,240.2l0.6,2.1M421.2,298.2l-0.7,3.2M179.0,96.3l4.3,-1.7M420.9,402.9l-2.3,2.9M79.8,276.5l-0.2,-1.8M65.8,376.5l-1.4,-2.1M281.7,280.7l-1.9,3.4M374.6,284.7l-0.8,4.7M183.1,178.6l2.4,-1.8M405.5,231.2l0.8,4.2M405.0,202.6l0.7,1.9M128.4,210.3l1.2,-2.8M252.9,322.9l-4.2,0.5M371.3,278.9l-0.5,3.9M319.8,406.5l-2.8,1.4M118.6,393.7l-2.5,-2.4M283.1,170.7l1.8,0.7M153.7,136.0l2.7,-2.0M273.9,91.9l4.2,0.7M180.7,419.9l-3.0,-1.2M93.1,189.2l1.8,-3.7M321.8,333.9l-1.1,1.2M134.3,408.8l-2.3,-1.8M382.7,368.6l-1.8,2.3M262.2,319.4l-2.3,0.6M350.8,171.0l2.7,3.2M314.6,378.4l-1.9,1.1M261.9,242.4l2.5,2.1M432.3,217.8l1.1,4.8M301.1,416.7l-3.3,1.2M342.2,236.3l0.5,1.9M423.4,314.7l-0.5,1.7M94.8,210.3l1.5,-4.5M187.8,295.6l-1.7,-3.0M327.6,90.5l3.1,1.5M382.8,359.2l-1.0,1.4M65.1,362.8l-1.5,-2.7M413.7,354.2l-0.9,1.6M350.1,183.9l2.1,2.8M405.8,106.4l1.6,1.6M98.1,397.1l-1.5,-1.7M382.1,87.1l3.1,2.4M156.9,363.9l-3.1,-2.7M72.7,307.1l-0.5,-1.9M66.5,332.8l-0.8,-2.1M196.5,297.9l-1.0,-1.4M133.8,421.2l-2.6,-1.8M429.2,340.0l-0.9,2.1M410.5,197.8l1.6,4.0M266.4,413.2l-3.8,0.5M329.8,250.2l0.6,4.5M132.4,331.8l-2.2,-3.5M263.6,356.9l-4.2,0.8M225.8,144.3l1.9,-0.3M125.2,189.0l1.4,-2.4M272.8,132.0l1.5,0.3M332.9,425.3l-2.3,1.2M359.3,163.5l2.4,2.8M268.9,208.0l3.0,1.3M222.8,350.2l-4.0,-1.1M131.2,332.4l-0.9,-1.5M283.7,165.5l1.8,0.7M180.5,321.0l-2.0,-2.3M144.0,85.8l3.3,-1.9M322.3,316.2l-1.6,2.2M107.0,148.6l1.8,-2.2M59.7,238.9l0.5,-3.9M96.9,215.1l0.6,-2.1M310.4,125.0l3.2,1.5M215.5,439.4l-4.4,-0.8M347.5,204.4l1.0,1.7M149.2,212.1l2.0,-3.9M59.4,399.6l-1.6,-2.1M379.0,395.3l-2.9,2.9M366.1,427.2l-3.8,2.8M83.8,130.2l2.9,-3.6M219.4,319.2l-1.5,-0.7M241.6,343.5l-2.1,-0.1M180.9,223.7l2.3,-4.0M254.7,392.0l-2.1,0.1M236.8,428.1l-4.0,-0.2M227.9,246.3l1.5,-1.8M77.2,133.6l1.6,-2.1M76.4,323.6l-0.9,-2.6M124.5,223.0l0.7,-2.2M413.7,211.9l0.9,3.1M345.1,208.3l1.2,2.1M206.4,188.2l3.8,-2.1M232.7,293.5l-2.6,-1.1M139.2,256.8l0.2,-3.9M367.7,81.2l3.8,2.6M248.6,407.9l-4.2,0.1M195.1,396.8l-4.0,-1.5M62.6,432.0l-2.0,-2.2M136.9,277.1l-0.6,-4.1M354.4,359.0l-1.6,1.8M252.6,254.9l1.3,1.3M400.0,232.9l0.6,3.2M208.5,394.0l-1.7,-0.5M104.3,176.5l0.9,-1.5M65.6,97.2l2.6,-2.9M259.3,114.6l2.3,0.2M375.9,296.6l-1.0,3.7M135.0,222.2l0.7,-1.9M324.9,175.5l2.4,2.2M292.8,283.6l-2.1,4.5M315.8,204.9l1.1,1.3M142.8,338.1l-2.3,-3.0M292.1,188.6l2.0,1.3M300.0,260.9l0.0,3.1M79.8,231.3l0.3,-1.9M313.8,74.4l4.7,1.7M139.0,234.9l1.1,-4.5M353.2,291.5l-0.6,2.1M387.9,406.8l-1.8,1.8M166.8,117.9l3.8,-2.1M196.4,135.2l3.4,-1.4M236.5,157.7l3.9,-0.4M415.1,199.9l1.4,4.0M158.7,245.3l0.4,-2.4M338.8,370.8l-3.3,2.8M373.5,421.7l-2.2,1.8M270.6,368.9l-4.4,1.0M397.7,406.0l-1.4,1.5M220.8,114.9l3.1,-0.5M111.1,361.1l-2.8,-3.8M113.5,446.5l-3.4,-2.4M427.3,368.0l-2.4,4.1M118.8,204.0l1.4,-3.1M115.7,175.9l2.3,-3.5M237.0,423.7l-4.6,-0.3M129.8,218.1l1.3,-3.6M150.9,236.8l1.1,-4.2M145.7,187.0l1.6,-2.2M345.5,210.5l2.2,4.3M315.5,308.5l-2.3,3.4M187.6,95.5l1.5,-0.5M181.2,388.2l-3.1,-1.6M174.0,100.3l3.8,-1.7M329.3,333.7l-2.3,2.6M232.7,235.1l2.8,-1.4M123.2,338.2l-0.8,-1.3M171.1,257.1l0.3,-4.8M314.3,152.9l2.1,1.3M377.7,428.5l-2.7,2.1M194.7,222.9l2.8,-3.8M410.9,130.7l1.8,2.3M221.1,146.9l2.9,-0.6M184.0,231.3l1.0,-2.1M163.0,359.2l-1.4,-1.2M113.2,152.1l2.6,-3.2M263.5,160.8l3.7,0.6M371.7,419.0l-3.5,2.8M136.9,230.6l1.0,-3.4M172.6,392.9l-1.9,-1.1M338.2,132.2l2.9,2.1M428.4,275.7l-0.2,2.3M297.3,392.2l-3.8,1.5M418.9,322.9l-1.6,4.4M341.0,417.3l-1.9,1.1M194.0,136.7l2.3,-1.0M109.0,113.0l3.3,-3.0M363.1,365.0l-1.9,2.1M201.0,237.7l1.3,-2.4M197.3,110.3l2.3,-0.7M252.7,205.4l4.5,0.5M386.1,340.8l-1.3,2.3M420.0,340.7l-1.0,2.1M165.8,227.7l1.9,-4.5M265.1,324.2l-3.5,1.1M74.0,192.5l1.3,-3.4M214.0,186.0l4.1,-1.7M300.6,310.9l-2.9,3.1M420.0,428.4l-1.9,1.9M257.1,94.2l3.1,0.2M183.9,195.4l1.3,-1.2M243.1,303.4l-2.6,-0.2M349.0,282.2l-0.6,2.8M244.8,105.2l4.7,-0.0M198.2,193.0l1.8,-1.2M383.9,444.1l-2.7,2.1M61.1,149.4l2.2,-3.7M103.8,174.2l0.9,-1.5M157.0,274.9l-0.2,-1.5M315.3,363.8l-2.2,1.5M166.6,433.3l-2.4,-1.1M291.1,248.5l1.0,3.5M172.7,155.8l2.6,-1.8M339.5,198.6l0.9,1.3M208.6,431.5l-2.6,-0.6M331.5,338.0l-3.0,3.4M92.7,367.4l-2.7,-4.0M380.3,304.4l-1.0,3.2M69.9,213.4l0.5,-2.0M277.8,172.2l4.3,1.5M239.5,430.6l-2.3,-0.1M431.0,160.4l1.9,3.5M248.5,397.3l-2.5,0.0M158.3,250.1l0.5,-3.8M411.7,207.6l0.9,2.7M357.2,370.1l-1.7,1.7M345.2,296.2l-0.9,2.5M84.9,351.4l-1.4,-2.6M419.9,425.4l-3.2,3.4M122.2,318.7l-2.0,-4.4M423.6,239.9l0.5,3.9M139.6,384.2l-3.2,-2.8M235.2,172.4l4.4,-0.5M309.9,381.8l-1.4,0.7M378.7,126.2l1.2,1.2M244.2,96.5l4.6,-0.1M222.5,371.4l-2.0,-0.4M307.0,386.3l-2.9,1.4M390.3,187.6l1.9,3.7M201.5,204.8l3.0,-2.4M229.1,318.9l-2.7,-0.8M252.5,128.2l4.2,0.2M140.1,364.2l-1.9,-1.9M347.0,297.8l-0.5,1.5M390.2,314.0l-1.1,3.1M227.2,290.7l-1.9,-1.2M254.1,112.4l2.4,0.1M80.4,179.5l0.8,-1.5M300.7,260.1l0.1,2.6M73.5,157.8l2.5,-4.1M255.7,318.1l-4.2,0.7M368.2,432.4l-2.4,1.7M174.7,101.8l1.9,-0.9M333.9,271.1l-0.3,2.5M94.8,89.2l2.4,-2.1M193.8,315.3l-1.7,-1.7M200.5,77.6l2.7,-0.7M348.1,235.3l0.8,3.0M215.0,424.7l-4.9,-0.9M123.4,194.0l1.2,-2.1M289.9,282.7l-0.8,1.6M374.7,162.4l1.3,1.7M311.7,240.5l0.7,2.2M72.3,243.1l0.5,-4.7M189.0,187.5l3.4,-2.6M176.0,167.8l1.9,-1.5M237.9,326.9l-3.8,-0.5M379.0,293.0l-0.9,3.8M377.9,380.3l-3.2,3.5M154.1,353.6l-1.9,-1.9M106.9,110.9l3.3,-3.1M190.0,244.6l1.0,-3.4M221.3,258.5l0.2,-1.7M206.2,385.4l-3.4,-1.1M133.3,156.7l3.3,-3.5M134.5,422.4l-1.3,-0.9M256.0,353.4l-3.0,0.3M239.1,170.6l4.7,-0.4M137.8,155.3l1.6,-1.6M149.0,317.9l-1.2,-2.0M393.8,265.2l-0.1,4.8M373.7,434.2l-2.4,1.8M398.4,192.0l1.7,3.8M176.7,125.5l2.2,-1.1M169.9,319.2l-2.8,-3.7M138.1,153.9l1.2,-1.2M366.2,181.2l2.4,3.6M100.6,186.4l2.0,-3.8M243.3,319.0l-4.5,-0.2M75.3,278.0l-0.3,-3.0M146.0,204.4l1.2,-2.1M359.5,111.5l2.3,1.7M335.6,362.6l-1.6,1.4M227.9,406.6l-2.2,-0.3M146.3,104.8l2.7,-1.7M353.3,346.1l-1.3,1.6M65.0,146.9l2.0,-3.1M176.4,234.9l0.7,-1.8M122.2,291.4l-1.1,-4.6M143.6,177.1l2.5,-3.0M138.8,261.0l0.0,-2.5M368.3,347.3l-2.4,3.5M150.3,304.2l-1.2,-2.8M323.5,154.1l1.7,1.2M159.6,331.3l-2.4,-3.0M171.9,259.9l0.0,-1.6M348.5,436.5l-2.2,1.3M410.3,396.5l-2.0,2.4M138.8,376.0l-1.8,-1.7M219.9,111.5l4.0,-0.7M165.3,342.0l-2.0,-2.0M270.8,409.8l-3.7,0.6M255.2,168.9l2.2,0.2M101.1,160.3l1.0,-1.5M233.8,197.0l3.2,-0.6M194.0,125.7l2.0,-0.8M238.1,422.8l-2.3,-0.1M301.1,392.9l-2.2,0.9M119.7,309.3l-1.1,-2.8M211.0,372.0l-2.1,-0.7M347.8,435.3l-4.0,2.3M173.9,77.9l3.3,-1.3" stroke="#2a2a2a" stroke-width="1.2" fill="none"/></g>
<linearGradient id="lg0" gradientUnits="userSpaceOnUse" x1="241.66" y1="259.51" x2="156.31" y2="222.58"><stop offset="0" stop-color="#fff" stop-opacity="0.85"/><stop offset="1" stop-color="#fff" stop-opacity="0.25"/></linearGradient>
<path d="M241.66,259.51L156.31,222.58" stroke="url(#lg0)" stroke-width="1.4"/>
<linearGradient id="lg1" gradientUnits="userSpaceOnUse" x1="243.31" y1="265.55" x2="209.81" y2="311.66"><stop offset="0" stop-color="#fff" stop-opacity="0.7"/><stop offset="1" stop-color="#fff" stop-opacity="0.25"/></linearGradient>
<path d="M243.31,265.55L209.81,311.66" stroke="url(#lg1)" stroke-width="1.4"/>
<path d="M286.85,338.00L294.85,338.70L296.55,343.30L292.15,342.00L289.55,345.30L289.55,350.00L289.55,361.30L287.55,361.30L286.15,352.00L284.15,348.00L286.85,343.30Z" fill="none" stroke="#fff" stroke-opacity="0.7" stroke-width="2.8" stroke-linejoin="round"/>
<path d="M299.55,346.70L304.15,349.30L306.85,352.70L304.85,354.70L302.85,353.30L299.55,348.70Z" fill="none" stroke="#fff" stroke-opacity="0.7" stroke-width="2.8" stroke-linejoin="round"/>
<path d="M310.85,346.70L315.55,346.30L318.15,348.00L322.85,343.30L327.55,347.70L322.15,352.70L318.85,350.00L315.55,352.00L314.85,358.00L313.55,362.70L309.55,356.70L312.15,352.00L310.85,348.70Z" fill="none" stroke="#fff" stroke-opacity="0.7" stroke-width="2.8" stroke-linejoin="round"/>
<path d="M82.15,277.00L88.45,276.30L89.85,282.60L87.75,291.00L89.85,302.30L94.85,307.20L91.35,309.30L84.25,305.10L82.85,296.70L81.45,291.00L82.85,278.40Z" fill="none" stroke="#fff" stroke-opacity="0.7" stroke-width="2.8" stroke-linejoin="round"/>
<path d="M105.35,305.80L110.95,307.20L116.55,313.50L112.35,316.30L109.55,314.90L106.75,309.30Z" fill="none" stroke="#fff" stroke-opacity="0.7" stroke-width="2.8" stroke-linejoin="round"/>
<path d="M85.65,328.20L91.35,327.50L96.95,331.80L103.95,338.80L102.55,341.60L98.35,340.20L94.15,334.60L88.45,330.40Z" fill="none" stroke="#fff" stroke-opacity="0.7" stroke-width="2.8" stroke-linejoin="round"/>
<path d="M106.75,338.10L110.95,337.40L117.25,346.50L115.15,348.60L109.55,347.90L107.45,343.00Z" fill="none" stroke="#fff" stroke-opacity="0.7" stroke-width="2.8" stroke-linejoin="round"/>
<path d="M237.50,283.80L244.25,289.30L251.00,297.95L257.15,306.55L265.15,317.55L268.80,323.10L274.30,331.75L276.80,332.95L279.20,335.45" fill="none" stroke="#fff" stroke-opacity="0.6" stroke-width="4.6" stroke-linejoin="round"/>
<path d="M286.85,338.00L294.85,338.70L296.55,343.30L292.15,342.00L289.55,345.30L289.55,350.00L289.55,361.30L287.55,361.30L286.15,352.00L284.15,348.00L286.85,343.30Z" fill="#ffff00" stroke="#ffff00" stroke-width="0.8" stroke-linejoin="round"/>
<path d="M299.55,346.70L304.15,349.30L306.85,352.70L304.85,354.70L302.85,353.30L299.55,348.70Z" fill="#ffff00" stroke="#ffff00" stroke-width="0.8" stroke-linejoin="round"/>
<path d="M310.85,346.70L315.55,346.30L318.15,348.00L322.85,343.30L327.55,347.70L322.15,352.70L318.85,350.00L315.55,352.00L314.85,358.00L313.55,362.70L309.55,356.70L312.15,352.00L310.85,348.70Z" fill="#ffff00" stroke="#ffff00" stroke-width="0.8" stroke-linejoin="round"/>
<path d="M82.15,277.00L88.45,276.30L89.85,282.60L87.75,291.00L89.85,302.30L94.85,307.20L91.35,309.30L84.25,305.10L82.85,296.70L81.45,291.00L82.85,278.40Z" fill="#ffff00" stroke="#ffff00" stroke-width="0.8" stroke-linejoin="round"/>
<path d="M105.35,305.80L110.95,307.20L116.55,313.50L112.35,316.30L109.55,314.90L106.75,309.30Z" fill="#ffff00" stroke="#ffff00" stroke-width="0.8" stroke-linejoin="round"/>
<path d="M85.65,328.20L91.35,327.50L96.95,331.80L103.95,338.80L102.55,341.60L98.35,340.20L94.15,334.60L88.45,330.40Z" fill="#ffff00" stroke="#ffff00" stroke-width="0.8" stroke-linejoin="round"/>
<path d="M106.75,338.10L110.95,337.40L117.25,346.50L115.15,348.60L109.55,347.90L107.45,343.00Z" fill="#ffff00" stroke="#ffff00" stroke-width="0.8" stroke-linejoin="round"/>
<path d="M238.30,283.50L245.05,289.00L251.80,297.65L257.95,306.25L265.95,317.25L269.60,322.80L275.10,331.45L277.60,332.65L280.00,335.15" fill="none" stroke="#ffff00" stroke-width="3" stroke-linejoin="round"/>
<path d="M254.65,261.50L254.84,260.75L255.46,259.88L254.39,259.32L254.25,258.59L254.11,257.83L253.07,257.57L253.23,256.61L252.96,255.87L252.67,255.08L251.19,255.61L250.90,254.86L250.09,254.85L250.10,253.24L249.29,253.15L248.21,254.17L247.89,252.18L247.07,252.11L246.25,252.69L245.49,252.80L244.89,253.80L244.30,254.23L243.32,253.46L243.03,254.59L242.31,254.68L241.67,254.96L241.39,255.71L240.29,255.54L239.83,256.11L241.99,258.52L241.75,258.90L241.54,259.30L241.36,259.72L241.23,260.15L241.13,260.60L241.07,261.05L241.05,261.50L237.10,262.30L237.84,262.98L237.77,263.77L238.26,264.41L238.25,265.23L238.96,265.71L241.99,264.48L242.27,264.84L242.57,265.18L242.91,265.48L243.27,265.76L243.65,266.00L242.85,268.80L243.00,270.42L243.79,270.67L244.66,270.54L245.47,270.38L246.25,269.63L246.94,269.43L247.65,269.46L248.23,268.88L249.34,269.99L249.76,269.02L250.85,269.46L251.00,268.28L252.30,268.71L252.75,268.00L252.00,266.32L252.74,266.04L254.32,266.16L253.90,265.07L255.14,264.74L254.26,263.65L253.78,262.83L254.98,262.26ZM253.25,262.57L260.96,261.98L262.46,261.50L260.96,261.02L253.25,260.43ZM253.32,262.98L255.68,261.91L257.15,261.05L255.62,260.32L253.17,259.45ZM253.32,261.84L253.11,261.28L254.55,260.66L253.01,260.35L253.11,259.76ZM253.41,262.09L252.43,261.34L253.81,260.42L252.23,259.92L252.95,258.93ZM253.36,261.44L258.07,259.86L259.44,259.03L257.86,258.76L252.90,258.99ZM253.28,260.82L259.85,258.77L261.21,258.02L259.66,257.95L252.86,259.01ZM253.31,260.70L252.84,260.14L254.13,259.19L252.53,259.09L252.62,258.36ZM253.45,260.91L254.49,259.52L255.65,258.28L253.98,258.02L252.30,257.56ZM253.36,260.40L254.66,258.86L255.76,257.59L254.08,257.46L252.08,257.28ZM253.30,260.05L255.42,258.06L256.47,256.76L254.80,256.71L251.90,257.05ZM253.27,259.78L252.27,259.19L253.22,257.78L251.51,257.77L251.58,256.62ZM253.07,259.28L253.67,257.92L254.60,256.55L252.95,256.71L251.47,256.58ZM252.58,258.38L253.85,256.96L254.89,255.81L253.42,256.31L251.61,256.92ZM252.54,258.26L256.60,254.63L257.54,253.38L256.05,253.87L251.32,256.57ZM252.48,258.08L254.53,255.55L255.34,254.17L253.82,254.67L250.91,256.13ZM252.33,257.77L255.42,253.90L256.10,252.43L254.58,252.99L250.47,255.75ZM251.78,257.11L252.34,255.76L253.07,254.38L251.72,255.17L250.40,255.79ZM251.56,256.82L257.57,248.80L258.18,247.35L256.85,248.20L249.96,255.47ZM251.90,257.02L256.80,249.09L257.10,247.43L255.56,248.14L249.14,254.89ZM251.65,256.74L258.06,246.01L258.31,244.35L256.83,245.14L248.90,254.81ZM250.72,256.04L253.20,251.12L253.65,249.63L252.51,250.69L249.19,255.08ZM250.62,255.93L256.74,244.04L257.08,242.50L255.93,243.57L248.81,254.90ZM250.81,255.95L251.48,252.58L251.49,250.92L250.17,251.94L247.90,254.51ZM249.90,255.45L250.92,251.72L251.11,250.17L250.11,251.37L248.11,254.68ZM249.59,255.27L249.28,254.48L249.35,252.91L248.41,254.17L247.66,254.57ZM249.62,255.20L252.28,243.68L252.10,242.06L251.06,243.32L246.91,254.39ZM248.93,254.96L251.49,242.48L251.42,240.92L250.62,242.26L246.98,254.47ZM248.91,254.91L248.96,251.35L248.72,249.77L247.86,251.12L246.47,254.39ZM248.57,254.79L248.29,252.55L248.02,250.99L247.26,252.38L246.26,254.40ZM248.19,254.68L247.73,253.09L247.38,251.54L246.69,252.97L245.88,254.41ZM248.05,254.58L247.93,240.94L247.35,239.41L246.62,240.87L245.14,254.44ZM247.13,254.49L246.55,246.52L246.12,245.02L245.71,246.53L245.25,254.51ZM247.63,254.43L246.69,254.57L245.85,253.10L245.15,254.64L244.21,254.59ZM246.33,254.45L244.47,241.20L243.95,239.75L243.74,241.28L244.70,254.63ZM246.63,254.34L244.75,248.04L243.83,246.67L243.39,248.27L243.61,254.84ZM245.65,254.47L242.30,240.98L241.61,239.60L241.53,241.15L243.94,254.83ZM246.07,254.30L242.54,244.74L241.41,243.49L241.06,245.13L242.79,255.18ZM245.55,254.36L241.66,245.45L240.50,244.25L240.30,245.90L242.53,255.36ZM244.99,254.46L242.48,250.44L241.30,249.30L241.24,250.94L242.24,255.57ZM244.31,254.67L238.47,244.09L237.32,242.98L237.48,244.56L242.11,255.72ZM244.03,254.72L237.54,244.65L236.27,243.64L236.47,245.25L241.64,256.06ZM243.67,254.85L240.53,251.32L239.20,250.39L239.48,251.99L241.33,256.33ZM243.35,254.97L242.62,255.32L241.22,254.47L241.57,256.07L241.01,256.64ZM242.99,255.12L236.33,248.32L234.84,247.59L235.26,249.19L240.63,257.06ZM242.57,255.39L237.32,250.72L235.85,250.02L236.40,251.55L240.53,257.24ZM241.92,255.93L236.35,251.07L235.01,250.29L235.79,251.63L240.67,257.18ZM241.94,255.81L242.84,257.64L241.30,257.12L242.01,258.59L240.08,257.91ZM239.13,260.83L232.42,262.39L231.00,263.22L232.57,263.70L239.46,263.74ZM239.09,261.00L231.04,263.16L229.67,264.11L231.27,264.59L239.58,264.17ZM239.16,261.87L224.56,265.80L223.21,266.65L224.79,266.84L239.68,264.18ZM239.26,262.50L234.16,264.47L232.83,265.28L234.39,265.28L239.77,264.30ZM239.09,262.19L227.01,267.24L225.83,268.42L227.49,268.64L240.15,265.31ZM239.36,263.13L226.60,268.94L225.39,269.95L226.97,269.84L240.17,265.13ZM239.44,263.43L234.02,266.55L232.86,267.61L234.42,267.43L240.33,265.38ZM239.37,263.42L234.99,266.54L233.95,267.79L235.57,267.68L240.67,265.96ZM239.37,263.59L241.28,263.52L240.35,264.91L242.02,264.80L241.01,266.43ZM243.32,267.93L242.99,270.79L242.97,272.34L243.81,271.03L245.12,268.47ZM243.28,267.96L241.76,276.53L241.93,278.12L242.85,276.81L245.69,268.59ZM243.29,268.05L242.27,277.62L242.68,279.24L243.69,277.91L246.45,268.68ZM244.33,268.31L243.26,280.44L243.50,281.99L244.15,280.56L246.31,268.57ZM244.87,268.41L244.98,272.52L245.22,274.04L245.71,272.58L246.49,268.54ZM245.06,268.47L245.18,282.37L245.58,283.89L246.06,282.40L247.02,268.53ZM244.86,268.52L245.81,276.28L246.51,277.77L247.16,276.26L247.86,268.48ZM245.18,268.59L246.95,281.83L247.75,283.28L248.35,281.74L248.28,268.38ZM245.38,268.65L248.37,285.82L249.31,287.22L249.89,285.64L248.77,268.25ZM245.86,268.65L249.98,289.05L250.89,290.43L251.33,288.84L248.86,268.17ZM246.25,268.64L249.36,279.98L250.29,281.32L250.62,279.73L249.05,268.07ZM246.76,268.61L250.32,278.84L251.30,280.13L251.51,278.52L249.40,267.90ZM246.85,268.69L254.39,287.88L255.62,289.05L255.88,287.37L250.16,267.57ZM247.91,268.37L255.12,284.98L256.10,286.20L255.96,284.64L249.78,267.63ZM247.91,268.45L257.92,287.96L259.14,289.04L259.10,287.41L250.52,267.23ZM248.09,268.47L252.86,275.32L254.25,276.27L254.21,274.59L251.08,266.85ZM248.85,268.14L263.06,289.31L264.36,290.26L264.07,288.67L251.11,266.71ZM248.94,268.18L255.95,276.34L257.45,277.11L257.20,275.44L251.72,266.19ZM249.99,267.48L257.54,275.96L258.80,276.87L258.16,275.45L251.36,266.36ZM249.78,267.74L261.08,278.94L262.61,279.58L262.13,277.99L252.11,265.64ZM250.07,267.58L253.61,269.85L255.18,270.39L254.63,268.82L252.35,265.30ZM250.75,266.95L265.69,279.96L267.10,280.65L266.29,279.32L252.06,265.52ZM251.02,266.71L264.92,277.63L266.34,278.26L265.46,276.98L252.23,265.26ZM250.89,266.96L260.14,272.99L261.75,273.35L260.98,271.90L252.74,264.54ZM251.09,266.85L261.53,272.70L263.21,272.88L262.40,271.39L253.04,263.95ZM251.80,265.85L263.94,272.54L265.44,272.97L264.35,271.86L252.71,264.33ZM251.90,265.78L258.31,268.56L259.87,268.84L258.78,267.69L252.93,263.86ZM252.04,265.65L259.71,268.42L261.32,268.51L260.22,267.34L253.15,263.25ZM252.36,265.09L258.76,266.94L260.34,267.02L259.13,266.01L253.17,263.02ZM252.34,265.34L262.13,267.65L263.80,267.40L262.62,266.20L253.43,262.12ZM252.49,265.14L262.09,266.89L263.75,266.54L262.53,265.36L253.47,261.74ZM252.84,264.05L258.65,264.83L260.21,264.73L258.85,263.95L253.30,262.10ZM252.90,264.09L257.60,264.14L259.19,263.77L257.82,262.89L253.39,261.33ZM253.01,263.74L263.19,264.39L264.75,264.01L263.35,263.22L253.36,261.14ZM253.11,263.45L261.23,263.39L262.78,262.91L261.34,262.17L253.34,260.74ZM253.22,262.60L259.95,262.34L261.46,262.00L259.97,261.56L253.27,260.87Z" fill="#ffff00"/>
<path d="M99.05,322.60L109.85,316.50" stroke="#ffff00" stroke-width="1.3"/>
<path d="M205.75,317.00L209.75,311.50" stroke="#ffff00" stroke-width="2.2" stroke-linecap="round"/>
<path d="M303.25,236.00L310.25,233.50" stroke="#ffff00" stroke-width="2" stroke-linecap="round"/>
<circle cx="246.25" cy="261.50" r="4.8" fill="#6e6e6e"/>
<ellipse cx="419.65" cy="172.50" rx="3.2" ry="1.8" transform="rotate(40 419.65 172.50)" fill="#bbb"/>
<ellipse cx="213.05" cy="148.00" rx="1.3" ry="2" fill="#999"/>
<path d="M98.7,74L93.5,80.9L91.2,84.3L92.3,94.7L95.2,98.1L98.1,105L101.5,110.8L108.4,111.4L112.4,108.3L115.3,108.5L117.6,107.3L121.1,106.2L122.8,100.4L123.4,98.7L128,97L129.1,93.5L131.4,90.1L134.3,89.5L132.6,85.5L133.1,80.9L132,74" fill="none" stroke="#fff" stroke-width="1.35" stroke-linejoin="round"/>
<path d="M59,179.3L69.5,179.3L71.6,176.9L73.7,173.1L76.6,173.7L82.2,176.9L88.5,181.4L98.3,178.3L106.8,174.8L116.6,169.2L127.1,162.1L127.8,154.4L130.3,153.7L131.3,148.8L133.4,146.7L131.8,143.9L128.5,143.2L127.8,146L124.7,141.8L127.8,139.7L130.6,134.5L153.9,133.2L154.6,145.8L158.1,146.2L163,146.2L163.7,138.1L162.3,136L163,133.6L166.6,133.2L168.7,131.8L170.1,134.6L173.6,136L179.2,136L186.2,139.2L191.1,137.4L198.2,138.1L203.1,139.5L205.2,142L208,143.4L212.2,142.3L213.9,140.2L216.4,142L220.6,141.6L224.8,136.7L227,138.1L233.3,136L235.4,133.2L238.2,134.6L238.9,131.1L243.6,127.4L247.6,125.4L249.9,126.8L253.4,123.9L256.2,122.8L254.5,126.2L257.4,127.9L259.7,126.8L260.3,123.9L262.6,122.8L263.4,116.7L270.6,117L271.8,121.6L276.9,120.5L279.8,122.8L282.7,132.5L283.3,137.1L275.8,136.9L278.1,145.7L284.4,144L285.6,140.6L290.1,144.6L294.7,142.3L293,137.7L295.3,140.6L305.7,136.6L301.6,129.1L294.2,132L287.3,129.1L294.7,124.5L287.3,109.5L298.8,104.4L308.5,123.9L312,123.3L312.6,126.8L308,128.5L309.1,132.5L319.5,127.4L314.3,117L315.4,114.7L319.5,118.7L320.6,121L325.2,116.4L324.1,114.1L321.8,114.7L322.3,111.8L311.8,102.9L317.8,96.2L332.5,107.8L337.8,101.1L335.3,99L332.9,101.1L320.2,90.2L323,81.5L330.1,79L337.1,81.1L351.1,85.3L351.8,82.5L352.6,75.4L350.3,75.2L348.2,80L346.6,78.9L347.1,76.6L341.1,74.3" fill="none" stroke="#fff" stroke-width="1.35" stroke-linejoin="round"/>
<ellipse cx="87.2" cy="85.1" rx="1.3" ry="1.6" fill="#fff"/>
<ellipse cx="248.8" cy="114.7" rx="1.3" ry="1.6" fill="#fff"/>
</svg>
<defs>
<radialGradient id="gb" gradientUnits="userSpaceOnUse" cx="667.45" cy="261.5" r="110">
<stop offset="0" stop-color="#1440f8"/><stop offset="0.15" stop-color="#0a2ad4"/><stop offset="0.32" stop-color="#0416ac"/><stop offset="0.5" stop-color="#000c92"/><stop offset="1" stop-color="#000080"/></radialGradient>
<radialGradient id="gr" gradientUnits="userSpaceOnUse" cx="667.45" cy="261.5" r="90">
<stop offset="0" stop-color="#ff6010"/><stop offset="0.35" stop-color="#ff4410"/><stop offset="0.7" stop-color="#ff2e08"/><stop offset="1" stop-color="#ff2000"/></radialGradient>
<clipPath id="redclip"><path d="M667.45,261.5L672.65,257.3L678.35,255.2L688.15,250.3L693.75,244.7L700.75,242.6L710.65,241.9L716.25,243.3L720.45,246.1L728.85,247.5L733.05,250.3L731.65,253.1L740.85,258L735.85,260.1L745.75,265.7L735.85,267.1L730.55,270L726.95,273.7L742.95,274.2L755.55,274.9L740.05,278.4L741.65,282.3L746.05,285.5L742.85,287.2L736.75,286L733.05,289.7L737.95,296.4L731.85,294.6L721.95,287.2L714.65,289.7L720.75,298.3L726.95,300.7L725.65,309.3L719.55,309.3L719.55,316.7L713.35,314.2L714.15,327.9L707.85,332.1L703.55,330.7L700.05,338.5L695.15,330.7L688.15,318.1L676.95,305.4L667.05,290L658.05,282.1L663.75,265.3Z"/></clipPath>
<filter id="oblur" x="-50%" y="-50%" width="200%" height="200%"><feGaussianBlur stdDeviation="6"/></filter>
</defs>
<path d="M667.45,261.5L661.85,257.7L630.75,230L625.55,208.9L619.55,190.7L614.75,175.8L615.85,169.5L618.45,170.5L619.55,173.7L623.75,170.5L625.85,171.6L629.55,169.5L633.75,175.8L640.05,187.4L639.55,171.6L643.25,164.2L646.35,158.9L649.55,158.9L652.65,163.2L654.75,169.5L663.25,176.8L667.45,175.8L669.55,157.9L671.65,157.9L673.75,162.1L677.05,160.5L684.05,167.5L687.55,167.5L689.35,181.6L697.25,164L700.75,171L690.25,202.6L705.15,176.3L714.75,174.6L712.15,186.8L708.65,193.9L692.85,227.2L712.15,207.9L738.45,190.4L743.75,186.8L740.25,195.6L745.45,202.6L745.45,213.2L736.75,220.2L745.45,223.7L727.95,230.7L722.65,237.7L731.45,241.2L715.65,241.2L710.65,241.9L700.75,242.6L693.75,244.7L688.15,250.3L678.35,255.2L672.65,257.3Z" fill="url(#gb)" shape-rendering="crispEdges"/>
<path d="M667.45,261.5L662.25,261.8L604.75,265.3L597.65,268.8L593.45,271.6L599.05,275.1L594.85,285L603.35,286.3L601.95,294.8L607.55,293.4L613.15,287.8L622.95,289.9L662.25,264.6Z" fill="url(#gb)" shape-rendering="crispEdges"/>
<path d="M667.45,261.5L672.65,257.3L678.35,255.2L688.15,250.3L693.75,244.7L700.75,242.6L710.65,241.9L716.25,243.3L720.45,246.1L728.85,247.5L733.05,250.3L731.65,253.1L740.85,258L735.85,260.1L745.75,265.7L735.85,267.1L730.55,270L726.95,273.7L742.95,274.2L755.55,274.9L740.05,278.4L741.65,282.3L746.05,285.5L742.85,287.2L736.75,286L733.05,289.7L737.95,296.4L731.85,294.6L721.95,287.2L714.65,289.7L720.75,298.3L726.95,300.7L725.65,309.3L719.55,309.3L719.55,316.7L713.35,314.2L714.15,327.9L707.85,332.1L703.55,330.7L700.05,338.5L695.15,330.7L688.15,318.1L676.95,305.4L667.05,290L658.05,282.1L663.75,265.3Z" fill="url(#gr)" shape-rendering="crispEdges"/>
<path d="M725.3,206.5h3.1v3.4h-3.1zM732.4,205.7h3.5v3.9h-3.5zM731.3,210.0h3.3v3.8h-3.3zM738.4,202.0h1.6v2.7h-1.6zM739.6,205.3h3.9v3.1h-3.9zM717.6,214.6h3.8v1.8h-3.8zM732.8,216.9h2.7v2.1h-2.7zM730.3,222.6h2.9v2.9h-2.9zM735.9,221.9h1.5v2.0h-1.5zM725.8,225.9h2.2v3.8h-2.2zM707.9,188.8h3.4v1.9h-3.4zM705.4,179.0h3.5v1.8h-3.5zM687.2,176.6h3.0v1.8h-3.0zM686.1,210.1h1.5v3.7h-1.5zM695.1,225.6h2.0v2.0h-2.0zM740.8,210.1h4.0v3.7h-4.0zM698.9,194.0h2.2v3.9h-2.2zM695.6,203.4h2.8v3.2h-2.8zM703.0,212.1h2.0v3.9h-2.0zM714.4,220.0h3.2v3.9h-3.2zM720.2,230.9h3.7v2.2h-3.7zM648.8,172.0h2.4v1.9h-2.4zM639.1,177.2h1.9v1.7h-1.9zM674.9,168.5h2.3v3.0h-2.3zM727.3,282.4h1.5v3.2h-1.5zM722.9,290.9h2.3v2.3h-2.3zM732.3,269.6h3.5v2.7h-3.5zM716.9,294.6h2.3v2.7h-2.3zM728.4,261.2h3.3v1.6h-3.3zM737.1,267.2h3.9v1.6h-3.9z" fill="#fff"/>
<g clip-path="url(#redclip)"><path d="M667.45,263.5L661.45,283.5L673.45,306.5L689.45,329.5L701.45,339.5L707.45,327.5L693.45,301.5L681.45,279.5L675.45,265.5Z" fill="#ff9a30" filter="url(#oblur)" opacity="0.85"/></g>
<path d="M656.85,282.70L665.85,290.60L675.75,306.00L686.95,318.70L693.95,331.30L698.85,339.10" fill="none" stroke="#000070" stroke-width="1.5" stroke-dasharray="14 2 6 2"/>
<path d="M594.25,192.10L628.65,220.20" stroke="#000080" stroke-width="3.2" stroke-dasharray="7 2 12 3"/>
<path d="M593.95,193.50L627.45,222.00" stroke="#f01000" stroke-width="2.4" stroke-dasharray="6 2 3 3 2 4"/>
<path d="M710.05,339.50L718.05,340.20L719.75,344.80L715.35,343.50L712.75,346.80L712.75,351.50L712.75,362.80L710.75,362.80L709.35,353.50L707.35,349.50L710.05,344.80Z" fill="#000060" stroke="#000060" stroke-width="0.8"/>
<path d="M708.05,338.00L716.05,338.70L717.75,343.30L713.35,342.00L710.75,345.30L710.75,350.00L710.75,361.30L708.75,361.30L707.35,352.00L705.35,348.00L708.05,343.30Z" fill="#f00000" stroke="#f00000" stroke-width="0.8"/>
<path d="M722.75,348.70L727.35,351.30L730.05,354.70L728.05,356.70L726.05,355.30L722.75,350.70Z" fill="#000060" stroke="#000060" stroke-width="0.8"/>
<path d="M720.75,346.70L725.35,349.30L728.05,352.70L726.05,354.70L724.05,353.30L720.75,348.70Z" fill="#f00000" stroke="#f00000" stroke-width="0.8"/>
<path d="M734.05,348.70L738.75,348.30L741.35,350.00L746.05,345.30L750.75,349.70L745.35,354.70L742.05,352.00L738.75,354.00L738.05,360.00L736.75,364.70L732.75,358.70L735.35,354.00L734.05,350.70Z" fill="#000060" stroke="#000060" stroke-width="0.8"/>
<path d="M732.05,346.70L736.75,346.30L739.35,348.00L744.05,343.30L748.75,347.70L743.35,352.70L740.05,350.00L736.75,352.00L736.05,358.00L734.75,362.70L730.75,356.70L733.35,352.00L732.05,348.70Z" fill="#f00000" stroke="#f00000" stroke-width="0.8"/>
<path d="M500.35,278.00L506.65,277.30L508.05,283.60L505.95,292.00L508.05,303.30L513.05,308.20L509.55,310.30L502.45,306.10L501.05,297.70L499.65,292.00L501.05,279.40Z" fill="#000060" stroke="#000060" stroke-width="0.8"/>
<path d="M503.35,277.00L509.65,276.30L511.05,282.60L508.95,291.00L511.05,302.30L516.05,307.20L512.55,309.30L505.45,305.10L504.05,296.70L502.65,291.00L504.05,278.40Z" fill="#f00000" stroke="#f00000" stroke-width="0.8"/>
<path d="M524.55,306.80L530.15,308.20L535.75,314.50L531.55,317.30L528.75,315.90L525.95,310.30Z" fill="#000060" stroke="#000060" stroke-width="0.8"/>
<path d="M526.55,305.80L532.15,307.20L537.75,313.50L533.55,316.30L530.75,314.90L527.95,309.30Z" fill="#f00000" stroke="#f00000" stroke-width="0.8"/>
<path d="M504.85,329.20L510.55,328.50L516.15,332.80L523.15,339.80L521.75,342.60L517.55,341.20L513.35,335.60L507.65,331.40Z" fill="#000060" stroke="#000060" stroke-width="0.8"/>
<path d="M506.85,328.20L512.55,327.50L518.15,331.80L525.15,338.80L523.75,341.60L519.55,340.20L515.35,334.60L509.65,330.40Z" fill="#f00000" stroke="#f00000" stroke-width="0.8"/>
<path d="M525.95,339.10L530.15,338.40L536.45,347.50L534.35,349.60L528.75,348.90L526.65,344.00Z" fill="#000060" stroke="#000060" stroke-width="0.8"/>
<path d="M527.95,338.10L532.15,337.40L538.45,346.50L536.35,348.60L530.75,347.90L528.65,343.00Z" fill="#f00000" stroke="#f00000" stroke-width="0.8"/>
<path d="M520.25,322.60L531.05,316.50" stroke="#000080" stroke-width="1.2"/>
<line x1="662.85" y1="259.55" x2="615.90" y2="239.62" stroke="#000090" stroke-width="1.1"/>
<line x1="664.51" y1="265.55" x2="649.82" y2="285.77" stroke="#0030ff" stroke-width="1.1" stroke-dasharray="1.5 2"/>
<circle cx="667.45" cy="261.50" r="5" fill="#fff"/>
<path d="M839.95,171.00l1.2,4" stroke="#0000a0" stroke-width="2"/>
<path d="M519.9,74L514.7,80.9L512.4,84.3L513.5,94.7L516.4,98.1L519.3,105L522.7,110.8L529.6,111.4L533.6,108.3L536.5,108.5L538.8,107.3L542.3,106.2L544,100.4L544.6,98.7L549.2,97L550.3,93.5L552.6,90.1L555.5,89.5L553.8,85.5L554.3,80.9L553.2,74" fill="none" stroke="#000" stroke-width="1.35" stroke-linejoin="round"/>
<path d="M480.2,179.3L490.7,179.3L492.8,176.9L494.9,173.1L497.8,173.7L503.4,176.9L509.7,181.4L519.5,178.3L528,174.8L537.8,169.2L548.3,162.1L549,154.4L551.5,153.7L552.5,148.8L554.6,146.7L553,143.9L549.7,143.2L549,146L545.9,141.8L549,139.7L551.8,134.5L575.1,133.2L575.8,145.8L579.3,146.2L584.2,146.2L584.9,138.1L583.5,136L584.2,133.6L587.8,133.2L589.9,131.8L591.3,134.6L594.8,136L600.4,136L607.4,139.2L612.3,137.4L619.4,138.1L624.3,139.5L626.4,142L629.2,143.4L633.4,142.3L635.1,140.2L637.6,142L641.8,141.6L646,136.7L648.2,138.1L654.5,136L656.6,133.2L659.4,134.6L660.1,131.1L664.8,127.4L668.8,125.4L671.1,126.8L674.6,123.9L677.4,122.8L675.7,126.2L678.6,127.9L680.9,126.8L681.5,123.9L683.8,122.8L684.6,116.7L691.8,117L693,121.6L698.1,120.5L701,122.8L703.9,132.5L704.5,137.1L697,136.9L699.3,145.7L705.6,144L706.8,140.6L711.3,144.6L715.9,142.3L714.2,137.7L716.5,140.6L726.9,136.6L722.8,129.1L715.4,132L708.5,129.1L715.9,124.5L708.5,109.5L720,104.4L729.7,123.9L733.2,123.3L733.8,126.8L729.2,128.5L730.3,132.5L740.7,127.4L735.5,117L736.6,114.7L740.7,118.7L741.8,121L746.4,116.4L745.3,114.1L743,114.7L743.5,111.8L733,102.9L739,96.2L753.7,107.8L759,101.1L756.5,99L754.1,101.1L741.4,90.2L744.2,81.5L751.3,79L758.3,81.1L772.3,85.3L773,82.5L773.8,75.4L771.5,75.2L769.4,80L767.8,78.9L768.3,76.6L762.3,74.3" fill="none" stroke="#000" stroke-width="1.35" stroke-linejoin="round"/>
<ellipse cx="508.4" cy="85.1" rx="1.3" ry="1.6" fill="#000"/>
<ellipse cx="670" cy="114.7" rx="1.3" ry="1.6" fill="#000"/>
<rect x="59" y="74" width="374.5" height="375" fill="none" stroke="#000" stroke-width="2.1"/>
<path d="M59,449L59,463.5M59,74L59,59.5M59,449L44.5,449M433.5,449L448,449M152.62,449L152.62,463.5M152.62,74L152.62,59.5M59,355.25L44.5,355.25M433.5,355.25L448,355.25M246.25,449L246.25,463.5M246.25,74L246.25,59.5M59,261.5L44.5,261.5M433.5,261.5L448,261.5M339.88,449L339.88,463.5M339.88,74L339.88,59.5M59,167.75L44.5,167.75M433.5,167.75L448,167.75M433.5,449L433.5,463.5M433.5,74L433.5,59.5M59,74L44.5,74M433.5,74L448,74" stroke="#000" stroke-width="2.1" fill="none"/>
<path d="M70.7,449L70.7,456M70.7,74L70.7,67M59,437.28L52,437.28M433.5,437.28L440.5,437.28M82.41,449L82.41,456M82.41,74L82.41,67M59,425.56L52,425.56M433.5,425.56L440.5,425.56M94.11,449L94.11,456M94.11,74L94.11,67M59,413.84L52,413.84M433.5,413.84L440.5,413.84M105.81,449L105.81,456M105.81,74L105.81,67M59,402.12L52,402.12M433.5,402.12L440.5,402.12M117.52,449L117.52,456M117.52,74L117.52,67M59,390.41L52,390.41M433.5,390.41L440.5,390.41M129.22,449L129.22,456M129.22,74L129.22,67M59,378.69L52,378.69M433.5,378.69L440.5,378.69M140.92,449L140.92,456M140.92,74L140.92,67M59,366.97L52,366.97M433.5,366.97L440.5,366.97M164.33,449L164.33,456M164.33,74L164.33,67M59,343.53L52,343.53M433.5,343.53L440.5,343.53M176.03,449L176.03,456M176.03,74L176.03,67M59,331.81L52,331.81M433.5,331.81L440.5,331.81M187.73,449L187.73,456M187.73,74L187.73,67M59,320.09L52,320.09M433.5,320.09L440.5,320.09M199.44,449L199.44,456M199.44,74L199.44,67M59,308.38L52,308.38M433.5,308.38L440.5,308.38M211.14,449L211.14,456M211.14,74L211.14,67M59,296.66L52,296.66M433.5,296.66L440.5,296.66M222.84,449L222.84,456M222.84,74L222.84,67M59,284.94L52,284.94M433.5,284.94L440.5,284.94M234.55,449L234.55,456M234.55,74L234.55,67M59,273.22L52,273.22M433.5,273.22L440.5,273.22M257.95,449L257.95,456M257.95,74L257.95,67M59,249.78L52,249.78M433.5,249.78L440.5,249.78M269.66,449L269.66,456M269.66,74L269.66,67M59,238.06L52,238.06M433.5,238.06L440.5,238.06M281.36,449L281.36,456M281.36,74L281.36,67M59,226.34L52,226.34M433.5,226.34L440.5,226.34M293.06,449L293.06,456M293.06,74L293.06,67M59,214.62L52,214.62M433.5,214.62L440.5,214.62M304.77,449L304.77,456M304.77,74L304.77,67M59,202.91L52,202.91M433.5,202.91L440.5,202.91M316.47,449L316.47,456M316.47,74L316.47,67M59,191.19L52,191.19M433.5,191.19L440.5,191.19M328.17,449L328.17,456M328.17,74L328.17,67M59,179.47L52,179.47M433.5,179.47L440.5,179.47M351.58,449L351.58,456M351.58,74L351.58,67M59,156.03L52,156.03M433.5,156.03L440.5,156.03M363.28,449L363.28,456M363.28,74L363.28,67M59,144.31L52,144.31M433.5,144.31L440.5,144.31M374.98,449L374.98,456M374.98,74L374.98,67M59,132.59L52,132.59M433.5,132.59L440.5,132.59M386.69,449L386.69,456M386.69,74L386.69,67M59,120.88L52,120.88M433.5,120.88L440.5,120.88M398.39,449L398.39,456M398.39,74L398.39,67M59,109.16L52,109.16M433.5,109.16L440.5,109.16M410.09,449L410.09,456M410.09,74L410.09,67M59,97.44L52,97.44M433.5,97.44L440.5,97.44M421.8,449L421.8,456M421.8,74L421.8,67M59,85.72L52,85.72M433.5,85.72L440.5,85.72" stroke="#000" stroke-width="1.7" fill="none"/>
<rect x="480.2" y="74" width="374.5" height="375" fill="none" stroke="#000" stroke-width="2.1"/>
<path d="M480.2,449L480.2,463.5M480.2,74L480.2,59.5M480.2,449L465.7,449M854.7,449L869.2,449M573.83,449L573.83,463.5M573.83,74L573.83,59.5M480.2,355.25L465.7,355.25M854.7,355.25L869.2,355.25M667.45,449L667.45,463.5M667.45,74L667.45,59.5M480.2,261.5L465.7,261.5M854.7,261.5L869.2,261.5M761.08,449L761.08,463.5M761.08,74L761.08,59.5M480.2,167.75L465.7,167.75M854.7,167.75L869.2,167.75M854.7,449L854.7,463.5M854.7,74L854.7,59.5M480.2,74L465.7,74M854.7,74L869.2,74" stroke="#000" stroke-width="2.1" fill="none"/>
<path d="M491.9,449L491.9,456M491.9,74L491.9,67M480.2,437.28L473.2,437.28M854.7,437.28L861.7,437.28M503.61,449L503.61,456M503.61,74L503.61,67M480.2,425.56L473.2,425.56M854.7,425.56L861.7,425.56M515.31,449L515.31,456M515.31,74L515.31,67M480.2,413.84L473.2,413.84M854.7,413.84L861.7,413.84M527.01,449L527.01,456M527.01,74L527.01,67M480.2,402.12L473.2,402.12M854.7,402.12L861.7,402.12M538.72,449L538.72,456M538.72,74L538.72,67M480.2,390.41L473.2,390.41M854.7,390.41L861.7,390.41M550.42,449L550.42,456M550.42,74L550.42,67M480.2,378.69L473.2,378.69M854.7,378.69L861.7,378.69M562.12,449L562.12,456M562.12,74L562.12,67M480.2,366.97L473.2,366.97M854.7,366.97L861.7,366.97M585.53,449L585.53,456M585.53,74L585.53,67M480.2,343.53L473.2,343.53M854.7,343.53L861.7,343.53M597.23,449L597.23,456M597.23,74L597.23,67M480.2,331.81L473.2,331.81M854.7,331.81L861.7,331.81M608.93,449L608.93,456M608.93,74L608.93,67M480.2,320.09L473.2,320.09M854.7,320.09L861.7,320.09M620.64,449L620.64,456M620.64,74L620.64,67M480.2,308.38L473.2,308.38M854.7,308.38L861.7,308.38M632.34,449L632.34,456M632.34,74L632.34,67M480.2,296.66L473.2,296.66M854.7,296.66L861.7,296.66M644.04,449L644.04,456M644.04,74L644.04,67M480.2,284.94L473.2,284.94M854.7,284.94L861.7,284.94M655.75,449L655.75,456M655.75,74L655.75,67M480.2,273.22L473.2,273.22M854.7,273.22L861.7,273.22M679.15,449L679.15,456M679.15,74L679.15,67M480.2,249.78L473.2,249.78M854.7,249.78L861.7,249.78M690.86,449L690.86,456M690.86,74L690.86,67M480.2,238.06L473.2,238.06M854.7,238.06L861.7,238.06M702.56,449L702.56,456M702.56,74L702.56,67M480.2,226.34L473.2,226.34M854.7,226.34L861.7,226.34M714.26,449L714.26,456M714.26,74L714.26,67M480.2,214.62L473.2,214.62M854.7,214.62L861.7,214.62M725.97,449L725.97,456M725.97,74L725.97,67M480.2,202.91L473.2,202.91M854.7,202.91L861.7,202.91M737.67,449L737.67,456M737.67,74L737.67,67M480.2,191.19L473.2,191.19M854.7,191.19L861.7,191.19M749.37,449L749.37,456M749.37,74L749.37,67M480.2,179.47L473.2,179.47M854.7,179.47L861.7,179.47M772.78,449L772.78,456M772.78,74L772.78,67M480.2,156.03L473.2,156.03M854.7,156.03L861.7,156.03M784.48,449L784.48,456M784.48,74L784.48,67M480.2,144.31L473.2,144.31M854.7,144.31L861.7,144.31M796.18,449L796.18,456M796.18,74L796.18,67M480.2,132.59L473.2,132.59M854.7,132.59L861.7,132.59M807.89,449L807.89,456M807.89,74L807.89,67M480.2,120.88L473.2,120.88M854.7,120.88L861.7,120.88M819.59,449L819.59,456M819.59,74L819.59,67M480.2,109.16L473.2,109.16M854.7,109.16L861.7,109.16M831.29,449L831.29,456M831.29,74L831.29,67M480.2,97.44L473.2,97.44M854.7,97.44L861.7,97.44M843,449L843,456M843,74L843,67M480.2,85.72L473.2,85.72M854.7,85.72L861.7,85.72" stroke="#000" stroke-width="1.7" fill="none"/>
<text transform="translate(43.88,499.80) scale(0.9100,1)" style="font-size:30px">−8</text>
<text transform="translate(-0.54,459.40) scale(0.9100,1)" style="font-size:30px">−8</text>
<text transform="translate(137.05,499.80) scale(0.9100,1)" style="font-size:30px">−4</text>
<text transform="translate(-1.45,365.65) scale(0.9100,1)" style="font-size:30px">−4</text>
<text transform="translate(237.75,499.80) scale(1.0000,1)" style="font-size:30px">0</text>
<text transform="translate(14.40,271.90) scale(1.0000,1)" style="font-size:30px">0</text>
<text transform="translate(331.38,499.80) scale(1.0000,1)" style="font-size:30px">4</text>
<text transform="translate(13.40,178.15) scale(1.0000,1)" style="font-size:30px">4</text>
<text transform="translate(425.00,499.80) scale(1.0000,1)" style="font-size:30px">8</text>
<text transform="translate(14.40,84.40) scale(1.0000,1)" style="font-size:30px">8</text>
<text transform="translate(465.07,499.80) scale(0.9100,1)" style="font-size:30px">−8</text>
<text transform="translate(558.25,499.80) scale(0.9100,1)" style="font-size:30px">−4</text>
<text transform="translate(658.95,499.80) scale(1.0000,1)" style="font-size:30px">0</text>
<text transform="translate(752.58,499.80) scale(1.0000,1)" style="font-size:30px">4</text>
<text transform="translate(846.20,499.80) scale(1.0000,1)" style="font-size:30px">8</text>
<rect x="59.1" y="508.8" width="9.4" height="11" fill="#000000"/>
<rect x="68.2" y="508.8" width="9.4" height="11" fill="#000000"/>
<rect x="77.3" y="508.8" width="9.4" height="11" fill="#000000"/>
<rect x="86.4" y="508.8" width="9.4" height="11" fill="#000000"/>
<rect x="95.5" y="508.8" width="9.4" height="11" fill="#000000"/>
<rect x="104.6" y="508.8" width="9.4" height="11" fill="#000000"/>
<rect x="113.7" y="508.8" width="9.4" height="11" fill="#000000"/>
<rect x="122.8" y="508.8" width="9.4" height="11" fill="#000000"/>
<rect x="131.9" y="508.8" width="9.4" height="11" fill="#000000"/>
<rect x="141" y="508.8" width="9.4" height="11" fill="#000000"/>
<rect x="150.1" y="508.8" width="9.4" height="11" fill="#0e0e0e"/>
<rect x="159.2" y="508.8" width="9.4" height="11" fill="#171717"/>
<rect x="168.3" y="508.8" width="9.4" height="11" fill="#212121"/>
<rect x="177.4" y="508.8" width="9.4" height="11" fill="#2a2a2a"/>
<rect x="186.5" y="508.8" width="9.4" height="11" fill="#333333"/>
<rect x="195.6" y="508.8" width="9.4" height="11" fill="#3d3d3d"/>
<rect x="204.7" y="508.8" width="9.4" height="11" fill="#464646"/>
<rect x="213.8" y="508.8" width="9.4" height="11" fill="#505050"/>
<rect x="222.9" y="508.8" width="9.4" height="11" fill="#595959"/>
<rect x="232" y="508.8" width="9.4" height="11" fill="#626262"/>
<rect x="241.1" y="508.8" width="9.4" height="11" fill="#6c6c6c"/>
<rect x="250.2" y="508.8" width="9.4" height="11" fill="#757575"/>
<rect x="259.3" y="508.8" width="9.4" height="11" fill="#7e7e7e"/>
<rect x="268.4" y="508.8" width="9.4" height="11" fill="#888888"/>
<rect x="277.5" y="508.8" width="9.4" height="11" fill="#919191"/>
<rect x="286.6" y="508.8" width="9.4" height="11" fill="#9a9a9a"/>
<rect x="295.7" y="508.8" width="9.4" height="11" fill="#a4a4a4"/>
<rect x="304.8" y="508.8" width="9.4" height="11" fill="#adadad"/>
<rect x="313.9" y="508.8" width="9.4" height="11" fill="#b6b6b6"/>
<rect x="323" y="508.8" width="9.4" height="11" fill="#c0c0c0"/>
<rect x="332.1" y="508.8" width="9.4" height="11" fill="#c9c9c9"/>
<rect x="341.2" y="508.8" width="9.4" height="11" fill="#d3d3d3"/>
<rect x="350.3" y="508.8" width="9.4" height="11" fill="#dcdcdc"/>
<rect x="359.4" y="508.8" width="9.4" height="11" fill="#e5e5e5"/>
<rect x="368.5" y="508.8" width="9.4" height="11" fill="#efefef"/>
<rect x="377.6" y="508.8" width="9.4" height="11" fill="#f8f8f8"/>
<path d="M386.7,508.8L396.2,514.3L386.7,519.8Z" fill="#ffff00"/>
<path d="M59.1,508.8V519.8M68.2,508.8V519.8M77.3,508.8V519.8M86.4,508.8V519.8M95.5,508.8V519.8M104.6,508.8V519.8M113.7,508.8V519.8M122.8,508.8V519.8M131.9,508.8V519.8M141,508.8V519.8M150.1,508.8V519.8M159.2,508.8V519.8M168.3,508.8V519.8M177.4,508.8V519.8M186.5,508.8V519.8M195.6,508.8V519.8M204.7,508.8V519.8M213.8,508.8V519.8M222.9,508.8V519.8M232,508.8V519.8M241.1,508.8V519.8M250.2,508.8V519.8M259.3,508.8V519.8M268.4,508.8V519.8M277.5,508.8V519.8M286.6,508.8V519.8M295.7,508.8V519.8M304.8,508.8V519.8M313.9,508.8V519.8M323,508.8V519.8M332.1,508.8V519.8M341.2,508.8V519.8M350.3,508.8V519.8M359.4,508.8V519.8M368.5,508.8V519.8M377.6,508.8V519.8M386.7,508.8V519.8" stroke="#000" stroke-width="1.4"/>
<path d="M59.1,519.8L59.1,508.8L386.7,508.8L396.2,514.3L386.7,519.8Z" fill="none" stroke="#000" stroke-width="2"/>
<path d="M59.1,519.8V533.6M104.6,519.8V533.6M150.1,519.8V533.6M195.6,519.8V533.6M241.1,519.8V533.6M286.6,519.8V533.6M332.1,519.8V533.6M377.6,519.8V533.6" stroke="#000" stroke-width="2"/>
<path d="M68.2,519.8V526.2M77.3,519.8V526.2M86.4,519.8V526.2M95.5,519.8V526.2M113.7,519.8V526.2M122.8,519.8V526.2M131.9,519.8V526.2M141,519.8V526.2M159.2,519.8V526.2M168.3,519.8V526.2M177.4,519.8V526.2M186.5,519.8V526.2M204.7,519.8V526.2M213.8,519.8V526.2M222.9,519.8V526.2M232,519.8V526.2M250.2,519.8V526.2M259.3,519.8V526.2M268.4,519.8V526.2M277.5,519.8V526.2M295.7,519.8V526.2M304.8,519.8V526.2M313.9,519.8V526.2M323,519.8V526.2M341.2,519.8V526.2M350.3,519.8V526.2M359.4,519.8V526.2M368.5,519.8V526.2" stroke="#000" stroke-width="1.6"/>
<text transform="translate(50.60,569.60) scale(1.0000,1)" style="font-size:30px">0</text>
<text transform="translate(83.60,569.60) scale(1.0000,1)" style="font-size:30px">2.5</text>
<text transform="translate(141.60,569.60) scale(1.0000,1)" style="font-size:30px">5</text>
<text transform="translate(174.60,569.60) scale(1.0000,1)" style="font-size:30px">7.5</text>
<text transform="translate(224.10,569.60) scale(1.0000,1)" style="font-size:30px">10</text>
<text transform="translate(257.10,569.60) scale(1.0000,1)" style="font-size:30px">12.5</text>
<text transform="translate(315.10,569.60) scale(1.0000,1)" style="font-size:30px">15</text>
<text transform="translate(348.10,569.60) scale(1.0000,1)" style="font-size:30px">17.5</text>
<rect x="480.2" y="509.3" width="8.92" height="9.9" fill="#d0ffff"/>
<rect x="488.82" y="509.3" width="8.92" height="9.9" fill="#b8ffff"/>
<rect x="497.44" y="509.3" width="8.92" height="9.9" fill="#a0ffff"/>
<rect x="506.06" y="509.3" width="8.92" height="9.9" fill="#88ffff"/>
<rect x="514.68" y="509.3" width="8.92" height="9.9" fill="#70ffff"/>
<rect x="523.3" y="509.3" width="8.92" height="9.9" fill="#48e0f8"/>
<rect x="531.92" y="509.3" width="8.92" height="9.9" fill="#38c8f8"/>
<rect x="540.54" y="509.3" width="8.92" height="9.9" fill="#28b0f8"/>
<rect x="549.16" y="509.3" width="8.92" height="9.9" fill="#1898f0"/>
<rect x="557.78" y="509.3" width="8.92" height="9.9" fill="#0880f0"/>
<rect x="566.4" y="509.3" width="8.92" height="9.9" fill="#1068f0"/>
<rect x="575.02" y="509.3" width="8.92" height="9.9" fill="#1850f8"/>
<rect x="583.64" y="509.3" width="8.92" height="9.9" fill="#0818ff"/>
<rect x="592.26" y="509.3" width="8.92" height="9.9" fill="#0000f0"/>
<rect x="600.88" y="509.3" width="8.92" height="9.9" fill="#0000d0"/>
<rect x="609.5" y="509.3" width="8.92" height="9.9" fill="#0000b0"/>
<rect x="618.12" y="509.3" width="8.92" height="9.9" fill="#000090"/>
<rect x="626.74" y="509.3" width="8.92" height="9.9" fill="#000070"/>
<rect x="635.36" y="509.3" width="8.92" height="9.9" fill="#000050"/>
<rect x="643.98" y="509.3" width="8.92" height="9.9" fill="#e80000"/>
<rect x="652.6" y="509.3" width="8.92" height="9.9" fill="#ff1010"/>
<rect x="661.22" y="509.3" width="8.92" height="9.9" fill="#ff3000"/>
<rect x="669.84" y="509.3" width="8.92" height="9.9" fill="#ff4000"/>
<rect x="678.46" y="509.3" width="8.92" height="9.9" fill="#ff6000"/>
<rect x="687.08" y="509.3" width="8.92" height="9.9" fill="#ff7800"/>
<rect x="695.7" y="509.3" width="8.92" height="9.9" fill="#ff8800"/>
<rect x="704.32" y="509.3" width="8.92" height="9.9" fill="#ffa020"/>
<rect x="712.94" y="509.3" width="8.92" height="9.9" fill="#ffb030"/>
<rect x="721.56" y="509.3" width="8.92" height="9.9" fill="#ffc040"/>
<rect x="730.18" y="509.3" width="8.92" height="9.9" fill="#ffd840"/>
<rect x="738.8" y="509.3" width="8.92" height="9.9" fill="#ffff50"/>
<rect x="747.42" y="509.3" width="8.92" height="9.9" fill="#ffff70"/>
<rect x="756.04" y="509.3" width="8.92" height="9.9" fill="#ffff80"/>
<rect x="764.66" y="509.3" width="8.92" height="9.9" fill="#ffff90"/>
<rect x="773.28" y="509.3" width="8.92" height="9.9" fill="#ffffa0"/>
<rect x="781.9" y="509.3" width="8.92" height="9.9" fill="#ffffb8"/>
<rect x="790.52" y="509.3" width="8.92" height="9.9" fill="#ffffc8"/>
<rect x="799.14" y="509.3" width="8.92" height="9.9" fill="#ffffe0"/>
<path d="M807.76,509.3L817.26,514.25L807.76,519.2Z" fill="#fffff0"/>
<path d="M480.2,509.3L470.7,514.25L480.2,519.2Z" fill="#e0ffff"/>
<path d="M480.2,509.3V519.2M488.82,509.3V519.2M497.44,509.3V519.2M506.06,509.3V519.2M514.68,509.3V519.2M523.3,509.3V519.2M531.92,509.3V519.2M540.54,509.3V519.2M549.16,509.3V519.2M557.78,509.3V519.2M566.4,509.3V519.2M575.02,509.3V519.2M583.64,509.3V519.2M592.26,509.3V519.2M600.88,509.3V519.2M609.5,509.3V519.2M618.12,509.3V519.2M626.74,509.3V519.2M635.36,509.3V519.2M643.98,509.3V519.2M652.6,509.3V519.2M661.22,509.3V519.2M669.84,509.3V519.2M678.46,509.3V519.2M687.08,509.3V519.2M695.7,509.3V519.2M704.32,509.3V519.2M712.94,509.3V519.2M721.56,509.3V519.2M730.18,509.3V519.2M738.8,509.3V519.2M747.42,509.3V519.2M756.04,509.3V519.2M764.66,509.3V519.2M773.28,509.3V519.2M781.9,509.3V519.2M790.52,509.3V519.2M799.14,509.3V519.2M807.76,509.3V519.2" stroke="#000" stroke-width="1.4"/>
<path d="M480.2,519.2L470.7,514.25L480.2,509.3L807.76,509.3L817.26,514.25L807.76,519.2Z" fill="none" stroke="#000" stroke-width="2"/>
<path d="M506.06,519.2V533.6M575.02,519.2V533.6M643.98,519.2V533.6M712.94,519.2V533.6M781.9,519.2V533.6" stroke="#000" stroke-width="2"/>
<path d="M480.2,519.2V525.8M488.82,519.2V525.8M497.44,519.2V525.8M514.68,519.2V525.8M523.3,519.2V525.8M531.92,519.2V525.8M540.54,519.2V525.8M549.16,519.2V525.8M557.78,519.2V525.8M566.4,519.2V525.8M583.64,519.2V525.8M592.26,519.2V525.8M600.88,519.2V525.8M609.5,519.2V525.8M618.12,519.2V525.8M626.74,519.2V525.8M635.36,519.2V525.8M652.6,519.2V525.8M661.22,519.2V525.8M669.84,519.2V525.8M678.46,519.2V525.8M687.08,519.2V525.8M695.7,519.2V525.8M704.32,519.2V525.8M721.56,519.2V525.8M730.18,519.2V525.8M738.8,519.2V525.8M747.42,519.2V525.8M756.04,519.2V525.8M764.66,519.2V525.8M773.28,519.2V525.8M790.52,519.2V525.8M799.14,519.2V525.8M807.76,519.2V525.8" stroke="#000" stroke-width="1.6"/>
<text transform="translate(490.94,569.60) scale(0.9100,1)" style="font-size:30px">−8</text>
<text transform="translate(559.44,569.60) scale(0.9100,1)" style="font-size:30px">−4</text>
<text transform="translate(635.48,569.60) scale(1.0000,1)" style="font-size:30px">0</text>
<text transform="translate(704.44,569.60) scale(1.0000,1)" style="font-size:30px">4</text>
<text transform="translate(773.40,569.60) scale(1.0000,1)" style="font-size:30px">8</text>
</svg>
</body></html>
